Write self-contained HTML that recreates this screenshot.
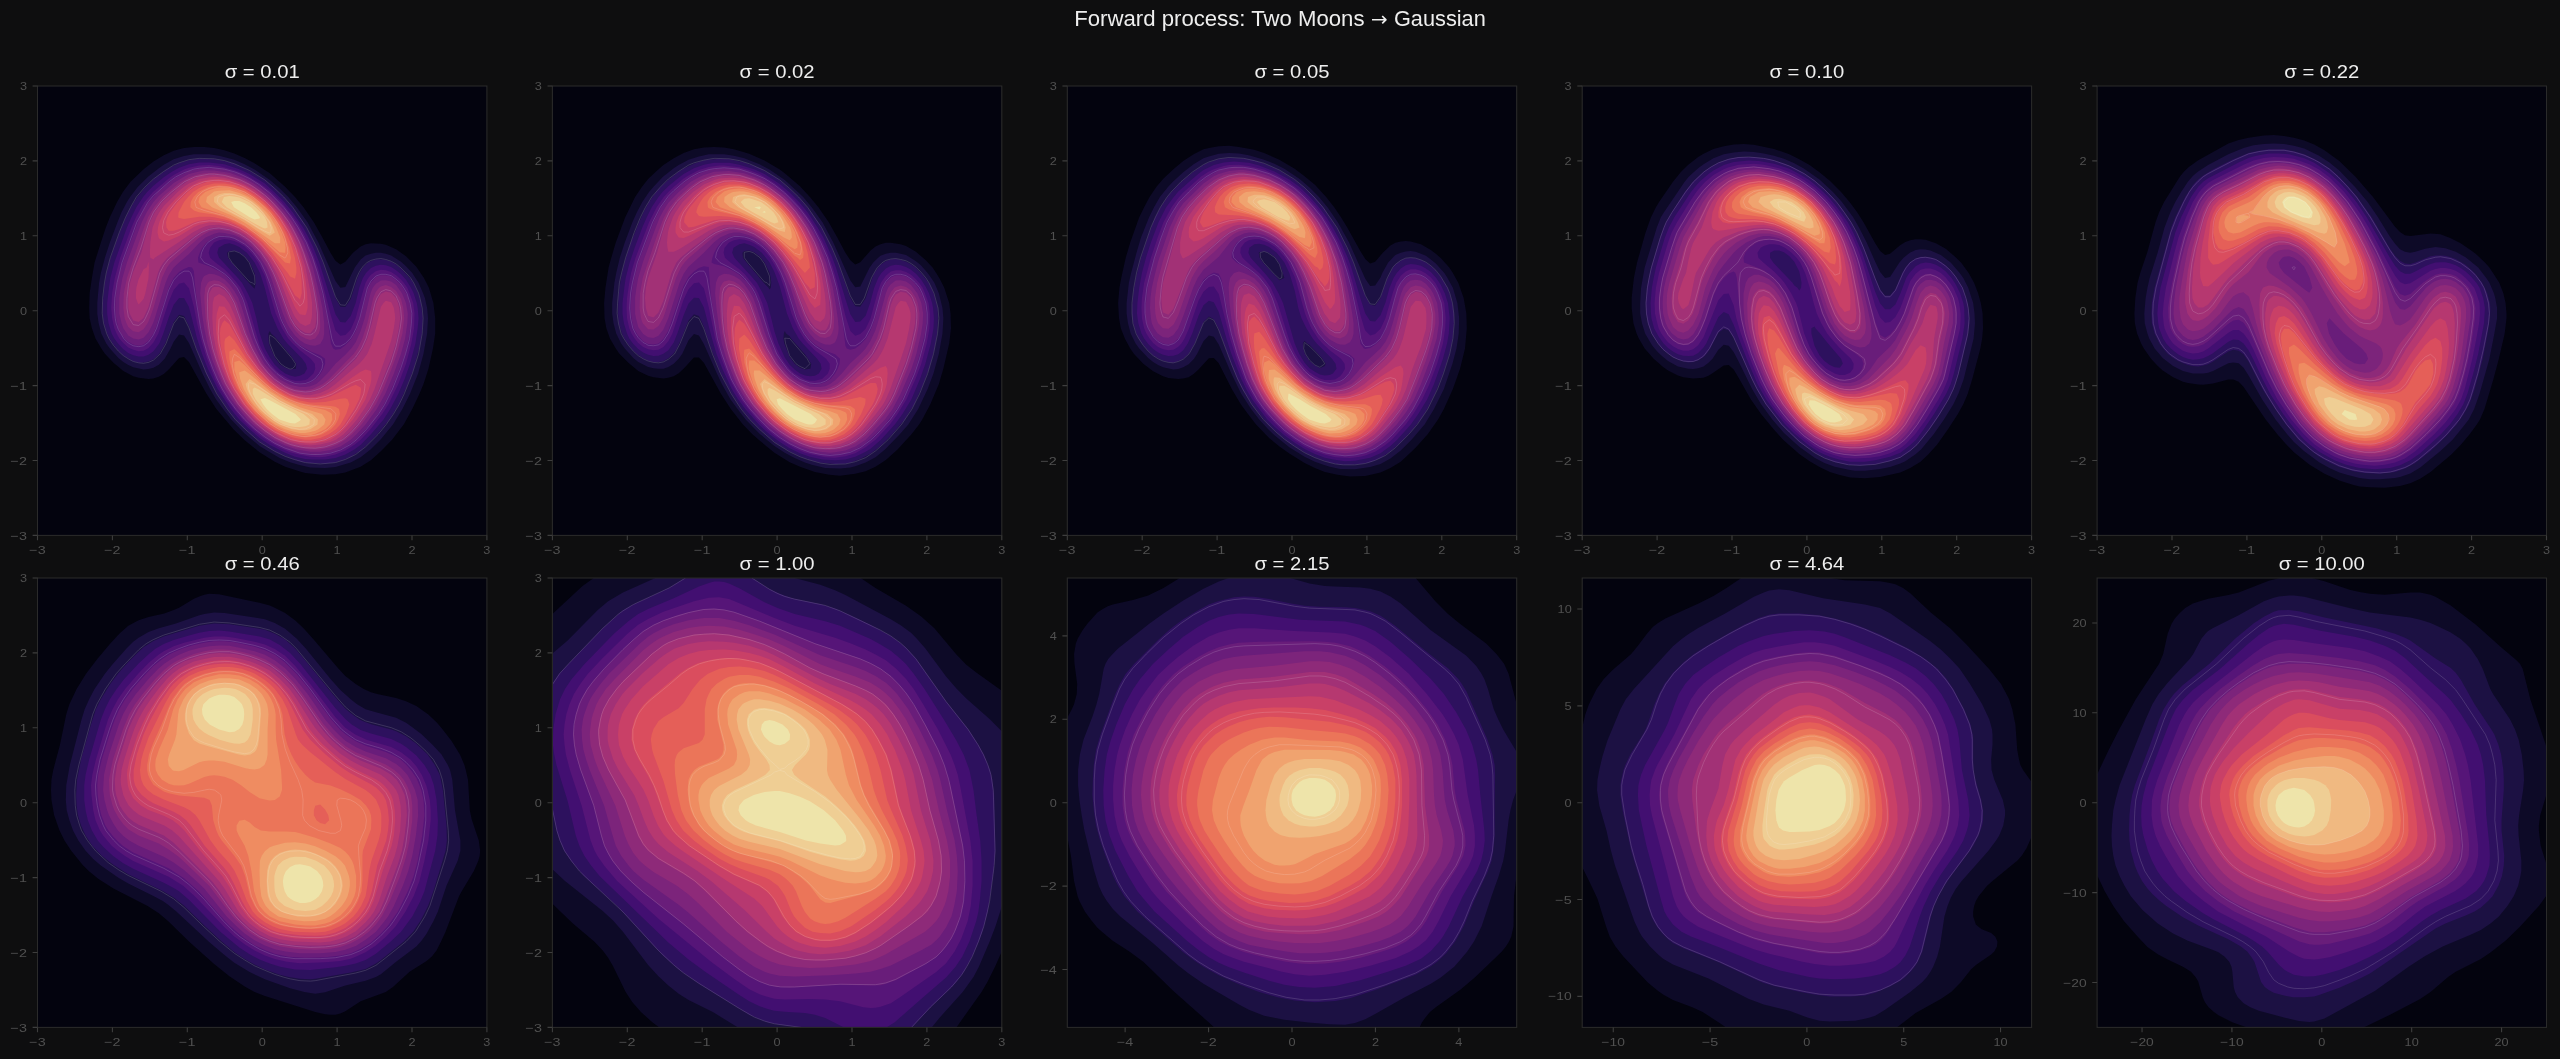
<!DOCTYPE html>
<html><head><meta charset="utf-8"><title>Forward process</title>
<style>
html,body{margin:0;padding:0;background:#0e0e0f;width:2560px;height:1059px;overflow:hidden}
svg{display:block;filter:blur(0.45px)}
text{font-family:"Liberation Sans",sans-serif}
.t{font-size:21.2px;fill:#eeeeee}
.st{font-size:18.4px;fill:#eeeeee}
.tk{font-size:11.8px;fill:#505050}
</style></head><body>
<svg width="2560" height="1059" viewBox="0 0 2560 1059">
<rect width="2560" height="1059" fill="#0e0e0f"/>
<defs><clipPath id="c"><rect width="1000" height="1000"/></clipPath></defs>
<text x="1074.27" y="26.00" class="t" textLength="290.23" lengthAdjust="spacingAndGlyphs">Forward process: Two Moons</text>
<path fill="#eeeeee" transform="translate(1370.86 26.00) scale(0.00977 -0.00977)" d="M1616 687V597L1223 204 1103 324 1336 557H117V727H1336L1103 960 1223 1080z"/>
<text x="1393.97" y="26.00" class="t" textLength="91.76" lengthAdjust="spacingAndGlyphs">Gaussian</text>
<g transform="translate(37.50 86.00) scale(0.449400)">
<g clip-path="url(#c)"><rect width="1000" height="1000" fill="#03030e"/>
<path fill="#0d0a27" d="M633 865l30-1 22-4 34-13 23-14 22-20 25-26 26-34 19-34 16-34 9-22 11-34 10-45 5-33 0-34-4-34-10-34-11-22-17-25-12-12-11-11-22-16-23-10-11-2-22-1-12 2-11 5-17 14-17 20-11 6-11-8-11-18-18-34-19-34-23-33-19-23-22-23-34-30-34-22-22-12-23-10-22-7-23-5-22-2-23 0-22 2-23 6-22 10-23 14-22 17-29 28-17 23-13 22-16 34-9 23-11 33-14 45-6 34-5 34-1 33 1 23 5 22 8 23 13 22 8 12 19 20 22 18 22 12 12 3 22 3 11-1 12-4 11-6 11-10 23-26 11-2 11 11 39 71 22 34 38 45 25 24 33 27 34 21 23 11 33 11 12 3 37 4z"/>
<path fill="#1c1143" d="M581 843l26 6 33 1 23-2 34-10 22-12 22-17 23-23 27-33 21-34 17-34 18-45 12-44 8-45 2-34-2-23-5-22-4-11-10-23-7-11-7-11-14-15-11-10-22-14-12-4-11-2-11 0-11 2-12 4-11 9-13 18-21 43-11 2-11-15-38-86-24-45-24-33-19-23-19-19-22-19-34-23-22-12-23-10-34-9-22-3-34 0-22 4-23 7-22 12-11 8-24 19-23 23-17 22-7 11-12 23-9 22-17 45-11 34-9 34-4 22-4 45 0 23 3 22 6 23 11 22 8 11 19 21 11 9 11 7 11 5 23 5 11-1 11-3 12-7 13-13 13-23 7-15 12-16 11 2 11 17 30 68 17 34 13 23 16 22 18 23 30 31 33 28 23 14 22 13 23 9 19 6z"/>
<path fill="#2d115e" d="M573 831l11 4 23 4 33 1 23-3 22-7 12-5 22-14 15-13 22-23 27-33 21-34 20-45 13-34 12-45 6-33 2-34-4-34-6-22-11-23-8-11-19-21-11-8-11-7-12-4-11-1-11 0-11 4-6 3-12 11-7 12-5 11-15 47-12 18-11-1-11-19-28-79-14-33-17-34-13-23-24-33-20-23-19-19-22-18-34-21-34-16-22-6-23-4-33-1-23 3-22 7-23 11-11 8-23 17-17 17-19 22-14 23-11 22-14 34-20 56-9 34-4 22-5 45 0 23 3 22 7 23 5 11 9 13 11 14 11 10 11 7 11 6 12 3 11 0 11-2 11-5 13-12 13-23 19-48 12-16 11 3 11 22 17 50 22 56 24 45 23 34 18 23 20 20 33 29 34 22 23 10 22 8zM483 451l-11-11-40-47-8-11-2-11 5-4 11-1 11 4 12 9 11 13 11 24 2 11 1 11-3 13zM562 631l-11-4-12-8-11-15-9-20-4-11-1-11 0-11 3-6 3 6 8 7 41 49 7 11-1 11-13 2z"/>
<path fill="#420f71" d="M611 831l29 0 23-3 22-8 20-11 15-11 22-23 28-33 15-23 18-34 14-33 12-34 12-45 5-34 2-22-2-23-2-11-7-22-6-12-11-18-11-12-11-9-11-7-12-4-11-1-11 2-11 5-11 11-7 11-8 22-8 34-11 29-12 14-11-1-11-17-36-115-13-33-11-23-12-22-23-34-19-23-21-21-22-20-34-21-23-11-33-11-34-4-22 0-23 4-22 8-16 9-18 12-23 19-14 14-9 11-15 23-11 22-10 23-28 78-9 34-3 22-4 34 0 23 3 22 7 23 6 11 9 12 11 12 11 8 11 5 12 3 11 0 11-4 11-8 13-17 9-22 12-36 11-28 12-15 11 0 11 20 18 70 11 34 13 33 22 45 29 45 19 23 23 22 22 19 23 16 34 17 22 9 23 5 15 1zM562 644l-11-4-12-9-11-11-11-16-11-20-4-11-8-24-7-32-9-34-10-22-13-23-9-11-42-45-4-11 3-11 13-8 11-2 11 3 11 5 17 13 17 22 12 23 11 34 14 56 14 33 13 23 9 11 33 34 8 11 3 11-6 11-10 5-11 2-11-3z"/>
<path fill="#561578" d="M581 820l26 5 22 1 11-1 23-5 22-9 21-13 13-11 22-23 26-34 14-22 22-45 17-45 12-45 6-34 1-33-3-23-8-22-5-12-8-11-6-7-11-10-11-7-12-4-11-1-11 3-11 8-6 7-6 11-7 23-15 56-11 25-12 12-11 2-11-12-11-36-18-70-10-34-12-33-10-23-11-22-13-23-17-22-18-23-26-25-23-17-33-20-23-9-34-9-22-2-22 1-23 5-11 4-23 12-11 8-35 30-19 22-7 12-12 22-10 23-25 67-12 45-6 34-2 33 2 23 5 22 5 12 6 11 9 10 11 10 11 5 12 3 11-1 11-6 11-12 11-20 23-71 11-26 12-14 11-3 11 13 3 11 8 30 7 37 8 34 14 45 18 45 12 22 14 23 16 22 19 23 16 16 22 19 23 16 22 12 23 10 19 5zM562 653l-23-13-11-10-11-14-11-17-12-24-4-13-23-79-9-22-6-12-14-18-11-12-11-11-20-15-12-11-3-11 3-11 9-12 11-5 12-2 11 1 11 3 11 5 12 7 14 14 9 11 7 11 15 30 24 83 14 33 14 23 10 11 16 15 24 19 9 11 1 11-4 11-13 12-5 2-12 2-11 0-11-3z"/>
<path fill="#691d7a" d="M561 809l23 7 34 4 22-2 23-5 22-10 23-16 22-23 19-22 16-23 18-34 19-45 16-44 8-34 5-34 0-22-1-12-5-22-5-11-11-18-11-11-7-5-4-3-12-3-11 0-11 4-11 13-6 11-21 79-7 18-9 16-14 15-11 8-11 2-5-3-5-11-8-56-12-56-8-34-10-34-13-33-11-23-12-22-23-34-28-31-22-21-34-22-23-11-33-10-23-3-22 0-11 1-23 5-22 11-12 7-35 29-21 24-7 10-12 22-9 23-29 78-7 23-5 22-4 34-1 22 2 23 5 22 6 12 8 11 8 7 11 6 12 3 11-3 11-8 11-16 5-12 29-90 11-22 12-13 11-7 11-4 7 1 4 8 2 26 4 34 8 56 7 34 6 22 12 34 14 34 11 22 14 23 16 22 20 23 21 20 23 18 22 14 23 11 10 4zM573 663l-22-9-20-14-14-15-13-18-12-23-9-22-20-68-9-22-11-23-9-11-18-18-12-8-22-11-24-8-1-11 4-11 6-11 9-12 17-11 11-3 12-1 11 2 11 3 23 13 11 9 10 11 16 22 11 23 9 22 25 79 8 18 9 16 13 16 11 10 23 13 22 9 11 8 0 11-4 11-6 11-10 12-13 8-9 3-14 1-11-1z"/>
<path fill="#7c247b" d="M577 809l30 5 22 0 23-4 22-8 23-15 13-12 20-22 25-34 19-34 19-45 16-44 9-34 5-34 1-22-4-23-9-22-13-18-11-8-12-3-11 1-11 7-7 9-5 12-13 56-9 28-11 25-10 14-13 14-22 20-18 22-16 16-9 7-13 5-11 2-12 0-22-5-23-12-14-13-20-22-13-22-11-23-9-24-17-55-8-22-9-16-11-15-11-11-12-7-11-4-11-1-11 5-3 4-4 11-2 23 4 45 5 33 7 34 10 34 13 33 10 23 20 34 17 22 19 23 16 15 23 18 22 14 23 11 26 9zM595 573l12 4 11 1 11-4 7-12 2-11 0-23-4-34-7-33-14-57-12-33-9-23-12-22-13-23-16-22-23-26-11-11-23-18-11-8-22-12-23-9-11-4-34-5-22 0-11 2-23 6-11 6-23 14-33 29-12 13-8 12-7 11-11 22-33 90-10 34-4 22-3 23 0 34 5 22 4 11 11 16 11 7 12 2 11-4 11-12 10-20 4-11 24-79 7-17 11-17 12-11 22-19 24-26 13-11 19-8 11-3 12 1 22 5 11 5 12 8 17 15 16 19 16 25 10 23 26 79 9 22 7 12 11 15 11 11 11 7z"/>
<path fill="#8e2a79" d="M605 809l24 0 23-5 16-6 17-11 15-12 21-22 17-23 15-22 17-34 18-45 12-33 12-45 4-34-2-23-5-20-8-13-3-5-11-9-12-4-11 3-4 3-7 9-6 14-13 56-11 34-11 22-8 12-55 56-14 11-23 11-16 3-12-1-11-2-11-4-15-7-19-13-20-21-15-22-13-23-14-33-22-68-12-22-5-8-11-12-12-7-11-2-11 3-3 3-6 11-2 23 3 45 5 34 7 33 11 34 13 34 12 22 22 34 18 22 21 22 23 18 22 15 23 11 22 8 32 5zM596 562l11 3 11-3 8-11 3-12 0-11-1-22-5-34-7-34-16-56-19-45-12-22-15-23-28-34-32-27-33-21-34-12-11-3-23-2-22 1-11 2-23 7-22 13-37 31-19 23-13 22-9 23-38 112-7 34-1 33 3 23 4 11 4 8 3 3 8 7 12 2 11-7 9-13 5-11 8-23 19-67 11-23 8-11 12-11 52-45 11-7 11-6 11-3 11-1 23 3 22 10 23 15 22 23 15 22 12 23 9 22 21 61 11 27 11 17 11 12 12 7z"/>
<path fill="#a23176" d="M568 798l28 6 22 1 22-4 23-7 13-7 21-18 23-27 17-23 19-34 19-49 12-30 11-36 6-31 3-22-2-23-3-11-4-10-11-13-12-3-11 6-5 9-6 14-9 42-10 34-10 22-15 23-47 45-22 17-11 6-11 4-11 3-11 0-23-3-22-9-12-7-11-8-15-15-18-22-20-34-15-33-22-63-11-21-11-13-12-7-11 0-4 2-7 12-2 22 1 34 4 34 7 33 6 23 12 33 11 23 12 22 15 23 19 22 16 17 23 19 22 14 23 12 17 6zM581 539l3 3 12 7 11 1 11-13 3-20-1-23-5-33-7-34-9-34-8-22-9-23-11-22-21-34-18-22-15-16-23-19-22-15-11-5-12-6-22-7-11-2-23-2-22 1-11 2-23 9-22 15-37 33-17 23-11 22-7 23-12 45-18 43-7 24-4 23 0 33 3 12 8 16 12 3 11-9 11-24 21-76 5-12 7-11 9-11 56-45 16-11 21-9 11-2 11 0 23 3 22 10 15 9 14 11 21 23 16 22 12 23 9 22 26 71 11 21 8 9z"/>
<path fill="#b63870" d="M584 798l23 2 22-2 23-6 12-5 17-12 11-11 19-22 16-23 13-22 10-23 37-107 6-28 3-22-1-11-2-12-5-11-1-2-12-3-5 5-6 9-14 59-6 22-10 23-8 11-10 11-53 45-15 11-19 9-8 2-14 3-11 0-23-4-22-10-23-14-22-22-16-20-20-34-16-33-16-42-11-25-11-15-12-6-11 7-3 13-1 34 2 34 6 33 9 34 14 34 11 22 14 23 17 22 21 23 12 11 22 16 22 13 23 10 22 6zM584 528l12 6 11-5 3-12 1-11 0-23-3-22-12-60-14-41-10-23-12-22-23-34-20-22-11-10-23-18-22-12-12-5-11-4-22-6-23-2-11 1-22 4-23 10-12 8-13 11-31 31-10 14-6 11-9 23-5 33-1 23 1 11 7 4 3-4 54-35 30-21 15-8 11-5 11-3 22-1 23 5 11 4 23 12 22 18 12 12 18 22 19 34 10 22 20 52 7 16 4 8 11 14zM223 483l2 3 11-12 4-13 7-34 1-23-1-13-4 13-7 4-11 22-5 19-1 12 0 11 4 11z"/>
<path fill="#c94067" d="M558 787l26 7 23 2 11-1 22-4 12-4 19-12 12-11 19-22 15-23 13-22 11-34 2-11 0-12-1-6-12-3-11 5-22 15-34 24-20 10-14 5-11 2-22 1-23-5-11-4-19-10-17-11-12-11-21-23-16-22-13-23-37-78-11-15-12-1-5 16-1 11-1 22 2 23 5 32 7 24 8 22 10 23 13 22 15 23 15 18 15 16 30 23 22 14 19 8zM582 506l2 2 12 2 2-4 3-12 0-11-1-22-4-34-8-34-7-22-13-34-19-34-17-22-9-11-29-26-22-16-11-6-23-8-11-4-23-3-22 1-22 5-23 12-26 22-21 23-9 12-10 21-3 12-1 11 3 13 11 7 11-2 23-10 33-20 12-5 22-5 11-1 23 3 22 8 11 5 23 14 17 15 11 12 18 22 15 22 11 23 29 66 9 13z"/>
<path fill="#da4d5e" d="M570 787l26 4 22-1 22-5 12-5 11-7 11-9 9-11 22-34 11-22 3-12 1-11-1-3-11-6-11 4-45 22-21 6-13 1-22-1-12-2-22-7-11-5-15-9-19-14-11-11-18-20-24-33-37-66-11-9-5 7-4 11-1 12 1 22 4 23 5 22 8 22 10 23 12 22 15 22 11 14 20 21 13 11 16 11 18 11 12 5 19 7zM581 472l3 3 4-14 0-23-2-22-2-12-8-33-13-34-19-34-16-22-21-23-24-18-26-15-19-7-11-3-23-3-25 1-19 7-11 5-15 11-22 22-17 23-6 11-3 11 1 12 5 7 11 0 12-3 34-16 11-3 22-3 11 1 23 3 22 8 23 12 21 16 12 11 21 23 17 22 14 23 27 50 8 6z"/>
<path fill="#e55f58" d="M595 787l13 0 21-4 19-8 16-11 10-11 13-23 7-22-4-11-5-2-11 1-34 7-22 1-11 0-23-4-22-8-11-5-21-13-13-10-25-24-27-33-27-41-11-11-9 7-2 7 0 15 4 23 7 28 11 28 6 11 22 34 17 20 11 11 17 14 17 12 23 11 11 4 11 3 22 4zM570 427l3 2 3-13 0-12-3-21-10-35-10-22-13-23-16-22-22-23-19-14-22-14-23-9-22-4-23 0-22 5-11 5-14 9-11 11-9 11-12 23-1 11 2 2 11 2 34-5 22 0 11 1 23 5 11 3 22 11 25 15 27 22 21 23 29 38 6 7 5 8 8 3z"/>
<path fill="#eb7559" d="M559 775l14 4 23 3 22-2 16-5 19-11 10-11 6-11 4-12-2-11-8-5-11-2-34-2-22-3-23-6-22-10-28-17-26-22-21-23-27-33-11-11-11 6 0 16 2 11 9 34 10 22 14 23 21 26 23 21 11 9 17 11 25 11zM551 393l11 2 2-13-4-22-12-34-13-23-16-22-13-14-23-19-22-14-23-8-11-3-23-2-22 3-11 5-13 7-11 11-6 11-1 12 8 7 11 4 34 5 23 6 22 9 23 12 22 15 24 20 44 45z"/>
<path fill="#ef8c61" d="M574 775l22 2 11 0 11-3 22-10 11-11 5-11-1-12-3-3-12-6-56-12-22-8-11-5-23-14-25-19-42-42-12-10-11 3 0 17 10 32 13 24 22 31 23 22 22 16 23 12 23 7zM549 371l2 0 1-11-1-12-8-22-12-23-14-19-13-14-13-12-15-11-27-14-22-6-11-1-12 0-11 2-11 4-9 4-12 11-3 11 7 12 51 17 33 15 38 24 52 44 10 1z"/>
<path fill="#f0a36f" d="M551 764l22 6 11 2 12 0 11-2 11-3 7-3 13-11 3-11-8-12-49-15-33-15-34-21-45-38-11-8-12 4 0 3 2 12 8 22 13 23 8 11 14 16 19 18 16 11 22 11zM526 348l2 2 11 0 1-2 0-11-9-22-13-23-9-11-11-11-15-13-14-10-20-9-22-6-23 1-11 2-16 12-2 11 13 12 39 16 22 11 23 14 54 37z"/>
<path fill="#f0b981" d="M566 764l18 2 12 0 11-2 16-11 1-11-13-12-38-14-34-17-22-15-45-32-9 11 3 11 5 11 7 12 16 22 12 11 22 17 11 7 27 10zM504 326l13 7 11-7-4-11-5-12-16-22-10-11-14-12-18-11-23-7-11-2-11 0-12 3-11 6 0 11 13 12 55 29 43 27z"/>
<path fill="#efce94" d="M548 753l14 4 11 2 11 0 12-2 9-4 1-11-14-12-53-26-45-28-11-5-4 3 0 11 6 12 17 22 11 11 14 12 21 11zM500 315l6 2 6-2-1-12-5-11-9-11-14-13-12-10-22-10-11-2-11-1-12 2-5 11 11 12 62 36 17 9z"/>
<path fill="#eee4aa" d="M538 742l24 8 11 1 11-6 2-3-12-12-57-31-11-5-10 3 6 11 8 11 12 11 16 12zM472 292l11 5 11-2 1-3-8-11-12-11-14-9-12-5-11 0-7 2 6 12 35 22z"/>
<g fill="none" stroke="#fff" stroke-opacity="0.15" stroke-width="2.2">
<path d="M571 831l25 7 33 3 34-3 22-7 23-11 22-17 28-28 18-22 16-23 13-22 11-23 18-45 14-44 8-45 2-34-2-23-5-22-3-11-11-23-7-11-10-11-11-11-11-9-11-6-12-4-11-2-11 1-11 3-9 5-11 11-7 12-5 11-15 45-10 16-11-1-11-18-27-76-14-33-23-45-31-45-20-23-20-19-22-19-34-21-34-15-22-7-23-4-33-1-23 3-22 7-12 5-22 14-23 17-19 18-19 22-13 23-11 22-14 34-20 56-9 34-4 22-4 34-1 34 3 22 7 23 5 11 10 15 11 13 11 10 11 7 11 6 12 3 11 1 11-2 11-5 15-14 13-23 17-44 12-16 11 3 11 22 16 46 23 56 23 45 23 34 18 23 21 21 33 29 34 21 23 11 20 7zM562 630l-11-5-10-7-13-17-11-28-1-11 1-8 11 7 39 46 7 11-1 5-6 6-5 1zM483 442l-5-4-6-2-39-43-7-11-1-11 2-2 11-2 11 4 12 9 10 13 12 30 1 15-1 4z"/>
<path d="M608 820l21 0 23-3 22-7 22-12 14-11 22-23 27-34 14-22 17-34 18-45 11-33 9-34 4-34 1-22-4-23-7-22-7-12-8-11-9-8-11-8-12-3-11 0-11 4-11 11-8 15-17 68-8 22-6 12-6 10-12 12-11 6-11 0-4-6-4-11-20-101-12-45-11-34-14-34-18-33-15-23-17-22-31-32-23-18-22-14-23-11-11-4-22-6-34-4-22 2-12 2-22 8-18 9-15 11-35 31-12 14-7 12-18 33-33 90-11 45-5 34-1 22 2 23 2 11 5 14 12 20 10 10 11 6 12 2 11-2 11-8 11-16 7-15 27-85 11-22 12-13 11-7 11 0 4 4 4 11 18 112 5 23 10 34 12 33 10 23 11 22 14 23 16 22 20 23 22 21 23 18 22 14 23 11 33 11 24 3zM584 663l-11-1-22-9-18-13-16-16-12-17-12-23-10-24-23-77-4-11-12-23-17-21-11-10-23-15-22-10-8-11 2-11 5-11 9-12 14-9 11-4 12 0 11 1 11 3 11 6 12 7 11 9 9 10 16 22 11 23 9 23 24 78 5 11 12 23 15 18 11 10 12 8 36 20 3 11-2 11-6 11-10 12-10 6-11 4-12 1z"/>
<path d="M564 798l20 5 12 2 22 1 22-3 23-8 16-8 18-15 17-19 25-34 19-34 29-70 11-35 9-41 3-22-2-23-3-11-5-11-2-5-11-11-12-3-11 5-9 14-4 11-13 56-7 23-10 22-13 19-50 49-18 14-11 7-11 4-11 3-11 1-23-3-11-4-11-5-23-16-14-13-18-22-19-34-15-33-24-68-11-20-11-13-12-7-11-1-10 7-4 12-1 22 1 34 4 34 7 33 7 23 12 33 10 23 13 22 15 23 19 22 17 18 23 19 22 15 23 11 13 5zM592 551l4 2 11 1 6-3 5-5 3-7 2-11 0-22-3-23-6-34-7-32-15-46-9-23-11-22-13-23-16-22-26-28-11-10-23-17-11-7-23-11-33-9-23-3-11 0-11 2-20 4-24 11-29 23-23 22-17 23-10 22-18 57-17 44-10 34-4 34 0 22 3 19 11 18 12 2 11-9 4-7 7-15 3-8 22-78 9-17 11-14 57-48 16-11 17-7 11-2 11-1 23 4 22 9 13 8 15 11 21 23 15 22 12 23 9 22 17 47 12 32 10 17 11 12 8 5z"/>
<path d="M565 787l19 4 12 1 22 0 22-5 24-12 13-11 10-11 23-34 11-22 5-12 2-11 1-11-10-10-11 3-11 5-41 24-16 6-22 5-11 0-23-2-22-7-11-6-13-7-21-16-27-29-24-33-39-75-11-12-10 8-2 3-2 31 2 22 12 49 11 30 11 22 23 35 18 21 15 15 12 10 22 15 23 11 14 6zM579 483l5 7 7-7 3-11 0-11-2-23-5-34-13-44-15-34-21-34-18-22-11-12-26-20-23-13-11-5-22-7-23-3-11 0-22 3-23 9-18 14-22 22-18 23-9 18-3 16 3 12 11 5 11-2 12-5 33-18 12-4 22-3 22 1 23 6 22 9 16 10 28 22 11 12 18 22 21 34 30 61 6 6z"/>
<path d="M566 775l18 4 12 1 22-3 11-3 17-10 11-11 6-11 1-12-1-2-9-9-2-1-45-6-23-5-22-8-23-12-19-13-13-11-24-23-34-36-11-7-4 10-1 11 4 22 14 34 21 33 21 23 24 21 22 14 27 10zM549 382l2 1 1-1 5-11-1-11-6-23-10-22-12-19-11-15-23-22-15-12-18-11-23-8-14-3-20-1-11 1-11 3-11 5-5 3-11 11-5 11 3 12 7 3 11 4 45 12 22 9 23 12 37 27 41 39 10 6z"/>
<path d="M583 764l13-1 11-5 8-5 1-11-14-12-40-17-23-12-56-38-11-3-3 3 1 11 4 11 14 23 21 22 14 12 19 11 20 7 21 4zM513 326l4 1 2-1 1-11-4-12-16-22-10-11-15-12-20-11-17-5-11-1-11 1-14 5-2 11 13 12 48 26 33 21 12 6 7 3z"/>
</g></g>
<rect x="0" y="0" width="1000" height="1000" fill="none" stroke="#2a2a2a" stroke-width="2.4"/>
</g>
<text x="262.20" y="77.50" text-anchor="middle" class="st" textLength="74.98" lengthAdjust="spacingAndGlyphs">σ = 0.01</text>
<text x="37.50" y="554.40" text-anchor="middle" class="tk" textLength="16.36" lengthAdjust="spacingAndGlyphs">−3</text>
<text x="27.00" y="539.50" text-anchor="end" class="tk" textLength="16.36" lengthAdjust="spacingAndGlyphs">−3</text>
<text x="112.40" y="554.40" text-anchor="middle" class="tk" textLength="16.36" lengthAdjust="spacingAndGlyphs">−2</text>
<text x="27.00" y="464.60" text-anchor="end" class="tk" textLength="16.36" lengthAdjust="spacingAndGlyphs">−2</text>
<text x="187.30" y="554.40" text-anchor="middle" class="tk" textLength="16.36" lengthAdjust="spacingAndGlyphs">−1</text>
<text x="27.00" y="389.70" text-anchor="end" class="tk" textLength="16.36" lengthAdjust="spacingAndGlyphs">−1</text>
<text x="262.20" y="554.40" text-anchor="middle" class="tk" textLength="7.06" lengthAdjust="spacingAndGlyphs">0</text>
<text x="27.00" y="314.80" text-anchor="end" class="tk" textLength="7.06" lengthAdjust="spacingAndGlyphs">0</text>
<text x="337.10" y="554.40" text-anchor="middle" class="tk" textLength="7.06" lengthAdjust="spacingAndGlyphs">1</text>
<text x="27.00" y="239.90" text-anchor="end" class="tk" textLength="7.06" lengthAdjust="spacingAndGlyphs">1</text>
<text x="412.00" y="554.40" text-anchor="middle" class="tk" textLength="7.06" lengthAdjust="spacingAndGlyphs">2</text>
<text x="27.00" y="165.00" text-anchor="end" class="tk" textLength="7.06" lengthAdjust="spacingAndGlyphs">2</text>
<text x="486.90" y="554.40" text-anchor="middle" class="tk" textLength="7.06" lengthAdjust="spacingAndGlyphs">3</text>
<text x="27.00" y="90.10" text-anchor="end" class="tk" textLength="7.06" lengthAdjust="spacingAndGlyphs">3</text>
<path d="M37.50 535.40v4.90M37.50 535.40h-4.90M112.40 535.40v4.90M37.50 460.50h-4.90M187.30 535.40v4.90M37.50 385.60h-4.90M262.20 535.40v4.90M37.50 310.70h-4.90M337.10 535.40v4.90M37.50 235.80h-4.90M412.00 535.40v4.90M37.50 160.90h-4.90M486.90 535.40v4.90M37.50 86.00h-4.90" stroke="#3e3e3e" stroke-width="1.1"/>
<g transform="translate(552.40 86.00) scale(0.449400)">
<g clip-path="url(#c)"><rect width="1000" height="1000" fill="#03030e"/>
<path fill="#0d0a27" d="M616 865l24 2 34-4 23-6 22-10 23-15 26-23 31-34 17-22 7-11 18-34 19-45 10-34 13-56 4-34-1-33-3-23-11-34-11-22-7-11-8-12-15-16-22-19-22-13-12-4-22-3-11 0-12 3-11 5-11 9-23 26-11 5-11-9-11-17-18-34-19-34-23-33-19-23-22-24-34-29-11-8-34-20-34-15-34-10-22-4-22-1-23 1-22 4-23 8-22 12-23 15-17 15-17 16-14 18-15 22-22 45-21 56-10 34-6 22-7 45-3 34 1 34 4 22 8 23 13 22 8 12 20 20 22 18 22 11 12 3 22 3 11-2 12-3 11-7 11-10 23-25 11 0 11 12 38 69 22 34 27 34 21 22 16 14 33 27 34 21 23 10 33 12 32 6z"/>
<path fill="#1c1143" d="M577 843l30 7 33 1 23-2 11-3 23-8 22-12 21-17 33-34 19-22 22-34 21-45 13-34 12-44 8-45 2-34-2-23-8-33-10-23-7-11-8-11-15-17-11-9-22-14-12-3-11-2-11 0-11 2-12 5-5 4-11 11-8 11-21 42-11 2-11-15-38-85-24-45-24-33-19-23-19-18-22-20-34-23-22-12-34-13-23-6-22-3-34 0-22 5-23 7-22 12-11 7-24 19-21 22-10 12-15 22-12 23-10 22-17 45-11 34-8 34-4 22-5 45 0 23 3 22 6 23 11 22 8 11 19 21 11 9 22 11 12 3 11 1 11 0 11-4 12-7 11-11 8-11 14-30 12-14 11 3 11 19 29 66 11 23 19 34 16 22 18 23 31 32 33 27 23 15 22 12 23 10 15 5z"/>
<path fill="#2d115e" d="M571 831l25 7 33 3 23-1 11-2 22-8 23-12 22-17 26-26 28-33 21-34 20-45 13-34 12-45 6-33 2-34-1-23-9-33-11-23-8-11-9-11-11-11-11-8-11-6-12-4-11-2-11 1-11 4-12 8-5 6-8 12-5 11-15 46-12 18-11-1-11-18-28-79-14-33-17-34-13-23-24-33-20-23-19-18-22-19-23-15-22-12-34-13-34-7-22-1-23 2-11 2-22 7-23 11-11 7-23 18-17 16-10 11-16 22-12 23-10 22-18 45-11 34-9 34-4 22-4 34-1 34 2 22 7 23 5 11 9 13 11 14 11 9 11 8 11 5 12 3 11 0 11-2 11-6 11-10 8-12 10-22 16-40 12-14 11 4 11 23 16 49 22 56 24 45 22 34 19 23 21 21 33 29 34 21 23 11 20 7zM483 453l-2-4-9-9-40-47-8-11-1-11 4-4 11-1 11 4 12 9 11 13 11 23 3 12 1 11-1 11-3 4zM562 631l-11-4-12-9-11-15-12-30-2-11 1-11 2-6 3 6 8 6 3 5 31 35 7 10 7 11-2 11-12 2z"/>
<path fill="#420f71" d="M601 831l28 2 23-2 22-6 23-11 11-7 23-20 31-34 17-23 20-33 19-45 12-34 12-45 6-34 1-22-2-23-2-11-7-22-7-14-11-17-11-12-11-9-11-6-12-4-11-1-11 2-11 6-10 10-7 11-9 22-9 34-10 28-12 13-11 1-11-17-11-34-21-70-8-22-20-45-13-22-22-34-19-23-21-21-22-19-34-22-23-11-33-10-23-4-33 0-23 4-22 8-23 13-11 8-23 19-13 13-9 11-15 23-11 22-10 23-17 45-11 33-9 34-3 22-4 34 0 23 3 22 7 23 5 11 9 12 11 11 11 8 11 5 12 3 11-1 11-4 11-8 12-17 8-20 14-41 11-26 12-13 11 1 11 21 18 69 10 34 13 33 21 45 14 23 16 22 32 36 22 20 23 17 22 14 23 11 22 8 28 6zM562 644l-11-4-12-9-11-11-11-16-14-31-9-27-7-29-9-34-10-22-13-23-9-11-41-45-5-11 3-11 13-8 11-2 11 3 11 5 17 13 17 21 11 22 5 13 7 19 16 60 13 33 13 23 9 11 32 34 8 11 2 11-6 11-9 5-11 1-11-2z"/>
<path fill="#561578" d="M577 820l30 6 22 1 23-3 22-7 23-13 22-17 32-34 17-23 20-33 20-45 13-34 12-45 6-34 1-33-3-23-8-22-5-12-8-11-7-8-11-10-11-6-12-4-11 0-11 3-11 9-11 16-8 23-15 56-11 23-12 12-11 4-11-11-2-6-9-28-18-73-10-34-12-33-10-23-12-22-13-23-16-22-22-26-22-21-23-18-33-20-23-9-22-6-34-4-11 0-23 3-22 7-23 12-11 7-22 19-12 11-11 12-15 22-17 33-30 79-10 34-4 22-5 34-1 22 1 23 5 22 5 12 7 11 8 10 11 9 11 5 12 2 11-1 11-6 11-13 9-17 25-76 11-23 12-13 11-2 11 13 3 11 8 32 14 69 14 45 13 33 11 23 19 34 17 22 19 23 17 17 22 19 23 15 22 13 23 10 15 4zM562 653l-23-13-11-10-11-14-11-18-12-25-11-34-16-56-9-22-6-12-14-18-11-13-11-10-20-15-12-11-3-11 2-11 10-12 11-5 12-2 11 1 11 3 11 5 12 7 11 10 11 13 11 18 12 23 11 32 15 53 14 33 14 23 9 11 15 15 25 19 8 11 0 11-4 11-13 12-16 4-11 0-11-3z"/>
<path fill="#691d7a" d="M607 820l22 0 23-3 22-8 19-11 26-23 21-22 18-23 15-22 16-34 19-45 10-33 11-45 3-23 0-22-3-23-8-22-7-12-9-11-7-7-11-7-12-3-11 0-11 5-11 12-6 11-7 23-11 45-10 27-10 18-13 14-11 8-11 3-8-3-3-6-6-50-11-56-10-45-11-34-13-33-23-45-14-23-18-22-29-30-23-18-22-14-23-11-11-4-22-7-34-3-22 2-12 2-22 8-14 7-20 14-22 20-11 11-17 23-17 33-34 90-11 45-4 23-2 33 2 23 5 22 10 17 11 12 11 6 12 1 11-2 11-10 11-19 28-83 6-16 11-20 12-12 11-8 11-4 11 2 4 58 10 67 7 34 9 34 12 33 10 23 18 33 23 34 20 22 22 22 23 17 22 15 23 11 33 11 23 3zM573 663l-22-9-12-7-19-18-16-22-12-23-9-22-20-68-9-22-12-23-8-11-18-18-12-8-22-11-22-5-6-3 2-11 4-11 6-11 9-12 17-11 12-3 12-1 11 1 11 3 23 13 11 9 11 12 15 22 12 23 9 22 26 79 10 22 7 12 11 14 11 10 23 14 22 8 11 10-1 11-4 11-6 11-10 12-12 7-11 4-12 1-11-1z"/>
<path fill="#7c247b" d="M573 809l23 5 22 2 11-1 23-4 22-9 23-15 12-12 31-33 17-23 18-34 24-56 11-33 10-43 4-25 1-22-4-23-9-22-14-18-11-8-12-3-11 1-11 8-6 8-5 12-15 56-8 26-11 24-11 17-12 13-22 20-19 23-15 15-11 8-11 5-11 2-12 0-11-1-11-4-23-12-15-13-19-22-13-22-10-23-10-26-17-53-8-22-9-16-11-15-11-11-12-7-11-4-11-1-11 5-3 4-4 11-2 23 3 33 6 45 6 34 10 34 13 33 10 23 20 34 17 22 20 23 16 15 23 18 22 15 23 11 22 8zM601 573l6 2 11 1 7-3 4-3 4-8 3-11 1-12-2-22-5-34-6-34-15-56-18-45-11-22-14-23-16-22-19-23-14-13-23-18-11-8-22-12-34-13-34-5-22 1-11 1-23 7-11 5-18 10-27 23-23 24-11 17-8 15-9 23-28 75-11 37-4 22-3 23 0 34 2 11 5 19 11 16 11 7 12 2 11-5 11-14 11-26 25-78 9-20 11-16 34-31 22-23 14-11 20-9 11-2 12 0 22 6 11 5 12 7 18 16 15 18 12 17 15 32 9 22 18 57 14 30 11 16 11 12 12 7 5 2z"/>
<path fill="#8e2a79" d="M594 809l24 1 22-2 23-8 11-5 23-17 13-14 29-34 16-22 12-23 23-56 8-22 12-45 6-34 1-22-4-23-4-11-11-17-11-8-12-3-11 3-3 2-8 10-6 13-14 56-11 34-12 22-8 12-55 56-13 11-16 8-8 3-14 2-12 0-11-2-11-4-16-7-18-13-20-21-15-22-12-23-14-33-23-68-12-22-5-8-11-11-12-7-11-3-11 3-3 3-6 11-2 23 3 45 4 34 8 33 10 34 14 34 11 22 14 23 17 22 20 23 25 22 20 14 22 13 34 14 21 4zM584 551l12 8 11 2 11-4 4-6 4-12 1-22-4-34-5-34-8-33-7-23-12-33-11-23-12-22-14-23-15-18-14-16-31-26-33-21-12-5-22-7-11-3-23-2-22 1-11 2-23 8-16 8-16 12-25 22-19 23-14 25-12 31-34 101-6 34-1 33 3 23 4 11 10 11 2 2 12 1 11-8 4-6 7-13 3-9 25-79 11-23 8-11 10-11 56-47 11-6 11-5 11-3 11-1 23 3 11 4 11 5 24 16 22 23 15 22 17 34 35 93 11 19 11 12z"/>
<path fill="#a23176" d="M565 798l19 5 12 2 22 1 22-4 23-8 11-7 11-8 16-15 29-34 15-22 8-13 9-21 25-63 11-38 9-45 1-22-1-12-4-11-5-12-11-11-12-2-11 6-5 8-6 15-10 41-10 34-10 22-15 23-11 11-36 34-21 16-10 6-12 5-11 2-11 1-23-3-11-4-11-5-12-6-11-9-15-15-18-22-20-34-14-33-23-63-11-21-11-13-12-7-11 0-3 2-8 12-2 22 0 23 3 33 5 34 9 34 8 22 9 23 12 22 14 23 16 22 16 17 17 17 17 13 22 15 23 11 14 6zM587 539l9 5 11 0 4-5 5-11 2-11-1-23-2-22-6-34-5-22-14-45-9-23-11-22-21-34-18-22-14-15-11-10-23-17-22-12-12-6-22-7-23-4-11 0-11 0-19 3-26 10-22 14-13 10-21 21-17 24-11 22-8 23-12 45-20 56-5 22-2 23 2 22 5 17 12 4 11-11 11-26 18-62 11-23 9-11 27-22 46-34 24-10 11-2 11 0 23 4 22 9 16 10 14 11 21 23 16 22 17 34 29 74 8 16 7 11 7 9 3 2z"/>
<path fill="#b63870" d="M580 798l16 3 22 0 22-4 23-10 17-12 12-11 28-34 16-22 6-11 10-23 23-66 12-36 7-33 3-22 0-11-3-12-7-14-12-2-5 5-6 9-18 70-9 22-6 12-7 11-10 11-52 45-16 11-17 8-10 3-23 2-23-3-22-9-23-15-21-20-17-22-20-34-15-33-17-43-11-24-11-15-12-6-11 7-3 13-2 23 1 33 4 31 9 37 8 22 9 23 11 22 14 23 17 22 21 23 12 11 23 17 22 13 23 10 18 5zM582 517l2 3 12 5 9-8 3-11 0-23-2-22-10-57-15-44-10-23-12-22-23-34-19-21-11-10-23-18-22-12-12-5-22-8-23-3-11 0-22 2-11 3-23 10-24 17-23 22-16 23-6 11-8 23-3 11-2 22 1 12 2 9 12 0 11-5 67-42 23-10 11-3 22 0 23 4 11 4 23 12 22 18 13 13 18 22 20 34 39 88 9 13z"/>
<path fill="#c94067" d="M556 787l28 8 23 2 11-1 22-5 12-4 18-12 13-11 19-22 16-23 14-22 9-23 3-11 2-23-1-11-3-6-12 4-22 14-46 33-21 11-12 4-11 3-22 0-23-4-11-4-20-10-16-11-13-11-20-23-16-22-13-23-37-79-11-15-12-1-5 17-2 11 0 22 1 23 6 34 7 22 7 22 10 23 13 22 15 23 27 30 17 15 17 13 22 13 17 8zM584 494l12-7 1-15 0-23-1-11-7-34-5-22-8-22-15-34-21-34-19-22-27-25-22-15-11-6-23-9-11-3-23-3-22 0-22 6-20 10-15 11-12 11-20 23-12 19-5 14-2 12 0 11 7 11 11 1 11-4 45-22 23-8 11-1 11-1 23 3 22 8 11 5 14 8 20 15 19 19 9 11 23 33 13 23 26 53 11 14z"/>
<path fill="#da4d5e" d="M568 787l16 4 12 1 22-1 22-5 12-6 11-7 10-9 10-11 16-23 14-22 5-11 4-12 2-11-3-11-2-2-11 0-11 5-45 24-12 4-22 4-22-1-12-2-22-7-11-5-16-9-18-14-11-11-18-20-23-33-27-49-11-18-11-9-6 8-4 11-1 23 3 22 5 23 6 22 9 23 11 22 22 34 19 22 14 14 12 9 22 16 23 11 17 7zM572 449l1 3 9-3 2-2 0-31-10-45-12-33-19-35-16-22-22-23-22-17-11-7-18-9-27-9-23-3-22 2-22 7-23 14-12 11-19 23-7 11-5 11-1 11 10 12 12-2 45-14 11-2 22 0 23 3 11 4 22 10 20 12 28 22 20 23 17 22 28 45 10 11z"/>
<path fill="#e55f58" d="M584 787l23 1 11-1 11-3 20-9 14-11 10-11 14-23 9-22 1-12-12-4-45 10-22 2-11-1-23-3-22-7-11-6-22-13-12-9-25-25-27-33-27-42-11-12-11 9-1 22 4 23 5 22 8 23 11 22 14 23 15 19 13 14 12 12 20 16 11 7 23 12 11 4 22 6zM551 404l11 12 11-12-1-11-4-22-6-20-6-14-5-11-12-23-17-22-16-17-23-19-22-13-23-9-22-4-23 0-22 5-11 5-11 7-12 11-8 11-6 12-3 11 6 8 11 2 34-2 22 2 23 4 11 4 22 10 27 17 27 22 21 23 27 33z"/>
<path fill="#eb7559" d="M558 775l15 5 23 3 22-2 18-6 17-11 10-11 6-11 4-12 0-11-10-7-11-1-34-1-34-6-11-3-22-9-28-18-26-22-21-23-27-33-11-12-11 3-1 9 1 19 7 25 3 12 11 22 13 23 22 27 23 21 28 19 24 11zM546 382l5 5 7-5 1-11-5-23-8-22-12-23-17-22-22-23-12-9-22-13-12-5-21-6-12-2-23 1-11 3-19 9-12 11-6 11 1 12 2 2 12 5 33 7 23 6 33 15 23 13 25 19 24 23 18 18 7 4z"/>
<path fill="#ef8c61" d="M570 775l14 3 23 0 12-3 10-4 12-7 10-11 5-11-1-12-3-4-12-5-33-6-23-6-22-8-23-11-22-16-14-11-24-23-18-20-12-9-11 0-1 7 0 11 3 11 7 23 12 22 15 23 21 22 27 23 19 11 29 11zM534 360l5 3 6-3 1-12-6-22-11-23-12-16-16-17-12-12-16-11-24-12-22-5-11-2-12 1-11 2-11 4-15 12-4 11 10 12 43 15 33 15 34 21 45 36 6 3z"/>
<path fill="#f0a36f" d="M550 764l23 7 11 2 12 0 11-1 11-4 9-4 11-11 3-11-7-12-16-6-34-10-33-14-34-20-56-47-12 0-1 7 2 12 8 22 13 23 9 11 14 17 19 17 16 11 21 11zM515 337l13 6 5-6-1-11-3-11-14-23-8-11-11-11-13-12-22-13-23-8-11-2-11-1-14 2-9 4-10 7-1 11 13 12 54 25 23 13 43 29z"/>
<path fill="#f0b981" d="M562 764l22 4 12-1 14-3 14-11 1-11-13-12-39-14-34-17-22-14-45-33-10 11 8 22 15 23 21 22 14 12 19 12 23 10zM492 315l14 7 11 3 2-10-4-12-9-15-17-18-14-12-21-11-16-4-11-2-11 1-14 5-2 11 13 12 48 26 31 19z"/>
<path fill="#efce94" d="M547 753l15 5 11 2 11 1 12-2 12-6 0-11-15-12-54-25-45-28-11-5-4 2 0 11 5 12 18 22 11 11 14 12 20 11zM487 303l7 3 9-3-4-11-7-11-12-11-16-12-15-5-11-3-11 1-8 7 9 12 18 11 41 22z"/>
<path fill="#eee4aa" d="M570 753l8 0 6-3 5-8-14-12-69-35-7 2 3 11 9 11 11 11 17 12 23 9 8 2zM467 281l5 1 3-1-3-3-5 3zM449 270l12 5 3-5-3-2-12 2z"/>
<g fill="none" stroke="#fff" stroke-opacity="0.15" stroke-width="2.2">
<path d="M568 831l28 8 22 3 34-1 22-5 23-9 22-15 28-25 30-34 23-34 17-34 18-45 13-44 9-45 3-34-2-23-9-33-11-23-7-11-11-13-11-11-11-8-11-6-12-3-11-2-11 1-11 3-8 5-11 11-7 12-6 11-16 45-9 14-11 0-11-19-27-74-14-33-23-45-31-45-20-23-20-19-22-19-34-21-34-15-22-7-23-4-33-1-23 4-22 6-12 5-22 14-23 17-18 18-19 22-14 23-11 22-14 34-19 56-9 34-5 22-4 45-1 23 3 22 6 23 6 11 10 15 11 13 11 10 11 7 11 5 12 3 11 1 11-2 11-6 14-12 12-23 19-46 12-14 11 4 11 23 19 56 18 44 24 45 22 34 19 23 22 22 33 29 34 21 23 11 17 6zM562 629l-11-5-9-6-14-18-9-27-2-12 11 1 39 45 6 11-11 11zM483 444l-5-6-6-2-37-43-8-11 0-12 11-2 9 3 15 11 10 14 11 27 1 15-1 6z"/>
<path d="M597 820l21 2 22-2 23-5 22-10 23-17 14-13 30-33 16-23 13-22 25-57 11-33 12-45 5-34 0-22-3-23-8-22-6-12-9-11-10-9-11-7-12-3-11 0-11 4-11 12-8 14-18 68-8 21-11 21-12 12-11 7-11 0-4-5-5-11-22-113-9-33-11-34-15-34-17-33-15-23-17-22-31-32-23-18-22-14-23-10-11-4-22-7-34-3-22 2-12 2-22 7-17 9-16 11-23 20-12 12-18 25-17 33-34 90-11 45-4 23-2 33 2 23 5 22 6 12 6 9 11 11 5 2 6 4 12 1 11-2 4-3 7-6 11-17 9-22 22-67 3-9 11-21 12-13 11-6 11 0 3 4 4 11 19 112 4 23 10 34 12 33 9 23 12 22 14 23 16 22 21 23 22 22 23 18 22 14 23 11 22 8 24 5zM551 653l-18-13-11-11-16-22-7-11-5-12-11-27-23-74-9-22-7-12-17-22-11-10-23-14-20-10-10-11 2-11 5-11 9-12 14-9 11-4 12 0 11 1 11 3 11 5 12 8 11 9 9 10 16 22 12 23 9 22 25 79 8 18 9 16 13 17 11 10 12 8 18 10 17 11 3 11-3 11-6 11-10 12-8 5-11 4-12 1-11-1-22-8z"/>
<path d="M561 798l23 7 23 2 22-1 11-2 19-6 15-8 19-15 21-22 28-34 11-18 8-16 26-65 11-34 11-47 2-22 0-11-2-16-7-18-4-7-11-10-12-2-11 4-10 15-4 11-13 56-8 23-11 22-6 12-9 11-47 45-16 13-11 7-11 4-11 3-11 1-23-3-11-3-11-6-23-15-13-13-18-22-20-34-14-33-24-68-12-21-11-12-12-7-11-2-11 8-4 12-1 22 1 34 4 34 7 33 7 23 12 33 10 23 13 22 15 23 19 22 18 19 23 19 22 14 23 12 10 4zM607 551l11-12 2-11 1-22-2-23-6-34-6-31-7-25-17-45-18-33-23-34-14-16-18-18-27-20-11-7-23-11-33-10-23-2-11 0-27 5-26 11-17 12-13 11-23 22-16 23-10 22-22 68-15 39-7 28-4 23 0 33 2 12 5 11 4 7 12 2 11-10 11-24 24-76 10-20 11-14 13-11 42-34 17-11 18-7 11-3 11 0 23 4 22 9 23 15 22 22 20 27 12 23 14 33 22 59 10 20 12 14 12 8 11 1z"/>
<path d="M562 787l11 3 23 4 22 0 22-6 12-5 13-8 13-11 10-11 31-45 11-23 3-11 1-11-2-11-2-4-11-1-11 4-45 28-23 11-11 3-11 2-22 0-23-5-11-4-23-11-16-12-17-16-16-18-23-33-40-78-11-13-1 1-11 7 0 4-3 22 2 34 7 34 7 22 8 23 12 22 14 23 10 13 17 20 16 16 12 9 22 16 11 6 23 10zM582 472l2 2 1-2 4-11 1-12-1-22-6-34-10-33-4-12-17-33-23-34-21-23-25-19-25-14-20-8-11-3-23-3-22 1-22 7-13 6-10 6-18 16-19 23-8 11-5 11-3 11 0 12 8 10 11 0 57-22 11-3 22-1 23 4 22 7 23 12 11 8 22 18 20 23 17 22 14 23 28 49 9 7z"/>
<path d="M562 775l22 5 12 1 22-2 11-4 19-11 10-11 6-11 2-12-3-7-3-4-8-3-45-5-23-5-22-7-23-12-19-13-14-12-22-22-35-38-11-8-2 2-5 11 1 11 4 22 13 34 15 23 17 22 25 24 13 10 18 11 25 11zM538 371l1 1 12 4 2-5 1-11-2-12-13-31-11-19-13-17-21-21-17-13-16-9-12-5-22-6-11-2-12 0-11 2-11 3-12 6-12 11-5 11 4 12 14 5 45 13 22 9 23 12 22 15 17 13 38 34z"/>
<path d="M569 764l15 2 12-1 11-3 12-9 1-11-15-12-43-18-23-11-25-16-31-22-11-5-5 5 1 11 4 10 11 18 14 17 20 19 22 15 30 11zM497 315l9 3 9-3-3-12-6-12-8-10-15-14-11-9-23-11-11-2-11-1-11 1-6 2-4 11 12 12 79 45z"/>
</g></g>
<rect x="0" y="0" width="1000" height="1000" fill="none" stroke="#2a2a2a" stroke-width="2.4"/>
</g>
<text x="777.10" y="77.50" text-anchor="middle" class="st" textLength="74.98" lengthAdjust="spacingAndGlyphs">σ = 0.02</text>
<text x="552.40" y="554.40" text-anchor="middle" class="tk" textLength="16.36" lengthAdjust="spacingAndGlyphs">−3</text>
<text x="541.90" y="539.50" text-anchor="end" class="tk" textLength="16.36" lengthAdjust="spacingAndGlyphs">−3</text>
<text x="627.30" y="554.40" text-anchor="middle" class="tk" textLength="16.36" lengthAdjust="spacingAndGlyphs">−2</text>
<text x="541.90" y="464.60" text-anchor="end" class="tk" textLength="16.36" lengthAdjust="spacingAndGlyphs">−2</text>
<text x="702.20" y="554.40" text-anchor="middle" class="tk" textLength="16.36" lengthAdjust="spacingAndGlyphs">−1</text>
<text x="541.90" y="389.70" text-anchor="end" class="tk" textLength="16.36" lengthAdjust="spacingAndGlyphs">−1</text>
<text x="777.10" y="554.40" text-anchor="middle" class="tk" textLength="7.06" lengthAdjust="spacingAndGlyphs">0</text>
<text x="541.90" y="314.80" text-anchor="end" class="tk" textLength="7.06" lengthAdjust="spacingAndGlyphs">0</text>
<text x="852.00" y="554.40" text-anchor="middle" class="tk" textLength="7.06" lengthAdjust="spacingAndGlyphs">1</text>
<text x="541.90" y="239.90" text-anchor="end" class="tk" textLength="7.06" lengthAdjust="spacingAndGlyphs">1</text>
<text x="926.90" y="554.40" text-anchor="middle" class="tk" textLength="7.06" lengthAdjust="spacingAndGlyphs">2</text>
<text x="541.90" y="165.00" text-anchor="end" class="tk" textLength="7.06" lengthAdjust="spacingAndGlyphs">2</text>
<text x="1001.80" y="554.40" text-anchor="middle" class="tk" textLength="7.06" lengthAdjust="spacingAndGlyphs">3</text>
<text x="541.90" y="90.10" text-anchor="end" class="tk" textLength="7.06" lengthAdjust="spacingAndGlyphs">3</text>
<path d="M552.40 535.40v4.90M552.40 535.40h-4.90M627.30 535.40v4.90M552.40 460.50h-4.90M702.20 535.40v4.90M552.40 385.60h-4.90M777.10 535.40v4.90M552.40 310.70h-4.90M852.00 535.40v4.90M552.40 235.80h-4.90M926.90 535.40v4.90M552.40 160.90h-4.90M1001.80 535.40v4.90M552.40 86.00h-4.90" stroke="#3e3e3e" stroke-width="1.1"/>
<g transform="translate(1067.30 86.00) scale(0.449400)">
<g clip-path="url(#c)"><rect width="1000" height="1000" fill="#03030e"/>
<path fill="#0d0a27" d="M601 865l28 4 34-1 34-8 22-10 23-14 33-31 27-30 23-33 13-23 20-45 16-45 11-45 4-45-1-33-6-34-12-34-12-22-8-12-19-21-11-10-11-8-22-13-23-6-11-1-11 1-12 3-11 6-17 16-17 20-11 4-11-10-11-18-29-52-14-23-15-22-18-23-25-27-23-19-22-17-34-20-34-15-22-7-34-6-22-3-23 1-22 4-12 3-22 11-23 15-22 18-23 22-15 18-15 22-12 23-11 22-20 56-10 34-10 45-4 22-3 34 2 34 4 22 9 23 12 22 8 12 21 22 22 17 22 11 12 4 22 2 11-1 12-3 11-7 11-10 23-25 11-1 11 12 29 57 20 34 16 22 18 23 29 30 23 19 22 16 34 21 23 11 22 9 28 6z"/>
<path fill="#1c1143" d="M570 843l14 4 23 5 33 1 34-5 23-7 22-12 23-18 24-24 29-34 21-34 22-45 19-56 9-34 5-33 1-34-4-34-10-34-12-22-7-11-19-21-11-9-11-8-11-5-12-4-11-2-11 1-11 3-12 5-6 6-10 11-13 23-4 10-12 18-11 1-11-16-36-81-25-45-23-33-19-23-21-21-22-19-34-23-22-11-23-9-34-10-22-4-22-1-23 2-22 6-12 4-22 13-23 18-23 21-11 12-18 22-13 23-11 22-18 45-10 34-12 45-5 22-5 45 0 23 3 22 6 23 11 22 8 11 20 21 11 9 11 7 11 5 23 5 11-1 11-4 12-7 12-12 7-11 14-28 12-13 11 3 11 17 28 65 22 45 22 34 18 23 20 22 14 13 33 27 34 21 23 11 19 7z"/>
<path fill="#2d115e" d="M627 843l25-2 22-4 23-9 22-15 23-20 27-29 17-22 15-23 17-34 18-45 14-44 7-34 3-34 0-22-4-23-6-22-4-12-15-24-11-14-11-10-11-8-11-6-12-3-11-1-11 1-11 5-12 9-5 6-12 23-16 45-12 17-11-2-11-19-27-75-14-33-23-45-30-45-20-23-21-20-22-18-34-21-34-15-22-7-23-4-33-2-23 3-22 7-12 6-22 15-27 22-22 23-9 11-15 23-12 22-9 23-23 67-11 45-4 22-4 34-1 23 3 22 7 23 5 11 10 14 11 13 11 10 11 7 11 5 12 3 11 1 11-3 11-5 12-11 13-23 20-48 12-12 11 6 11 21 28 78 14 34 11 22 21 34 8 11 28 34 25 23 22 18 34 21 23 11 33 12 23 4 20 1zM472 432l-37-39-7-11-2-11 1-1 11-3 11 4 12 9 10 13 5 11 7 23-11 5zM551 622l-12-10-11-17-3-11-1-11 4-6 6 6 5 3 19 20 10 11 7 11-2 5-11 5-11-6z"/>
<path fill="#420f71" d="M592 831l26 4 22-1 34-7 23-10 22-16 15-14 30-33 17-24 20-33 15-34 20-56 9-34 4-22 2-34-4-34-7-22-9-19-10-15-12-13-11-8-11-6-12-3-11-1-11 3-11 7-9 10-7 11-9 22-9 33-11 28-12 14-11-1-11-17-11-34-20-68-8-22-15-34-18-33-14-23-17-22-21-24-22-21-23-17-33-18-34-13-23-6-33-3-23 2-22 6-23 11-11 8-22 19-23 21-11 13-16 22-17 33-17 45-11 34-9 34-6 33-4 34-1 23 3 22 7 23 6 11 9 12 11 11 11 8 11 5 12 3 11-1 11-3 11-9 10-15 10-22 14-40 11-23 12-10 11 3 11 22 17 59 11 34 22 56 11 22 13 23 16 22 18 23 16 16 22 19 23 17 22 14 23 11 22 8 19 4zM562 642l-11-6-12-8-11-12-12-20-10-23-26-90-10-22-13-23-18-22-31-34-5-11 2-11 11-8 11-1 11 2 11 5 17 13 17 22 11 23 12 39 8 39 7 23 11 22 14 23 9 11 34 34 8 11 2 11-8 11-7 3-11 1-11-2z"/>
<path fill="#561578" d="M572 820l24 6 33 2 23-3 11-3 22-8 23-15 14-12 31-34 17-23 20-33 16-34 17-45 13-45 5-34 1-22-3-34-8-22-12-23-10-12-11-9-11-6-12-3-11 0-11 5-11 9-10 16-8 23-16 56-11 23-12 12-11 3-11-11-2-5-9-30-17-71-10-34-12-33-10-23-25-45-24-33-15-17-22-21-23-17-11-7-22-12-23-10-34-8-22-3-22 1-12 2-22 7-12 6-17 11-39 35-11 12-15 21-18 33-13 34-15 45-15 56-5 34-1 22 1 23 5 22 5 12 7 11 8 10 11 9 11 5 12 2 11-1 5-3 6-4 7-7 7-11 10-23 21-61 11-20 12-11 11-1 11 17 25 99 18 56 18 45 19 34 25 33 19 20 22 21 23 17 22 14 23 11 21 7zM573 654l-11-3-11-6-12-8-11-11-14-19-8-14-12-27-26-83-15-34-15-21-11-12-26-23-11-11-5-11 1-11 9-12 9-5 12-2 11 0 20 7 14 9 11 10 11 13 8 13 16 34 22 79 4 11 10 22 15 23 10 11 16 15 25 19 8 11 1 11-6 11-5 6-11 7-12 1-11 0z"/>
<path fill="#691d7a" d="M597 820l21 2 22-2 23-5 22-10 23-16 14-14 30-33 16-23 18-34 19-45 16-44 9-34 4-34 0-22-3-23-8-22-6-12-8-10-11-10-11-7-12-3-11 2-11 6-10 11-6 11-7 23-12 45-8 22-5 12-8 13-12 12-11 7-11 2-3-1-8-11 0-3-6-42-13-67-11-45-11-34-14-34-18-33-14-23-17-22-20-21-22-20-34-22-23-11-33-10-23-4-22-1-11 2-23 5-22 12-12 8-33 29-20 21-8 12-7 11-11 22-14 34-15 45-9 34-7 33-4 34-1 23 3 22 4 11 10 17 11 11 11 6 12 2 11-3 11-10 11-20 24-70 10-22 11-19 12-10 11-6 11 3 5 9 3 11 18 101 12 45 11 34 13 34 10 22 14 23 16 22 22 25 22 21 23 17 22 14 23 11 22 8 24 5zM551 652l-17-12-11-11-9-11-14-22-6-12-11-29-28-83-11-23-6-8-11-13-11-11-23-15-17-9-10-11 0-11 4-11 7-12 16-11 11-3 12-1 11 1 11 3 23 13 11 9 11 12 15 22 12 23 8 22 16 56 8 23 9 18 9 16 13 15 11 10 23 13 22 9 10 9-1 11-3 11-6 11-11 12-11 6-11 4-12 1-11-2-22-9z"/>
<path fill="#7c247b" d="M570 809l26 6 22 2 11-1 23-4 22-8 23-15 15-14 21-22 20-26 19-30 15-34 22-58 13-43 5-34-1-22-3-23-9-22-5-8-11-13-11-7-12-2-11 2-7 5-4 4-5 7-6 15-18 64-7 23-9 18-11 15-34 31-20 25-14 15-11 7-11 5-11 2-12 0-22-5-22-12-13-12-19-22-14-22-11-24-36-100-9-17-11-16-11-11-12-7-11-5-11-3-11 3-9 11-2 11-1 11 2 34 4 34 7 34 9 33 14 45 14 34 12 22 15 23 18 22 22 23 18 16 34 22 23 11 19 7zM600 573l7 2 11 1 11-6 5-8 3-11 0-23-3-22-8-45-13-57-16-44-17-34-13-23-25-33-25-26-34-26-34-17-11-4-22-6-23-4-11 0-22 2-23 7-11 5-23 16-33 32-12 12-14 20-16 34-26 76-9 36-5 22-3 23-1 22 2 23 2 11 5 11 8 12 12 8 12 1 11-6 11-15 11-27 22-63 10-22 8-11 5-7 12-10 22-19 25-32 12-11 19-9 11-2 12 0 22 6 11 5 12 7 18 16 15 18 12 17 15 32 8 22 17 57 9 22 7 12 11 14 11 10 12 7 4 2z"/>
<path fill="#8e2a79" d="M589 809l18 2 22 0 23-5 22-9 16-10 18-17 25-28 16-23 14-22 15-34 20-52 15-49 6-34 0-22-5-23-5-14-11-16-11-7-12-2-11 4-11 13-5 11-21 79-9 22-10 16-11 13-23 21-28 29-13 11-15 7-11 4-11 1-12 0-11-2-23-10-22-16-17-18-16-22-12-23-14-33-25-68-11-22-6-9-11-12-12-8-11-3-11 2-7 7-4 10-2 13 1 33 4 34 6 34 13 45 16 45 10 22 14 23 16 22 23 25 22 20 23 16 22 12 23 10 27 7zM607 562l11-5 5-6 3-12 1-11-1-22-5-34-6-34-8-34-16-44-10-23-12-22-23-34-18-21-13-13-21-16-11-8-34-17-33-11-23-3-11 0-22 3-12 3-22 11-20 16-35 33-17 23-7 12-10 22-24 74-13 49-5 34 0 22 1 12 2 11 4 11 11 11 12 1 11-9 2-3 9-18 17-49 13-34 6-11 9-14 11-12 23-20 34-33 11-8 11-5 11-3 11-1 23 2 11 4 11 6 12 6 13 10 21 23 16 22 11 23 10 22 22 68 10 22 9 14 11 11 12 6 11 3z"/>
<path fill="#a23176" d="M563 798l10 3 23 5 22 0 22-2 23-8 16-9 18-15 17-19 26-34 14-22 10-23 34-92 11-43 2-22-3-23-3-11-6-11-12-12-12-2-11 7-4 7-7 16-12 51-7 23-10 22-7 12-9 11-48 45-20 15-11 7-11 4-22 3-23-4-11-3-11-6-23-15-13-13-18-22-20-34-10-22-29-75-11-21-11-13-12-8-11-1-7 5-4 5-4 18-1 22 3 34 3 23 8 33 10 34 12 34 11 22 13 23 12 17 15 16 19 20 23 18 22 14 23 11 12 5zM584 539l12 7 11-1 5-6 5-11 1-11-1-23-10-67-12-45-19-45-19-34-25-33-26-26-12-9-22-14-23-11-33-10-23-3-11 0-22 4-23 9-20 15-24 22-20 23-16 22-10 23-34 123-4 34 2 22 2 10 12 5 11-13 31-80 6-12 8-10 11-12 52-45 15-11 12-6 11-4 11-2 11-1 23 4 22 9 17 11 14 11 21 23 15 22 18 34 28 79 11 21 11 12z"/>
<path fill="#b63870" d="M577 798l19 3 22 1 22-4 23-8 21-15 11-11 36-45 13-22 10-23 14-45 19-50 11-38 1-13 0-22-2-12-10-15-12-1-11 14-17 70-8 22-6 12-8 11-11 11-53 45-17 11-15 7-11 3-22 2-23-4-22-9-23-15-18-18-18-22-14-22-12-23-28-68-11-22-11-15-12-7-11 4-3 7-3 11-1 11 0 23 3 34 8 33 13 45 8 23 10 22 14 23 16 22 14 15 22 21 23 16 22 13 23 9 15 5zM580 517l4 6 12 5 10-11 1-3 1-20-1-19-9-59-12-45-15-34-18-34-25-32-22-22-23-17-22-13-34-12-23-4-11-1-22 2-23 7-21 14-23 22-20 23-14 19-8 14-7 23-4 22 0 23 5 11 2 2 12-6 33-22 39-30 18-10 11-5 11-2 22-1 23 4 11 4 23 12 22 18 14 14 18 22 20 34 10 22 17 45 10 23 8 11z"/>
<path fill="#c94067" d="M555 787l29 8 23 2 11 0 22-4 12-4 22-14 12-11 18-22 17-23 13-22 8-19 3-15 3-23-1-11-5-7-12 4-33 21-37 27-20 10-11 4-11 2-22 1-23-4-11-4-17-9-17-11-12-11-21-23-16-22-13-23-28-60-11-22-11-14-12-4-6 10-3 12-1 22 2 23 6 33 12 45 8 23 10 22 22 34 18 21 13 13 32 25 22 13 16 7zM583 494l1 2 4-2 7-11 1-11-1-23-2-22-4-23-5-22-12-34-17-33-15-23-23-28-23-20-22-15-23-11-22-7-11-2-23-2-11 1-22 5-21 12-13 11-30 34-16 22-9 23-1 11 1 11 10 9 11-2 11-5 45-28 12-4 22-5 11 0 23 3 22 7 11 5 23 14 20 17 11 12 18 22 14 22 13 23 25 54 10 13z"/>
<path fill="#da4d5e" d="M566 787l18 4 12 1 22 0 22-5 24-12 13-11 10-11 29-45 9-23 3-11-2-11-7-7-11 2-11 5-38 22-19 7-22 4-22 0-12-2-22-7-11-5-12-7-16-12-13-11-20-23-24-33-28-54-11-18-11-11-6 4-6 8-1 14 2 23 11 56 11 34 10 22 13 23 11 14 17 19 16 16 12 9 22 15 23 11 15 6zM567 438l6 8 7-8 3-11 0-11-3-23-6-22-12-34-19-34-16-22-21-23-14-11-20-13-23-11-11-4-22-6-23-1-11 1-11 3-20 9-14 11-19 22-15 23-5 11-3 11 7 12 1 0 12-3 33-12 12-3 22-2 11 1 23 4 22 7 23 12 24 18 24 23 26 33 27 40 5 5z"/>
<path fill="#e55f58" d="M583 787l24 1 22-3 23-9 15-12 10-11 7-11 12-23 4-11 2-11-5-10-12 1-28 9-17 3-22 2-22-1-12-2-22-8-11-5-19-12-15-11-23-23-27-33-29-46-11-14-11 4-1 11 1 22 9 45 11 34 11 22 7 12 18 22 10 11 13 12 22 17 11 7 23 11 11 4 21 6zM557 404l5 6 6-6 2-11-1-11-5-22-13-34-12-23-17-22-16-18-20-16-17-11-20-9-22-7-23-3-22 2-17 6-16 11-10 11-6 11-5 12 1 11 8 5 45 2 22 4 23 6 22 10 23 14 20 15 23 23 36 41 6 3z"/>
<path fill="#eb7559" d="M557 775l16 5 23 3 22-1 22-7 16-11 10-11 7-11 4-12 1-11-4-6-11-5-45 0-22-2-23-6-22-10-23-14-17-13-33-34-29-35-11-11-6 1-5 7 0 5 2 22 4 22 5 17 8 17 13 23 24 29 23 20 22 15 29 14zM550 382l2 0 5-11-1-11-6-23-10-22-12-20-11-15-22-22-15-11-19-11-23-9-11-3-23-2-21 3-12 5-9 6-10 11-4 11 3 12 9 5 11 3 33 8 23 8 34 16 37 27 41 38 11 7z"/>
<path fill="#ef8c61" d="M571 775l13 3 23 0 11-2 11-4 15-8 11-11 6-11 0-12-9-9-4-2-52-8-23-6-22-10-12-7-22-16-24-20-32-33-12-9-11 5-1 14 2 11 7 23 11 22 15 23 21 22 24 20 23 14 31 11zM521 348l7 6 11 5 5-11-1-11-4-11-11-23-16-22-18-18-21-16-23-11-12-4-22-4-12 0-11 2-16 6-10 11-2 11 11 12 51 18 22 11 34 21 38 28z"/>
<path fill="#f0a36f" d="M550 764l23 7 11 2 23-1 11-3 12-5 13-11 3-11-5-12-12-5-45-12-33-14-34-21-45-39-11-8-12 1-1 8 0 12 4 11 9 22 11 16 15 18 19 18 22 16 22 11zM523 337l5 2 1-2 1-11-3-11-6-12-15-22-11-11-13-12-10-6-11-6-23-9-22-3-18 2-5 2-11 9 1 11 14 12 52 24 23 13 45 29 6 1z"/>
<path fill="#f0b981" d="M564 764l20 3 12 0 15-3 17-11 1-12-12-11-44-15-22-11-23-13-56-42-11-1-2 4 0 11 3 11 10 19 11 16 21 21 14 12 21 12 25 10zM496 315l10 4 11-4-4-12-6-11-8-11-11-11-15-12-21-11-14-4-11-1-11 0-14 5-1 11 14 12 34 18 47 27z"/>
<path fill="#efce94" d="M548 753l25 6 11 1 12-1 13-6 1-11-15-12-33-14-23-12-45-31-11-6-11 0-1 7 4 11 6 12 13 17 18 16 15 12 21 11zM470 292l13 5 11 3 2-8-7-11-11-11-6-4-11-8-23-6-11 2-5 4 10 12 38 22z"/>
<path fill="#eee4aa" d="M538 742l24 8 11 1 11-4 4-5-13-12-36-19-22-14-23-12-2 0-1 12 7 11 10 11 13 11 17 12z"/>
<g fill="none" stroke="#fff" stroke-opacity="0.15" stroke-width="2.2">
<path d="M614 843l26 0 23-3 22-7 23-11 22-17 30-30 19-22 23-34 22-45 13-34 14-44 7-34 3-34-1-22-3-23-6-22-5-12-15-25-11-14-11-10-11-8-11-5-12-4-11-1-11 1-11 5-12 9-6 7-12 23-15 42-12 17-11-1-11-19-26-73-14-33-23-45-31-45-20-23-21-21-22-18-34-21-34-15-22-6-23-5-33-2-23 3-22 7-12 6-24 16-26 22-22 23-9 11-15 23-11 22-10 23-23 67-9 34-6 33-4 34 0 23 2 22 7 23 6 11 10 15 11 13 11 10 11 7 11 5 12 3 11 1 11-3 11-5 13-12 13-23 19-46 12-11 11 5 11 22 28 75 14 34 11 22 20 34 26 34 25 25 22 19 23 16 22 14 23 11 22 8 23 6 18 2zM551 621l-12-11-9-14-4-12 1-11 1-2 11 8 17 17 10 11 7 11-11 8-11-5zM472 429l-11-10-24-26-7-11-1-11 9-3 8 3 16 11 10 15 6 19-1 11-5 2z"/>
<path d="M593 820l25 3 22-2 23-5 22-10 23-16 16-15 29-33 16-23 18-34 20-45 15-44 9-34 4-34 0-22-3-23-8-22-6-12-9-12-11-10-11-6-12-3-11 1-11 6-11 13-6 11-7 23-12 45-8 22-6 12-6 11-12 11-11 6-11 1-6-7-4-11-7-45-14-68-9-33-11-34-14-34-18-33-14-23-18-22-20-22-22-20-34-22-23-11-33-10-23-4-22 0-11 1-23 5-11 5-17 10-17 13-22 21-21 22-8 12-7 11-12 22-13 34-15 45-9 34-8 33-4 34 0 23 3 22 4 11 11 19 11 11 11 6 12 2 12-4 10-8 11-20 26-73 8-19 11-18 12-11 11-5 11 5 6 14 5 25 7 43 10 45 13 45 20 56 11 22 13 23 16 22 23 26 22 21 23 17 22 14 23 11 22 8 20 4zM562 657l-11-5-12-8-11-10-13-16-9-14-12-22-11-29-27-81-11-23-7-9-11-14-11-10-12-9-23-14-11-11-2-11 4-11 8-12 13-10 11-3 12-1 11 1 11 3 23 13 11 9 10 11 16 22 11 23 9 22 15 56 8 23 5 11 13 23 14 16 11 10 12 8 33 17 5 5 2 11-3 11-6 11-11 12-9 5-11 3-12 2-11-2-11-3z"/>
<path d="M560 798l24 7 23 2 11 0 22-2 23-8 18-10 14-12 21-22 26-34 14-22 19-47 23-62 8-26 5-23 1-22 0-11-3-16-2-7-9-17-11-9-12-2-11 6-7 11-5 11-13 56-7 23-10 22-14 19-51 49-17 13-11 7-11 4-22 4-23-3-22-10-23-15-12-12-18-22-20-34-9-22-31-79-11-20-11-13-12-7-11-2-11 7-4 13-2 22 1 34 5 34 8 33 10 34 12 34 11 22 13 23 17 22 30 31 17 14 17 12 22 13 21 9zM581 539l3 3 12 7 11 0 9-10 2-5 2-17 0-11-3-23-7-45-11-45-17-45-11-22-13-23-25-33-27-27-12-9-22-14-23-11-33-10-23-3-11 0-22 4-23 9-23 16-23 22-21 23-15 22-10 23-32 109-4 25-3 34 1 11 3 12 3 8 12 3 11-13 11-26 18-51 12-23 8-11 11-11 51-45 15-11 20-9 11-2 11-1 23 4 22 9 16 10 14 11 21 23 15 22 12 23 14 33 21 61 11 20 8 9z"/>
<path d="M563 787l21 5 12 1 22 0 11-1 17-5 20-12 13-11 10-11 30-45 11-23 2-11 1-11-3-11-11-3-11 3-45 28-11 6-23 7-11 2-22 0-23-5-11-4-22-12-12-8-27-26-18-22-15-22-30-59-11-19-11-12-12 5-3 17 0 11 3 34 11 45 7 22 8 23 12 22 15 23 9 11 28 28 12 9 22 15 23 11 12 5zM570 449l3 6 11-2 2-15-1-22-1-12-8-33-13-34-18-34-17-22-22-24-12-10-22-15-23-10-22-8-11-2-23-1-22 3-23 10-14 12-19 22-23 34-4 11 0 12 4 7 11 0 34-15 23-7 22-3 11 0 23 4 22 8 11 5 20 12 14 11 24 23 27 33 21 34 7 12 8 10z"/>
<path d="M566 775l18 4 23 1 21-5 12-6 8-5 11-11 6-11 2-12-4-8-3-3-8-3-45-5-23-5-11-3-22-10-23-14-21-16-58-58-11-4-2 6-1 11 2 22 3 12 9 22 13 23 18 22 26 24 13 10 20 12 27 10zM532 360l7 5 10-5-1-12-3-11-9-22-8-14-14-20-20-19-19-15-21-11-16-6-22-4-12 0-11 1-11 4-11 5-9 11-2 11 8 12 48 16 33 14 34 21 45 37 4 2z"/>
<path d="M543 753l19 7 11 2 11 2 12-1 11-4 10-6 1-11-15-12-41-16-23-12-56-40-11-4-5 5 1 11 3 11 12 19 13 15 12 11 15 12 20 11zM486 303l8 4 12-2 0-2-5-11-7-11-12-11-21-14-23-9-16 0-6 5-3 6 12 12 61 33z"/>
</g></g>
<rect x="0" y="0" width="1000" height="1000" fill="none" stroke="#2a2a2a" stroke-width="2.4"/>
</g>
<text x="1292.00" y="77.50" text-anchor="middle" class="st" textLength="74.98" lengthAdjust="spacingAndGlyphs">σ = 0.05</text>
<text x="1067.30" y="554.40" text-anchor="middle" class="tk" textLength="16.36" lengthAdjust="spacingAndGlyphs">−3</text>
<text x="1056.80" y="539.50" text-anchor="end" class="tk" textLength="16.36" lengthAdjust="spacingAndGlyphs">−3</text>
<text x="1142.20" y="554.40" text-anchor="middle" class="tk" textLength="16.36" lengthAdjust="spacingAndGlyphs">−2</text>
<text x="1056.80" y="464.60" text-anchor="end" class="tk" textLength="16.36" lengthAdjust="spacingAndGlyphs">−2</text>
<text x="1217.10" y="554.40" text-anchor="middle" class="tk" textLength="16.36" lengthAdjust="spacingAndGlyphs">−1</text>
<text x="1056.80" y="389.70" text-anchor="end" class="tk" textLength="16.36" lengthAdjust="spacingAndGlyphs">−1</text>
<text x="1292.00" y="554.40" text-anchor="middle" class="tk" textLength="7.06" lengthAdjust="spacingAndGlyphs">0</text>
<text x="1056.80" y="314.80" text-anchor="end" class="tk" textLength="7.06" lengthAdjust="spacingAndGlyphs">0</text>
<text x="1366.90" y="554.40" text-anchor="middle" class="tk" textLength="7.06" lengthAdjust="spacingAndGlyphs">1</text>
<text x="1056.80" y="239.90" text-anchor="end" class="tk" textLength="7.06" lengthAdjust="spacingAndGlyphs">1</text>
<text x="1441.80" y="554.40" text-anchor="middle" class="tk" textLength="7.06" lengthAdjust="spacingAndGlyphs">2</text>
<text x="1056.80" y="165.00" text-anchor="end" class="tk" textLength="7.06" lengthAdjust="spacingAndGlyphs">2</text>
<text x="1516.70" y="554.40" text-anchor="middle" class="tk" textLength="7.06" lengthAdjust="spacingAndGlyphs">3</text>
<text x="1056.80" y="90.10" text-anchor="end" class="tk" textLength="7.06" lengthAdjust="spacingAndGlyphs">3</text>
<path d="M1067.30 535.40v4.90M1067.30 535.40h-4.90M1142.20 535.40v4.90M1067.30 460.50h-4.90M1217.10 535.40v4.90M1067.30 385.60h-4.90M1292.00 535.40v4.90M1067.30 310.70h-4.90M1366.90 535.40v4.90M1067.30 235.80h-4.90M1441.80 535.40v4.90M1067.30 160.90h-4.90M1516.70 535.40v4.90M1067.30 86.00h-4.90" stroke="#3e3e3e" stroke-width="1.1"/>
<g transform="translate(1582.20 86.00) scale(0.449400)">
<g clip-path="url(#c)"><rect width="1000" height="1000" fill="#03030e"/>
<path fill="#0d0a27" d="M571 865l25 6 33 2 34-3 45-10 22-10 23-14 17-16 20-22 24-34 22-34 12-22 10-23 10-33 18-68 4-22 2-23-1-33-4-23-6-22-9-23-12-22-17-23-12-12-22-19-22-12-23-8-11-1-11 0-12 2-11 4-11 7-23 19-11 3-11-9-11-17-26-47-14-22-17-23-19-22-25-25-23-19-22-16-23-13-22-11-34-12-45-9-22-2-23 1-22 4-23 6-22 11-12 7-22 17-16 16-18 22-31 45-7 12-11 22-12 34-19 67-7 34-5 45 0 22 4 34 7 23 5 11 13 22 20 23 21 18 11 8 22 11 12 4 22 3 23-2 11-4 8-5 26-18 11-1 11 10 11 18 27 48 23 33 28 34 21 23 36 32 23 16 22 13 23 11 20 6z"/>
<path fill="#1c1143" d="M593 854l14 2 22 0 34-4 22-4 23-8 11-5 22-15 13-11 28-34 23-33 21-34 11-23 4-11 8-22 22-90 3-34-1-22-3-23-11-34-11-22-8-11-20-23-22-17-23-10-11-2-11-1-11 2-13 6-14 11-9 11-21 32-11 2-11-13-11-23-19-43-17-33-13-23-25-34-20-22-30-28-34-24-22-12-23-10-22-7-23-5-22-3-22-1-23 2-22 4-23 9-22 13-12 9-21 19-9 11-46 68-7 11-9 23-27 89-8 45-2 34 0 23 4 22 7 23 13 22 4 6 12 14 11 10 11 9 22 12 23 5 11 1 11-2 12-4 11-8 9-9 13-20 12-11 11 2 11 14 11 21 30 61 20 34 25 34 26 30 34 31 34 24 22 12 23 8 31 7z"/>
<path fill="#2d115e" d="M588 843l30 2 34-3 33-7 23-8 22-14 16-15 19-23 24-33 27-45 11-23 11-34 19-78 5-34-1-22-3-23-7-22-4-12-16-26-11-13-11-11-11-8-11-6-12-4-11-1-11 0-11 4-14 9-9 11-7 12-15 35-12 15-11 0-11-14-11-26-16-44-14-34-23-45-23-33-19-23-18-18-22-19-23-16-22-12-23-10-33-10-34-4-34 0-22 4-23 8-18 10-15 11-24 22-18 23-29 45-13 22-5 12-8 22-20 67-5 23-4 22-3 34 1 23 4 22 8 23 15 23 11 13 11 9 11 8 11 5 12 4 11 2 11-1 11-3 12-8 7-7 8-12 18-35 12-9 11 4 11 17 40 91 11 22 20 34 17 22 18 23 18 18 22 21 34 24 22 12 23 9 26 6z"/>
<path fill="#420f71" d="M571 831l25 5 33 0 23-3 33-8 23-9 22-17 13-12 17-23 23-34 27-45 10-22 7-23 19-78 5-34-1-34-2-11-7-22-10-20-9-14-13-14-11-9-11-6-12-4-11-1-11 2-11 6-14 15-7 11-13 35-11 24-12 11-11 0-11-13-11-26-29-87-20-45-12-23-24-33-19-23-20-19-22-18-23-14-22-12-34-11-34-6-22-1-34 3-22 7-23 12-11 8-20 17-10 12-9 11-37 56-12 23-9 22-20 67-5 23-4 22-3 34 1 23 1 11 6 22 9 17 11 16 11 11 11 8 11 6 12 3 11 1 11-1 11-6 12-12 6-9 27-59 12-11 11 5 11 23 29 76 24 56 19 34 24 33 19 23 20 20 34 28 22 14 11 5 12 5 20 6zM483 455l-4-6-7-5-4-6-43-45-7-11 0-11 9-5 11 0 11 4 12 9 11 12 11 22 3 14 2 11-1 11-4 6zM551 621l-12-9-11-13-11-21-7-27 0-12 7-4 2 4 9 10 19 24 29 34 4 11-7 9-11-1-11-5z"/>
<path fill="#561578" d="M556 820l17 5 11 3 23 1 33-2 23-3 22-7 23-11 11-8 22-23 24-33 28-45 12-23 9-22 27-113 1-22 0-11-3-23-3-11-10-23-6-9-11-14-11-10-11-6-12-4-11 0-11 3-11 9-12 16-22 60-11 20-12 11-11 2-11-12-11-26-28-96-12-33-10-23-12-22-13-23-17-22-21-24-22-20-23-17-22-13-34-13-34-8-22-2-34 2-22 6-11 4-23 13-18 15-11 12-9 11-15 22-28 45-12 23-8 22-20 68-7 33-3 34 1 23 5 22 3 11 6 12 8 11 7 8 11 9 11 6 12 4 11 0 11-3 11-9 12-18 33-82 12-14 11-1 11 26 6 29 10 34 25 67 19 45 12 22 14 23 26 34 21 22 13 12 34 26 22 12 17 6zM573 643l-11-3-19-11-15-14-11-15-11-20-12-29-14-57-4-11-11-22-15-23-9-11-14-14-24-20-11-11-2-11 7-11 7-4 12-4 11 0 11 2 13 6 15 11 11 11 8 11 11 23 10 31 9 36 7 23 10 22 13 23 9 11 19 21 25 24 6 11-1 11-7 9-4 2-8 3-11 0z"/>
<path fill="#691d7a" d="M579 820l28 3 22-1 34-6 22-7 21-11 13-11 11-12 17-22 22-34 20-34 12-22 8-23 20-89 4-23 1-22-1-12-6-22-11-23-7-10-11-11-11-6-12-4-11 1-11 5-11 12-7 13-20 57-7 15-11 18-12 14-11 7-11-6-11-30-35-131-16-45-11-22-12-23-16-22-18-23-27-26-23-17-11-7-22-11-23-9-22-5-34-4-34 3-22 7-23 11-11 9-17 16-10 11-15 22-35 57-10 22-27 90-6 34-2 22 1 23 5 22 4 10 11 18 11 11 11 7 12 3 11-1 11-6 11-13 9-18 9-22 16-50 11-24 12-16 11-10 11-4 4 3 3 11 7 79 4 22 9 34 16 45 18 45 11 22 13 23 16 22 17 23 22 22 17 16 23 16 22 12 23 9 17 3zM573 652l-11-3-11-6-12-8-17-17-16-22-12-22-4-12-25-79-11-22-16-22-11-12-23-17-22-9-22-8-1-11 4-11 9-11 16-12 16-5 12-1 11 1 18 5 16 9 11 9 11 12 11 15 11 23 4 11 24 79 16 33 13 18 11 12 11 10 25 17 13 11 4 11-3 11-7 11-9 7-11 5-12 1-11-1z"/>
<path fill="#7c247b" d="M556 809l17 5 11 2 34 1 34-4 22-7 11-4 12-6 11-8 13-13 17-22 22-34 27-47 13-32 25-112 0-22-1-12-6-22-5-11-8-12-7-8-11-7-12-3-11 1-11 8-7 9-5 12-15 45-7 17-22 42-12 15-28 27-15 22-9 11-13 12-13 6-11 3-12 0-11-2-11-3-11-5-12-8-15-14-18-22-14-23-10-22-22-68-10-22-12-20-11-13-11-9-12-6-11-4-11 0-12 7-6 11-5 23 0 33 3 34 5 23 10 33 13 34 19 45 12 22 14 23 17 22 20 23 22 21 23 17 22 12 17 6zM594 573l13 6 11 3 11-1 10-8 4-11 1-11-2-23-7-34-16-67-8-34-12-33-9-23-12-22-13-23-17-22-21-23-12-11-21-16-22-13-11-5-12-5-22-6-34-6-33 2-19 4-15 5-12 6-16 11-17 17-14 17-47 79-10 22-23 79-5 22-2 17-1 17 1 23 6 22 5 11 9 12 13 10 12 3 11-2 11-9 11-19 7-17 16-52 10-27 12-24 12-16 22-27 12-11 16-12 25-11 14-3 12 0 11 2 11 3 20 9 15 12 12 11 9 11 12 20 6 14 8 22 18 56 13 31 11 18 11 14 11 10 10 6z"/>
<path fill="#8e2a79" d="M574 809l22 3 33-2 34-6 22-9 14-8 12-12 8-8 10-14 21-34 32-56 10-23 5-22 8-45 10-45 2-22-4-23-4-11-7-11-4-5-11-9-12-3-11 4-11 12-9 23-11 34-10 22-24 45-14 19-36 37-12 12-20 11-10 3-11 2-12 0-11-2-11-4-11-5-23-17-21-22-15-22-11-23-34-90-9-16-11-15-11-9-12-6-11-2-11 4-7 10-4 12-4 22 1 34 3 22 9 34 11 34 18 45 11 22 13 23 24 33 20 23 17 16 12 9 22 14 23 11 23 6zM596 562l11 3 11-1 3-2 8-11 2-12 0-11-4-34-20-90-13-44-10-23-11-22-14-23-17-22-25-27-11-9-23-16-22-11-34-11-34-5-22 0-11 2-12 2-19 7-14 8-12 8-18 18-16 22-44 79-8 23-23 78-5 23-1 22 2 23 3 11 9 19 11 10 12 3 11-5 11-13 12-25 15-57 9-22 9-20 11-18 12-16 11-11 17-14 28-14 22-6 23 0 22 5 11 4 12 7 20 16 13 14 14 19 11 23 27 78 15 34 12 16 11 11 12 7z"/>
<path fill="#a23176" d="M550 798l23 6 23 3 22-1 34-5 22-8 13-6 15-12 11-11 8-11 20-34 34-62 7-17 7-22 6-45 10-45 2-22-2-12-7-19-11-12-12-3-11 8-3 4-8 18-8 27-9 22-28 54-9 14-10 11-37 34-17 11-17 7-11 3-11 1-12 0-11-2-21-9-18-11-17-16-23-27-14-25-10-22-27-68-5-10-11-17-11-11-12-5-11 1-9 9-5 11-4 22 0 23 2 22 5 23 11 34 12 33 15 34 11 22 14 23 17 22 21 23 12 11 22 17 22 12 11 5zM582 539l14 9 11 1 11-10 2-11 1-11-4-34-16-79-13-44-9-23-11-22-14-23-17-22-22-23-13-11-19-13-22-12-34-11-34-4-22 1-11 2-14 3-20 9-19 14-12 11-16 22-22 45-21 36-11 31-6 23-17 54-3 25 1 22 2 12 6 11 5 8 12 4 1-1 10-6 10-16 8-23 11-45 9-22 18-34 7-11 9-11 13-12 27-14 23-8 22-5 11 0 23 3 11 3 21 10 16 11 13 12 10 11 16 22 12 23 9 22 16 48 11 26 11 18 9 9z"/>
<path fill="#b63870" d="M565 798l19 3 23 1 22-2 23-5 22-8 11-7 12-8 16-19 13-23 18-33 23-45 9-23 4-22 3-45 8-45 0-11-2-12-2-4-12-3-5 7-6 11-7 23-12 23-15 24-17 32-8 11-11 11-26 23-16 11-12 6-11 5-11 4-22 2-23-3-22-9-23-15-13-13-20-22-15-22-17-34-25-60-11-19-11-12-12-4-11 6-5 10-5 23 0 22 3 23 5 22 13 40 11 27 15 34 13 23 15 22 19 23 17 17 12 9 22 15 23 10 14 5zM589 528l7 3 7-3 4-3 2-8 1-11-3-34-12-68-13-44-13-34-20-34-21-27-22-21-12-9-22-14-23-10-33-8-34-2-22 4-23 7-11 7-11 8-12 11-14 20-11 23-12 34-19 34-4 11-7 30-5 26-6 13-11 32-1 11 2 11 6 11 4 3 11-9 5-16 9-45 3-11 26-45 7-11 11-12 17-11 34-13 34-8 22-1 12 1 22 6 23 11 21 15 23 23 16 22 12 23 29 77 7 13 7 11 8 9 5 2z"/>
<path fill="#c94067" d="M544 787l18 6 22 3 23 1 22-3 23-5 11-4 19-10 13-11 9-11 14-23 15-33 29-68 3-11 1-11 0-11-2-14-11-5-11 11-18 30-10 11-12 11-16 12-17 11-17 10-23 8-22 5-23-1-11-3-22-9-16-10-18-14-19-20-17-22-13-23-30-64-11-19-11-11-12-2-5 6-6 12-2 22 1 23 12 46 12 32 14 34 11 22 14 23 27 34 12 12 23 18 11 7 16 8zM577 494l7 9 12-4 1-16-1-25-13-76-10-34-15-33-22-34-20-23-22-18-22-14-23-10-11-4-22-4-23-2-11 1-22 4-12 3-11 6-8 5-13 11-10 11-7 11-9 23-3 22 2 12 3 4 11 3 12-1 56-10 22-2 11 0 23 4 22 9 12 6 14 9 14 11 12 12 19 22 15 22 6 12 15 33 6 17 11 24 4 4z"/>
<path fill="#da4d5e" d="M556 787l17 4 11 1 34-1 22-4 12-4 22-10 12-9 10-11 13-23 12-33 5-23 0-11-7-8-11 2-56 25-23 6-11 3-22 0-12-1-22-7-17-9-17-11-26-23-19-22-16-22-12-23-17-34-11-18-11-10-12 4-3 13-1 11 0 12 4 22 12 40 9 27 10 23 11 22 22 34 26 30 18 15 16 10 11 6 17 7zM568 438l5 8 3-8 2-11 0-23-4-33-11-34-17-34-15-22-20-23-17-14-22-14-23-10-22-6-11-2-23-1-22 3-23 7-11 7-10 8-10 11-7 11-5 12-2 11 0 11 10 11 13 3 56-3 22 1 23 5 11 3 23 11 22 15 25 22 29 33 22 34 3 6 6 5z"/>
<path fill="#e55f58" d="M578 787l29 0 22-4 27-8 19-11 11-11 8-11 8-23 3-11 0-11-5-12-3-1-12-1-56 12-22 2-23-2-11-3-22-10-30-19-25-23-29-33-14-23-15-25-11-15-11-5-4 12 1 22 3 15 11 40 9 24 9 22 19 34 17 22 11 12 25 21 21 12 13 5 27 7zM550 393l1 1 11 3 2-4 1-11-2-22-2-12-8-22-12-23-15-22-20-23-23-17-22-12-23-8-22-4-23 0-22 3-14 5-18 11-11 11-7 11-3 12 1 11 7 9 11 4 11 2 34 0 22 2 23 6 22 8 23 13 22 16 22 19 34 33z"/>
<path fill="#eb7559" d="M548 775l25 6 23 1 33-5 23-7 11-6 11-9 10-13 4-12 2-11-2-11-3-4-11-5-11-1-45 5-22-1-23-5-22-10-23-14-28-21-23-23-39-46-4 1-5 12 9 44 13 34 11 23 21 29 23 24 22 16 20 9zM550 371l3-11-2-22-9-23-6-12-8-12-17-21-17-16-22-15-23-10-14-4-19-3-23 0-11 2-11 3-18 9-12 11-7 11-1 12 4 7 4 4 7 3 12 2 44 6 23 6 11 5 23 10 20 13 58 43 11 2z"/>
<path fill="#ef8c61" d="M564 775l20 2 23-1 22-6 18-6 17-11 8-11 4-12-2-11-11-8-11-1-45 0-23-5-22-8-23-11-18-12-29-22-31-27-12-5-3 9 1 11 2 13 13 32 20 34 20 23 15 12 22 13 25 8zM526 348l2 2 11 0 2-13-1-11-10-23-13-20-11-13-12-12-22-14-16-8-18-5-22-4-12 1-22 3-11 4-16 12-5 11 3 12 7 4 20 7 36 8 22 8 34 18 54 33z"/>
<path fill="#f0a36f" d="M543 764l19 6 22 2 23-3 19-5 22-11 9-11 1-12-6-6-12-4-44-5-12-4-22-8-34-19-45-31-11-6-11 2 0 14 7 22 5 12 15 22 18 20 11 10 11 7 15 8zM502 326l15 7 11-3 1-4-1-11-11-23-8-11-15-16-22-16-11-6-21-7-24-2-23 2-20 11-4 11 10 12 48 17 22 10 53 29z"/>
<path fill="#f0b981" d="M560 764l13 2 22-2 23-8 7-3 10-11-6-8-4-4-29-8-23-8-22-11-57-33-11-5-9 9 2 11 4 12 13 22 10 11 12 12 13 9 11 6 21 7zM497 315l9 2 9-2-1-12-5-11-7-11-10-11-14-12-21-11-19-5-11-1-11 1-19 5-5 11 13 12 92 45z"/>
<path fill="#efce94" d="M542 753l20 5 11 0 11-1 13-4 8-11-12-12-87-45-12-3-5 3 0 12 4 11 8 11 9 11 13 12 19 11zM466 292l17 7 11 3 4-10-5-11-11-11-16-12-17-5-11-2-11 1-10 6 9 12 19 11 21 11z"/>
<path fill="#eee4aa" d="M535 742l16 6 11 1 11-3 6-4-7-12-17-11-20-11-18-8-11-1-2 9 6 11 9 11 16 12z"/>
<g fill="none" stroke="#fff" stroke-opacity="0.15" stroke-width="2.2">
<path d="M593 843l25 1 34-2 33-8 23-8 22-15 15-13 27-34 23-34 20-33 11-23 4-11 7-23 21-89 3-34-2-23-5-22-8-23-15-24-11-14-11-10-11-8-11-7-12-3-11-2-11 1-11 3-12 8-9 11-7 12-17 39-12 14-11 0-11-14-11-26-26-69-15-34-13-23-15-22-17-23-27-28-22-19-23-16-33-17-34-12-23-5-33-3-23 1-22 4-23 8-16 9-16 11-24 23-17 22-30 45-13 22-5 12-8 22-20 67-5 23-4 22-3 34 1 23 4 22 8 23 14 22 11 13 11 9 11 8 11 5 12 4 11 1 11 0 11-4 12-8 13-17 20-38 12-10 11 5 11 18 41 93 11 22 20 34 35 45 17 17 22 21 34 25 22 12 23 8 31 7z"/>
<path d="M584 820l23 2 33-2 23-5 22-7 19-10 14-11 11-12 17-22 21-34 26-45 11-22 3-12 21-89 4-23 0-22-1-12-5-22-6-13-11-17-11-11-6-4-5-3-12-4-11 1-11 6-10 11-6 11-20 57-9 19-11 19-12 14-11 8-11-4-11-30-30-116-10-34-8-22-15-34-13-23-15-22-18-23-26-25-23-17-11-7-22-11-23-9-22-5-34-4-22 2-12 1-22 7-11 5-23 15-22 23-19 25-40 68-12 34-20 67-4 22-3 23 0 22 3 23 5 17 11 19 11 12 11 7 12 3 11-1 11-7 11-14 7-14 9-22 18-56 11-23 12-16 31-29 13-22 9-11 16-12 9-4 11-2 12-1 11 1 11 2 11 5 12 7 11 9 11 12 11 15 7 12 9 23 25 79 10 22 6 11 17 23 16 15 12 8 18 11 14 11 2 11-3 11-8 11-12 9-11 4-12 2-11-1-11-4-18-10-13-11-19-22-8-11-10-20-11-29-16-53-15-33-14-20-11-12-11-9-12-7-11-5-11-3-11-2-6 1-5 2-8 10-3 22 1 45 4 34 8 34 14 45 23 56 11 22 13 23 24 33 20 23 16 16 11 10 23 16 11 7 23 10 11 4 22 4z"/>
<path d="M554 798l19 5 23 2 22 0 34-6 22-7 11-6 15-11 10-11 9-11 20-34 36-67 8-23 3-11 8-56 8-34 1-22-1-12-3-11-12-15-12-2-11 8-9 20-7 23-9 22-29 57-17 22-37 34-16 11-22 9-11 3-11 1-12-1-11-2-22-9-19-12-15-14-17-20-8-11-14-23-10-22-27-68-14-23-11-11-12-5-11 2-4 4-7 11-4 22-1 23 2 22 5 23 10 34 12 33 15 34 12 22 14 23 17 22 19 22 13 12 21 16 22 12 15 6zM587 539l9 5 11 0 5-5 5-11 1-22-7-45-14-68-15-45-10-22-12-23-24-33-22-23-20-15-11-8-11-6-23-10-22-6-34-5-22 1-11 2-23 7-12 6-15 12-12 11-16 22-24 49-22 40-5 13-11 44-12 34-5 23-1 22 1 11 4 12 6 12 12 4 11-7 6-9 5-12 18-67 10-23 12-22 16-22 13-12 10-6 22-11 14-5 20-5 22-2 12 1 22 6 23 11 22 17 17 17 16 22 12 23 8 22 15 43 11 27 11 18 14 13z"/>
<path d="M561 787l23 3 34-1 14-2 20-6 11-4 11-7 8-6 10-11 13-23 11-33 2-12-1-11-9-7-11 2-57 19-22 5-11 1-23-2-11-3-22-10-23-14-11-9-28-27-24-33-27-50-11-18-11-8-10 8-2 3-1 8 2 23 11 44 11 33 10 24 11 22 21 34 14 17 17 17 17 13 11 7 11 6 22 8zM559 416l3 5 11-4 1-13-1-22-5-22-7-23-10-23-22-33-20-23-15-12-22-15-23-10-11-3-22-4-23-1-22 3-23 8-17 12-11 11-7 11-4 12-1 11 3 11 4 4 11 5 11 1 45-2 22 2 23 5 22 9 23 12 27 20 23 23 29 37 8 8z"/>
<path d="M537 764l25 9 22 2 23-2 32-9 18-11 9-11 3-12-5-11-12-4-34-1-22-3-23-7-11-4-34-19-26-18-30-24-11-6-8 7 1 12 5 22 11 23 15 22 20 23 13 11 19 11zM514 337l14 6 7-6 0-11-8-23-10-16-14-17-13-12-18-12-23-10-22-5-11-1-23 2-11 3-19 12-5 11 6 12 18 7 34 9 22 9 34 17 42 25z"/>
<path d="M553 753l9 1 11 0 6-1 5-4 7-7-10-12-38-22-26-13-11-4-12 5 4 12 7 11 9 11 14 12 25 11zM482 292l3 0 0-11-10-11-22-12-15 0-3 0 3 12 17 11 27 11z"/>
</g></g>
<rect x="0" y="0" width="1000" height="1000" fill="none" stroke="#2a2a2a" stroke-width="2.4"/>
</g>
<text x="1806.90" y="77.50" text-anchor="middle" class="st" textLength="74.98" lengthAdjust="spacingAndGlyphs">σ = 0.10</text>
<text x="1582.20" y="554.40" text-anchor="middle" class="tk" textLength="16.36" lengthAdjust="spacingAndGlyphs">−3</text>
<text x="1571.70" y="539.50" text-anchor="end" class="tk" textLength="16.36" lengthAdjust="spacingAndGlyphs">−3</text>
<text x="1657.10" y="554.40" text-anchor="middle" class="tk" textLength="16.36" lengthAdjust="spacingAndGlyphs">−2</text>
<text x="1571.70" y="464.60" text-anchor="end" class="tk" textLength="16.36" lengthAdjust="spacingAndGlyphs">−2</text>
<text x="1732.00" y="554.40" text-anchor="middle" class="tk" textLength="16.36" lengthAdjust="spacingAndGlyphs">−1</text>
<text x="1571.70" y="389.70" text-anchor="end" class="tk" textLength="16.36" lengthAdjust="spacingAndGlyphs">−1</text>
<text x="1806.90" y="554.40" text-anchor="middle" class="tk" textLength="7.06" lengthAdjust="spacingAndGlyphs">0</text>
<text x="1571.70" y="314.80" text-anchor="end" class="tk" textLength="7.06" lengthAdjust="spacingAndGlyphs">0</text>
<text x="1881.80" y="554.40" text-anchor="middle" class="tk" textLength="7.06" lengthAdjust="spacingAndGlyphs">1</text>
<text x="1571.70" y="239.90" text-anchor="end" class="tk" textLength="7.06" lengthAdjust="spacingAndGlyphs">1</text>
<text x="1956.70" y="554.40" text-anchor="middle" class="tk" textLength="7.06" lengthAdjust="spacingAndGlyphs">2</text>
<text x="1571.70" y="165.00" text-anchor="end" class="tk" textLength="7.06" lengthAdjust="spacingAndGlyphs">2</text>
<text x="2031.60" y="554.40" text-anchor="middle" class="tk" textLength="7.06" lengthAdjust="spacingAndGlyphs">3</text>
<text x="1571.70" y="90.10" text-anchor="end" class="tk" textLength="7.06" lengthAdjust="spacingAndGlyphs">3</text>
<path d="M1582.20 535.40v4.90M1582.20 535.40h-4.90M1657.10 535.40v4.90M1582.20 460.50h-4.90M1732.00 535.40v4.90M1582.20 385.60h-4.90M1806.90 535.40v4.90M1582.20 310.70h-4.90M1881.80 535.40v4.90M1582.20 235.80h-4.90M1956.70 535.40v4.90M1582.20 160.90h-4.90M2031.60 535.40v4.90M1582.20 86.00h-4.90" stroke="#3e3e3e" stroke-width="1.1"/>
<g transform="translate(2097.10 86.00) scale(0.449400)">
<g clip-path="url(#c)"><rect width="1000" height="1000" fill="#03030e"/>
<path fill="#0d0a27" d="M571 888l13 3 23 2 33 1 34-4 23-6 11-5 11-5 23-15 45-38 22-22 20-24 16-22 7-11 10-23 20-67 12-45 13-56 4-34 0-11-2-23-5-22-9-23-14-22-8-12-10-11-20-19-12-9-22-15-22-11-23-9-22-2-45 6-12-2-11-7-11-12-49-66-39-45-36-35-33-24-23-13-22-9-23-6-22-4-23-2-22 1-34 5-22 5-23 8-22 12-45 25-21 15-11 11-9 11-35 56-11 23-8 22-18 66-16 47-6 22-5 34-2 34 1 22 5 23 9 22 6 11 16 23 15 16 11 10 23 15 22 10 11 3 23 3 11 1 22-3 34-9 11 0 12 5 11 12 49 72 26 33 20 23 17 17 34 27 34 21 33 15 12 4 20 6z"/>
<path fill="#1c1143" d="M556 865l28 7 23 3 22 0 34-3 11-2 23-8 22-13 45-37 27-25 19-23 17-22 12-23 12-34 22-78 11-56 6-34 0-23-4-22-3-11-10-23-7-11-18-23-17-14-11-9-22-12-23-8-22-3-23 4-22 7-11 2-12-2-11-6-11-12-11-15-27-44-23-34-28-33-35-37-22-18-23-15-33-16-23-6-22-4-23-1-22 1-23 3-22 6-34 14-45 24-23 15-11 9-11 13-15 23-13 22-11 23-13 34-15 55-18 57-5 22-4 23-3 34 1 22 6 23 4 11 12 22 18 21 23 18 22 11 22 6 23 0 11-2 11-4 34-17 11-2 12 2 11 10 11 17 30 53 30 45 26 33 15 17 23 21 33 24 23 13 22 10 17 5z"/>
<path fill="#2d115e" d="M560 854l13 4 23 3 33 2 34-4 22-8 23-12 34-27 33-31 25-28 16-23 12-22 12-34 18-67 11-56 5-34 1-23-1-11-6-22-11-23-17-22-20-18-22-13-11-4-12-3-11-1-11 0-11 2-34 14-11 3-12-1-11-6-11-11-11-16-41-70-32-45-19-22-21-23-22-19-23-15-11-6-22-10-23-7-22-4-34 0-22 3-23 5-34 14-45 23-22 13-11 9-12 13-17 26-22 45-9 23-37 134-6 34-1 23 1 22 6 23 11 22 8 11 10 12 12 9 11 7 22 9 11 2 12 1 11-2 11-3 11-6 34-22 11-4 12 2 11 8 11 16 31 61 28 45 24 34 28 34 24 21 22 17 23 13 22 10 21 6z"/>
<path fill="#420f71" d="M554 843l30 7 34 3 34-3 22-6 23-11 22-16 45-41 21-23 17-23 13-22 9-23 13-45 11-44 13-68 2-34-4-22-8-23-7-11-13-15-11-10-11-8-11-6-11-4-12-3-11 0-11 1-11 3-12 5-22 12-11 5-12 0-11-6-11-12-11-17-52-91-23-34-18-22-21-23-21-19-23-16-11-7-22-10-34-9-23-2-22 0-22 4-12 3-11 3-22 10-68 35-11 8-11 11-16 23-22 45-13 34-33 123-5 34-2 23 2 22 2 11 9 23 7 11 10 11 16 13 11 6 11 4 11 2 12-1 11-2 11-5 9-5 36-27 11-5 12 1 11 8 11 15 11 21 20 43 17 33 29 45 26 34 21 23 11 10 22 17 34 19 26 10z"/>
<path fill="#561578" d="M590 843l28 2 22-2 23-5 22-9 23-16 42-38 25-26 23-30 12-22 8-23 17-67 9-45 6-34 2-22-1-23-7-22-5-12-8-10-11-12-11-9-11-7-11-4-12-2-11 0-11 2-11 4-45 28-12 2-11-5-11-14-11-19-41-77-20-34-15-22-26-34-33-33-23-17-22-12-34-12-22-3-23-1-22 2-23 6-22 9-68 34-11 7-11 10-9 10-14 22-15 34-17 45-9 34-19 78-5 34-2 23 2 22 2 11 5 12 6 11 8 11 11 9 11 7 11 4 11 2 12-1 11-3 11-7 45-35 11-6 12 0 11 8 11 15 11 21 29 65 24 45 31 45 28 33 24 23 22 15 11 6 11 6 23 9 22 6 17 3z"/>
<path fill="#691d7a" d="M568 831l28 6 33 0 23-4 22-8 23-14 16-13 40-38 25-30 16-22 11-23 7-22 12-45 9-45 8-56 1-23-4-22-5-11-6-12-7-8-11-10-11-8-11-4-12-2-11 0-11 3-11 6-17 12-28 25-12 4-11-4-11-15-42-88-18-34-20-34-15-22-17-23-20-22-14-14-23-17-11-7-22-11-23-7-22-3-23-1-22 3-23 7-22 9-68 35-11 8-9 9-9 11-7 11-15 34-16 45-9 34-15 67-6 34-3 22 1 23 4 22 6 12 11 15 11 8 11 5 11 1 12-1 11-4 11-7 45-39 11-7 12-2 11 7 11 16 11 23 32 74 17 34 27 45 25 34 23 25 11 11 23 16 33 18 29 8z"/>
<path fill="#7c247b" d="M551 820l22 7 34 4 22-1 11-1 23-7 22-12 16-12 35-34 31-34 17-22 11-23 8-22 9-34 9-45 10-67 0-23-4-22-5-11-8-12-16-13-11-5-12-2-11 1-11 4-7 4-14 11-35 41-12 8-11-2-11-14-24-66-15-34-35-67-21-34-16-23-29-33-17-16-23-15-22-11-23-7-22-4-23 0-22 3-11 3-23 10-73 37-17 12-8 10-8 11-10 23-17 45-10 34-8 33-11 56-4 34-1 23 3 22 7 15 11 13 11 7 11 2 12-2 11-5 22-17 34-34 11-10 12-5 11 4 11 17 41 105 20 45 12 22 21 34 25 34 27 28 11 9 23 15 22 11 12 4zM584 619l-11-2-18-10-16-17-11-16-12-23-5-23 6-11 32 34 40 33 10 12 4 11-7 11-12 1zM461 452l-45-36-9-12-3-11 8-11 4-2 11-1 11 3 11 8 12 12 12 25 6 22-7 11-11-8z"/>
<path fill="#8e2a79" d="M573 820l34 5 22-1 23-5 21-10 16-11 25-23 39-41 21-26 7-11 10-23 10-34 8-33 5-34 7-56 0-23-2-11-4-11-6-11-11-11-11-5-12-2-11 1-11 5-14 12-9 11-22 32-11 15-12 9-11 5-11-3-6-13-5-16-9-40-9-34-17-45-16-34-25-45-22-33-18-23-19-21-23-18-22-14-23-9-22-6-23-2-22 3-22 6-79 38-21 12-13 12-7 10-7 12-9 22-14 45-8 26-6 30-8 45-5 34 0 22 3 23 5 13 11 12 11 4 12-2 11-4 11-8 11-10 16-16 18-25 11-13 12-7 11-2 2 2 9 7 2 4 7 22 8 34 10 34 26 67 21 45 27 45 16 23 18 20 27 25 29 18 23 9 22 6zM573 633l-11-5-14-10-12-11-18-23-14-22-27-56-14-23-8-11-11-11-17-15-43-30-7-12 1-11 5-11 11-11 10-5 12-2 11 0 17 7 15 11 9 11 8 11 24 45 20 34 15 23 16 20 12 13 21 17 12 6 25 11 8 6 4 5 3 12-1 11-4 11-9 11-4 3-11 5-11 1-12-2-11-3z"/>
<path fill="#a23176" d="M553 809l31 8 34 1 22-3 23-8 11-7 11-8 18-17 50-54 18-24 6-12 9-22 9-34 8-45 6-56 1-22-1-12-4-11-7-14-11-8-12-3-11 2-11 8-5 4-9 11-31 48-34 42-7 11-15 34-7 11-10 11-6 4-11 4-11 2-11 0-12-3-19-7-18-11-19-18-13-15-16-23-30-56-13-23-18-21-11-10-11-8-12-6-11-4-11-1-11 4-2 1-6 12-2 22 1 34 4 22 6 23 7 22 18 45 15 34 12 22 21 34 16 23 20 22 13 12 23 16 22 12 14 5zM591 539l5 2 11 3 11-2 5-3 6-6 3-5 3-11 1-11 0-23-5-34-5-22-7-23-14-33-17-34-19-34-14-22-16-23-20-22-13-13-23-17-11-6-23-10-22-5-23-2-11 1-22 5-11 4-45 23-34 16-11 6-12 9-10 11-12 23-7 22-17 57-10 51-6 50 0 22 5 23 7 11 5 4 12 2 11-4 11-7 17-18 28-41 11-12 34-27 24-32 10-11 11-8 11-6 11-3 12-1 11 1 15 6 17 11 11 11 16 22 26 45 15 23 24 33 11 13 11 10 11 8 7 3z"/>
<path fill="#b63870" d="M573 809l11 2 23 2 22-2 23-6 13-7 16-11 22-23 49-56 12-17 11-22 9-29 7-33 4-34 1-45-2-22-3-12-4-8-5-3-7-3-11 3-14 11-8 11-54 79-26 45-10 15-10 8-13 5-11 2-11 1-23-4-11-3-11-5-11-7-12-8-15-15-11-11-17-23-47-79-11-14-11-11-11-8-12-4-11-1-11 8-4 8-4 23 0 22 3 23 6 22 16 45 14 34 17 33 14 23 17 24 17 21 16 16 12 10 22 14 23 10 22 6zM585 517l11 3 11-1 12-13 4-23 1-22-3-23-5-22-8-23-15-33-17-34-20-34-15-22-18-23-17-18-12-9-22-15-23-9-22-6-11-1-23 1-22 5-17 7-39 22-34 15-12 8-12 11-8 12-5 11-8 22-14 57-8 44-3 45 1 23 4 11 9 10 11 0 11-7 11-13 23-32 11-13 48-46 26-22 16-10 11-4 11-2 12 0 19 4 14 7 12 8 11 10 16 20 35 56 16 24 23 26 11 11 12 7z"/>
<path fill="#c94067" d="M552 798l32 8 23 1 22-2 23-7 18-11 12-12 60-69 11-14 11-20 8-20 5-23 5-33 1-23-3-34-5-16-11-6-11 6-11 12-45 62-27 43-8 12-10 8-12 5-11 3-22 0-23-4-11-3-18-9-17-12-24-22-19-22-16-23-30-49-11-15-11-11-11-7-12-2-11 6-5 11-3 11-1 11 0 11 4 23 6 22 10 30 12 28 15 32 27 45 26 34 12 11 21 16 22 13 13 5zM580 494l4 3 12 0 4-3 7-6 5-16 1-11-1-23-4-22-7-23-9-22-17-34-32-56-26-34-11-11-23-18-22-13-23-8-22-3-12 0-22 4-22 9-34 19-45 21-11 8-12 13-6 13-8 22-9 45-5 34-1 34 1 11 6 18 11 1 11-9 47-44 28-22 31-23 18-8 11-3 11-2 12 1 11 2 22 10 23 16 11 12 14 17 31 49 11 15 23 25 11 9 7 3z"/>
<path fill="#da4d5e" d="M571 798l13 2 23 2 11-1 15-3 7-3 18-8 14-12 10-11 34-45 26-30 9-15 6-11 7-25 4-31 0-23-4-16-11-8-11 6-12 11-23 30-10 15-18 30-9 11-7 5-11 6-12 2-11 1-22-1-23-5-22-8-19-11-15-11-24-23-19-22-47-68-11-10-11-6-12 3-6 13-2 11-1 12 4 22 7 23 21 56 10 22 13 23 14 22 17 23 25 24 12 9 21 12 12 5 20 6zM571 472l13 4 12-5 4-10 2-12 0-22-5-23-3-11-9-22-12-25-23-43-14-22-16-23-10-11-11-11-16-13-22-13-23-7-22-4-23 2-22 8-45 25-34 16-14 8-12 12-8 14-6 19-5 45 0 34 6 11 5 5 12-2 11-6 65-42 25-14 11-4 11-2 11 0 23 3 22 10 13 7 14 12 21 22 42 61 12 13 11 10 9 6z"/>
<path fill="#e55f58" d="M551 787l22 6 11 2 23 1 11-1 22-7 12-6 9-7 11-11 8-11 28-49 22-25 12-16 6-23 0-11-1-11-5-10-12 3-11 10-11 14-15 28-8 10-11 8-11 3-23 2-22-1-22-4-23-6-11-5-13-7-21-14-22-20-22-22-46-58-11-9-11 0-6 11-1 11 3 22 15 49 12 30 11 22 22 36 16 21 11 11 12 11 17 11 23 12zM562 449l11 6 11-3 7-14 1-11-1-11-5-23-4-11-20-45-18-34-14-22-13-18-13-16-12-11-20-14-23-11-22-5-23-1-11 2-18 6-49 30-34 15-15 12-8 11-5 11-3 11-2 23 4 22 7 13 11 4 11-2 11-4 23-10 34-20 11-4 11-4 11-1 11 0 23 5 22 9 12 6 12 8 13 12 19 22 34 46 12 12 11 9z"/>
<path fill="#eb7559" d="M570 787l26 3 22-2 11-3 20-10 12-11 8-11 6-11 4-12 1-11-3-11-3-3-11-5-67-12-23-6-17-8-19-11-29-23-25-22-34-34-11-9-11 7 0 14 8 33 7 23 15 33 20 34 18 23 11 11 14 11 19 12 12 4 19 7zM556 427l6 4 11 0 3-4 3-11-1-12-5-22-11-28-25-51-21-33-22-25-11-10-22-14-21-8-13-2-23 0-11 2-24 12-32 22-45 21-13 13-5 11-3 11-1 12 2 11 6 11 3 4 11 4 11-1 23-8 34-18 11-3 11-3 22 1 23 5 19 8 15 7 22 16 23 22 33 42 12 11 5 3z"/>
<path fill="#ef8c61" d="M552 775l21 6 23 3 22-3 16-6 15-11 9-11 5-11 1-12-4-11-8-7-8-4-60-16-33-14-26-15-53-40-11-7-12 2-1 11 1 11 6 23 4 11 11 23 13 21 11 15 20 20 16 11 22 11zM539 393l12 8 11-8-2-11-9-31-21-48-13-22-11-16-12-13-22-19-23-11-22-6-11 0-12 1-11 3-11 5-15 11-19 17-11 6-34 15-10 7-7 11-3 11 2 12 7 10 11 3 15-2 30-15 12-5 11-3 11 0 22 2 34 11 34 17 22 15 13 12 32 33z"/>
<path fill="#f0a36f" d="M575 775l21 2 11-1 11-3 11-5 6-4 10-11 4-11-1-12-9-11-10-5-67-23-23-11-45-28-11-6-11-2-5 8 0 11 2 11 4 11 10 20 18 25 16 17 22 16 23 9 13 3zM511 348l6 4 11 6 6-10-4-22-14-34-14-22-9-12-10-10-16-12-18-9-11-3-11-2-11 0-12 2-11 4-12 8-11 11-17 23-5 8-6 3 6 3 23 4 33 9 34 12 35 17 38 22zM311 303l4 2 4-2 19-11-1-3-11-2-11 3-4 2 0 11z"/>
<path fill="#f0b981" d="M559 764l25 5 12 0 11-2 10-3 13-11 4-11-4-12-15-11-53-20-56-28-12-3-10 6 1 11 9 23 16 22 11 12 15 11 23 11zM493 326l13 3 5-3 3-11-2-12-4-11-13-22-10-12-13-12-11-7-12-6-11-3-11-2-11 1-12 3-8 4-12 11-5 11 0 12 11 11 23 11 80 34z"/>
<path fill="#efce94" d="M553 753l20 5 11 1 12-1 11-4 2-1 6-11-7-12-20-11-60-24-11-3-11 3-1 2 2 11 6 11 9 11 12 12 19 11zM459 303l24 7 11-2 3-5 0-11-4-11-7-11-10-12-15-12-23-9-11-1-11 1-12 6-4 4-5 11 3 12 12 11 22 11 27 11z"/>
<path fill="#eee4aa" d="M561 742l12 1 6-1-4-12-24-9-7 9 17 12zM456 292l16 3 6-3 2-11-6-11-10-12-15-9-11-3-11 0-5 1-6 5-4 6 4 12 14 11 26 11z"/>
<g fill="none" stroke="#fff" stroke-opacity="0.15" stroke-width="2.2">
<path d="M567 854l29 5 33 2 23-2 11-3 22-7 12-6 18-12 39-33 24-23 28-33 14-23 10-22 17-57 13-56 11-56 2-22-2-23-6-22-4-12-7-12-11-15-12-12-22-16-22-10-23-4-11 1-23 6-22 10-11 3-12 0-11-6-11-12-11-16-44-74-31-45-19-22-22-23-19-17-23-15-11-6-22-10-23-7-22-4-34 0-22 3-23 5-34 15-56 29-11 7-11 10-12 13-8 11-12 22-16 34-13 34-33 123-6 34-1 23 1 22 6 23 11 22 8 11 11 12 19 13 11 5 22 6 12 0 11-1 11-4 11-6 34-23 11-4 12 2 11 8 11 16 28 55 12 22 21 34 24 34 27 32 23 21 11 9 23 14 33 16 28 9z"/>
<path d="M580 831l27 4 22-1 23-4 11-3 14-7 20-13 35-32 32-33 18-23 14-22 9-23 10-34 8-33 8-45 6-45 1-23-4-22-5-11-7-12-13-13-14-9-8-3-12-2-11 0-11 3-11 7-12 8-33 33-12 6-11-4-11-16-40-88-36-68-30-45-29-33-12-12-22-16-22-13-23-9-22-5-23-2-22 1-22 5-23 9-79 40-16 13-9 11-7 11-15 34-16 45-9 34-15 67-6 34-2 22 0 23 5 22 6 12 6 7 11 10 11 5 11 2 11-2 12-5 11-7 45-41 11-8 12-2 11 6 11 16 46 108 17 34 20 34 32 45 20 22 11 10 23 17 22 13 11 5 23 8 18 3zM438 409l-4-5 4-2 3 2-3 5z"/>
<path d="M563 809l33 6 22 0 22-4 23-9 22-15 12-12 51-56 17-22 12-23 8-22 10-45 4-34 3-45-1-22-3-17-3-6-8-10-12-3-11 2-11 9-11 13-30 45-32 45-25 45-8 11-7 6-11 6-11 3-11 1-23-3-22-9-22-15-12-11-19-22-15-21-32-58-13-20-11-14-11-10-11-8-12-5-11-2-11 3-8 11-4 11-1 11 0 23 2 22 5 23 7 22 18 45 15 34 12 22 13 23 20 28 14 17 19 19 19 15 15 8 23 10 12 4zM593 528l14 1 11-6 4-6 4-11 3-23-1-22-4-23-5-22-8-23-15-33-18-34-19-34-15-22-18-23-20-20-12-9-22-15-23-10-22-5-11-1-23 0-17 4-16 6-45 23-34 16-17 11-11 11-7 12-9 22-19 68-7 33-4 34-2 34 1 22 4 11 3 7 12 6 11-2 11-7 11-12 23-34 11-14 34-32 34-35 14-11 19-10 11-3 12 0 11 2 22 9 12 9 11 10 12 16 44 71 23 30 11 13 11 10 11 8 9 3z"/>
<path d="M548 787l14 4 22 5 23 1 11-1 22-6 12-6 12-9 10-11 9-11 25-42 23-26 11-15 7-18 3-12 2-22-1-11-11-10-12 6-11 11-11 14-21 35-13 13-11 5-23 3-22-1-22-3-20-6-14-6-11-5-23-16-20-18-21-22-49-62-11-10-11-2-6 6-4 12-1 11 2 11 9 33 11 32 10 25 11 22 21 34 14 19 11 12 23 19 11 8 20 10zM558 449l4 4 11 6 11-1 7-9 3-11 0-11-3-23-7-22-22-48-17-31-17-27-23-29-12-11-21-15-23-11-22-6-23 0-11 2-21 7-46 28-38 17-13 12-8 11-5 11-3 11-1 12-1 22 2 11 3 12 8 9 11 1 22-7 23-12 34-19 22-9 11-1 11 0 23 4 22 9 12 7 23 18 20 22 35 49 12 13 7 5z"/>
<path d="M574 775l22 2 11-1 11-2 11-6 7-4 9-11 5-11-2-12-9-11-10-5-67-23-23-11-45-29-11-5-11-3-6 9 0 11 3 11 9 23 16 26 17 19 17 14 23 12 23 7zM511 348l17 11 6-11-4-22-14-34-14-22-8-12-11-10-16-12-18-9-11-3-11-2-11 0-12 2-11 4-12 8-12 11-17 23-4 7-9 4 9 4 23 4 33 8 34 13 35 16 38 22zM309 303l6 2 7-2 18-11-3-9-22 6-5 3-1 11z"/>
<path d="M434 281l27 10 11 1 5-11-5-11-10-12-13-6-11-4-11 0-12 10 4 12 15 11z"/>
</g></g>
<rect x="0" y="0" width="1000" height="1000" fill="none" stroke="#2a2a2a" stroke-width="2.4"/>
</g>
<text x="2321.80" y="77.50" text-anchor="middle" class="st" textLength="74.98" lengthAdjust="spacingAndGlyphs">σ = 0.22</text>
<text x="2097.10" y="554.40" text-anchor="middle" class="tk" textLength="16.36" lengthAdjust="spacingAndGlyphs">−3</text>
<text x="2086.60" y="539.50" text-anchor="end" class="tk" textLength="16.36" lengthAdjust="spacingAndGlyphs">−3</text>
<text x="2172.00" y="554.40" text-anchor="middle" class="tk" textLength="16.36" lengthAdjust="spacingAndGlyphs">−2</text>
<text x="2086.60" y="464.60" text-anchor="end" class="tk" textLength="16.36" lengthAdjust="spacingAndGlyphs">−2</text>
<text x="2246.90" y="554.40" text-anchor="middle" class="tk" textLength="16.36" lengthAdjust="spacingAndGlyphs">−1</text>
<text x="2086.60" y="389.70" text-anchor="end" class="tk" textLength="16.36" lengthAdjust="spacingAndGlyphs">−1</text>
<text x="2321.80" y="554.40" text-anchor="middle" class="tk" textLength="7.06" lengthAdjust="spacingAndGlyphs">0</text>
<text x="2086.60" y="314.80" text-anchor="end" class="tk" textLength="7.06" lengthAdjust="spacingAndGlyphs">0</text>
<text x="2396.70" y="554.40" text-anchor="middle" class="tk" textLength="7.06" lengthAdjust="spacingAndGlyphs">1</text>
<text x="2086.60" y="239.90" text-anchor="end" class="tk" textLength="7.06" lengthAdjust="spacingAndGlyphs">1</text>
<text x="2471.60" y="554.40" text-anchor="middle" class="tk" textLength="7.06" lengthAdjust="spacingAndGlyphs">2</text>
<text x="2086.60" y="165.00" text-anchor="end" class="tk" textLength="7.06" lengthAdjust="spacingAndGlyphs">2</text>
<text x="2546.50" y="554.40" text-anchor="middle" class="tk" textLength="7.06" lengthAdjust="spacingAndGlyphs">3</text>
<text x="2086.60" y="90.10" text-anchor="end" class="tk" textLength="7.06" lengthAdjust="spacingAndGlyphs">3</text>
<path d="M2097.10 535.40v4.90M2097.10 535.40h-4.90M2172.00 535.40v4.90M2097.10 460.50h-4.90M2246.90 535.40v4.90M2097.10 385.60h-4.90M2321.80 535.40v4.90M2097.10 310.70h-4.90M2396.70 535.40v4.90M2097.10 235.80h-4.90M2471.60 535.40v4.90M2097.10 160.90h-4.90M2546.50 535.40v4.90M2097.10 86.00h-4.90" stroke="#3e3e3e" stroke-width="1.1"/>
<g transform="translate(37.50 578.00) scale(0.449400)">
<g clip-path="url(#c)"><rect width="1000" height="1000" fill="#03030e"/>
<path fill="#0d0a27" d="M618 966l22 5 12 1 11 0 11-3 11-5 34-22 56-21 16-11 37-34 37-23 12-10 11-14 10-20 10-22 30-79 6-11 27-45 10-23 3-11 1-11-3-23-16-48-4-19-4-68-5-22-3-11-10-23-19-31-22-28-11-13-19-18-26-18-23-11-22-7-42-9-14-4-16-7-18-11-23-18-15-16-57-67-21-23-19-18-22-16-23-12-11-5-23-6-90-19-22-1-11 2-11 4-12 5-33 20-12 5-21 8-35 8-22 7-23 12-20 18-20 22-29 34-25 33-21 34-16 34-7 22-14 68-15 56-4 22-1 23 1 22 6 34 12 34 11 22 15 23 26 32 13 13 21 17 34 22 76 39 25 16 21 18 46 45 56 50 34 27 34 23 22 12 23 9 112 36z"/>
<path fill="#1c1143" d="M594 921l24 4 22-3 45-15 45-11 23-8 11-6 34-28 45-34 11-12 11-15 16-29 10-22 19-57 25-56 6-22 0-23-12-67-6-68-5-22-5-11-14-23-20-22-25-24-23-17-11-8-22-11-45-12-23-7-19-11-14-11-23-21-22-24-55-68-20-22-26-22-23-13-22-8-23-4-67-10-23-1-22 3-11 3-52 18-38 11-23 8-22 13-12 9-15 15-30 34-18 22-23 34-12 23-10 22-7 23-26 101-8 45-1 33 2 23 6 22 8 23 12 22 16 23 17 18 17 15 39 27 22 13 57 28 20 11 13 9 17 14 73 68 34 29 22 17 34 21 34 16 56 20 32 8z"/>
<path fill="#2d115e" d="M559 888l25 4 23 1 11-1 79-14 33-8 23-12 11-8 51-41 21-22 18-27 15-30 12-33 27-90 3-23-1-33-8-79-7-34-11-22-16-23-25-24-23-17-22-11-11-4-43-11-14-5-14-6-19-14-12-10-22-25-70-86-20-23-22-20-23-13-22-9-23-4-56-8-34-2-33 5-79 24-23 10-22 14-16 15-18 18-23 26-17 23-21 34-11 22-11 34-22 78-9 45-2 34 1 23 3 22 7 23 10 22 15 23 21 22 26 20 33 21 78 38 23 14 23 18 47 46 37 34 28 23 23 16 22 12 23 11 33 12 20 5z"/>
<path fill="#420f71" d="M540 865l33 6 34 1 56-6 22-3 23-5 22-8 23-14 33-27 23-22 9-12 16-22 18-34 9-22 6-23 18-67 5-34 1-34-3-45-6-33-8-23-13-22-18-21-23-19-11-7-22-11-45-12-23-8-20-12-14-12-22-24-79-100-22-23-23-18-22-12-23-7-67-11-23-2-22 1-22 4-23 6-34 10-22 9-18 10-15 12-23 21-32 35-17 22-15 23-11 22-9 23-26 89-8 34-3 23 0 33 3 23 5 22 9 23 13 22 12 14 23 21 22 16 22 12 68 31 22 12 12 7 22 19 70 71 20 17 22 18 23 15 22 12 23 9 23 7z"/>
<path fill="#561578" d="M555 854l29 3 56-2 34-3 23-5 11-4 22-10 23-15 23-20 21-23 22-33 18-34 13-34 11-45 9-45 5-45 0-22-2-23-5-22-3-11-10-23-12-19-13-15-21-16-22-12-55-16-13-6-12-6-22-15-22-23-56-74-34-41-22-22-23-15-22-10-23-6-45-9-22-3-23 0-22 3-45 11-23 8-22 11-11 7-23 19-23 24-29 34-16 23-12 22-10 23-7 22-20 67-8 34-3 23 1 22 4 34 5 22 10 23 7 11 19 23 15 12 14 10 19 12 79 35 32 20 26 23 66 69 22 21 23 17 22 14 23 11 22 8 27 6z"/>
<path fill="#691d7a" d="M559 843l37 2 44-1 34-4 23-5 22-10 23-14 22-20 15-16 23-33 22-45 13-34 9-34 10-56 5-45-2-34-5-22-4-11-7-16-12-17-11-13-12-11-10-6-23-11-45-14-22-10-22-15-12-10-22-25-48-66-28-34-25-25-23-17-22-10-23-8-45-10-22-2-23 0-22 3-23 5-22 7-23 9-11 6-14 9-20 16-27 29-19 22-17 23-13 22-10 23-8 22-21 67-8 34-2 23 1 22 3 23 5 22 9 23 7 11 11 14 11 11 11 10 22 14 79 35 34 22 34 30 48 55 21 22 32 27 22 15 23 11 22 8 31 7z"/>
<path fill="#7c247b" d="M552 831l32 4 45 0 34-3 22-5 23-8 22-14 23-18 19-23 8-11 13-23 20-45 12-33 9-34 8-45 5-45-1-34-6-22-9-20-8-14-14-15-11-9-23-13-45-15-22-10-23-14-11-10-15-15-19-22-39-57-27-33-23-24-23-18-22-12-23-8-34-8-22-4-23-1-22 2-22 4-23 6-22 9-17 9-16 11-13 11-22 23-28 33-16 23-12 21-10 24-22 67-6 23-5 22-2 34 3 22 6 23 4 11 10 19 10 15 12 12 13 10 21 12 56 24 22 13 23 17 22 19 23 22 50 62 22 22 18 16 22 15 23 12 22 8 24 5z"/>
<path fill="#8e2a79" d="M540 820l33 5 45 2 34-2 22-4 23-8 22-12 18-14 16-16 13-18 18-34 23-56 13-42 8-37 6-45 0-33-3-23-9-22-7-12-9-11-12-11-19-12-67-27-23-14-22-19-26-29-47-68-17-22-22-24-23-18-22-13-23-9-22-6-23-5-22-2-23 0-22 4-23 6-33 13-16 9-18 14-19 20-28 33-17 23-13 22-14 34-22 67-5 23-4 22 1 23 1 11 6 23 4 11 9 16 11 15 11 11 23 14 45 18 22 13 23 17 33 31 34 33 52 68 27 27 11 9 22 14 23 10 23 7z"/>
<path fill="#a23176" d="M529 809l33 7 34 2 33 0 34-3 22-7 23-11 22-18 15-15 16-22 10-23 30-79 10-33 6-34 5-45-1-22-4-23-10-22-8-12-12-11-23-14-45-18-22-12-23-16-20-18-14-15-15-19-37-56-17-23-20-23-26-22-19-11-23-10-22-7-23-5-34-2-22 2-22 5-34 12-23 13-11 9-17 17-19 22-17 23-15 22-12 23-10 22-25 79-5 33 1 23 2 11 8 23 8 13 11 14 11 9 12 7 56 24 22 16 85 85 16 21 32 47 20 22 16 15 22 15 23 11 12 4z"/>
<path fill="#b63870" d="M573 809l56 2 23-2 22-6 13-5 21-12 22-20 11-13 8-11 11-23 18-56 17-45 6-22 6-34 2-34-1-22-5-23-5-11-8-11-15-15-11-8-11-5-34-15-22-12-23-15-23-20-21-23-12-14-13-19-28-45-16-23-22-23-22-18-23-12-22-9-23-6-22-4-34 1-22 4-23 6-22 10-11 6-15 11-12 12-19 22-17 23-15 22-12 22-10 23-8 23-14 44-6 23-2 22 1 12 5 22 5 11 7 12 10 11 12 9 11 6 46 19 18 11 15 13 89 99 12 17 31 51 9 11 16 16 22 16 23 12 22 7 34 5z"/>
<path fill="#c94067" d="M546 798l27 4 45 2 22-2 23-4 22-9 12-7 22-18 10-11 8-11 11-23 20-67 20-56 5-23 3-34-1-22-4-23-4-11-7-11-9-11-7-6-11-7-45-22-23-13-22-18-27-24-18-19-12-15-10-16-22-40-15-23-19-22-23-20-11-8-23-11-22-8-23-5-22-2-12 1-22 3-22 5-23 9-11 6-12 7-13 12-11 11-17 22-29 45-11 23-10 22-18 56-5 23-1 11 2 23 3 11 9 18 17 16 17 10 34 13 20 10 14 11 11 11 36 46 49 56 16 24 23 43 17 23 11 11 16 13 18 10 16 6 18 5z"/>
<path fill="#da4d5e" d="M532 787l19 4 33 4 34 1 22-1 23-6 22-10 20-15 11-11 14-20 7-14 7-22 12-57 20-56 4-22 2-23-2-22-2-11-3-12-6-11-10-11-6-6-11-7-45-24-23-15-33-27-34-33-17-23-22-45-12-22-16-23-11-11-13-11-17-12-16-8-11-5-23-6-15-3-18-1-23 2-22 4-19 6-15 7-22 15-13 12-9 11-23 34-23 43-11 24-15 45-7 34 0 22 3 12 6 11 9 11 14 11 12 7 45 19 14 8 14 11 10 12 31 45 44 50 11 15 11 21 17 37 13 23 10 11 16 14 23 14 15 6z"/>
<path fill="#e55f58" d="M570 787l48 2 22-2 12-3 21-9 12-7 18-15 9-11 8-12 10-22 4-23 4-33 5-23 16-45 5-20 1-13 0-23-2-11-4-11-6-13-11-12-12-9-45-25-22-15-56-44-18-17-9-11-5-12-19-56-11-22-17-23-11-11-11-9-22-14-12-5-18-6-16-3-11-1-23 0-22 4-22 6-23 10-11 8-11 10-19 22-13 23-36 74-11 31-5 18-3 23 1 11 2 11 5 12 9 11 13 10 23 11 45 17 13 7 13 11 8 11 25 45 17 23 25 28 11 16 11 23 17 45 13 23 10 11 17 13 17 9 16 6 31 6z"/>
<path fill="#eb7559" d="M548 775l25 4 23 2 22 0 22-3 12-3 22-11 14-11 11-11 8-12 6-11 8-22 2-23 0-56 1-11 4-11 14-37 1-20-1-11-4-11-7-11-12-12-22-13-23-11-22-8-34-7-11-7-11-10-12-14-11-16-8-15-9-22-6-23-5-45-7-22-13-23-9-11-12-11-16-11-16-9-11-4-23-5-11-1-23 0-33 7-23 9-21 14-12 13-15 21-10 22-14 34-18 40-10 27-4 23 0 11 2 11 5 11 7 11 12 8 11 7 11 4 23 5 56 5 12 5 5 12 3 33 7 23 5 11 7 11 28 34 15 22 9 23 11 45 10 22 8 12 15 14 11 7 11 6 20 6zM629 545l-8-6-6-11 0-11 3-10 11-3 11 11 7 13 2 11-9 9-11-3z"/>
<path fill="#ef8c61" d="M539 764l34 7 23 2 22 0 22-4 12-4 22-14 11-11 12-15 8-17 3-11 1-12 0-22-5-23-4-11-7-11-8-9-11-8-22-10-34-13-34-10-11-3-22-1-34 0-20-2-14-8-11-10-11-6-12 2-6 11 0 11 5 11 13 23 8 22 7 34 6 45 7 22 5 11 12 14 11 9 22 11zM511 494l6 1 11-1 11-8 5-14 0-11-2-34-11-67-1-23 0-34-2-11-3-11-5-11-7-12-7-8-16-14-19-11-22-8-22-3-23 0-33 8-23 10-19 15-9 11-8 12-10 22-12 45-20 46-7 21-1 12 1 11 5 11 9 11 15 9 11 3 12 1 11-1 11-3 34-15 11-3 11-1 11 1 12 2 18 7 19 12 19 15 22 14 17 4z"/>
<path fill="#f0a36f" d="M593 764l25-1 22-5 12-6 11-8 14-14 8-12 5-10 3-11 2-12 0-11-2-11-4-11-5-12-9-11-12-10-22-12-23-10-22-6-23-3-22 1-25 7-9 3-11 9-7 10-4 11-1 23 1 33 3 23 4 11 6 11 9 10 19 13 26 7 31 4zM300 427l3 2 12 1 10-3 35-17 11-3 11-1 11 0 23 3 45 14 11 2 11 1 11-2 11-8 5-12 2-11 0-56 2-34-1-11-2-11-5-11-7-12-11-11-16-11-23-10-22-3-23 0-22 5-21 8-17 11-11 11-8 12-10 22-2 11-4 45-3 12-13 33-3 11 2 14 8 9z"/>
<path fill="#f0b981" d="M579 753l17 1 22-2 11-3 11-5 12-8 11-11 10-17 4-11 2-12-1-11-4-14-4-8-7-10-11-11-12-8-22-10-22-7-23-2-11 1-11 3-12 4-11 7-9 10-5 11-3 12-1 22 1 23 2 11 4 11 11 14 11 8 12 5 28 7zM448 393l13 2 13-2 9-6 4-5 4-11 3-23 3-45 0-11-2-11-5-11-7-12-13-11-21-10-11-3-22-1-23 2-11 3-20 9-14 11-9 12-6 11-3 11-2 11 0 12 2 11 7 20 11 15 12 7 22 7 66 18z"/>
<path fill="#efce94" d="M550 730l23 9 23 2 11-1 11-2 15-8 12-11 8-11 5-11 2-12-1-11-3-11-7-11-11-12-18-11-24-8-23-1-11 2-16 7-11 11-5 12-3 11 0 22 1 12 3 11 6 11 13 11zM405 360l22 6 11 2 11 1 12-3 7-6 6-12 2-11 3-22 0-23-2-11-5-11-10-12-13-7-9-4-13-2-11-1-23 3-11 4-14 7-8 7-5 5-7 12-3 10 0 11 2 12 6 11 7 9 11 9 11 6 23 10z"/>
<path fill="#eee4aa" d="M571 719l13 4 12 0 11-2 11-6 8-7 7-11 3-12-1-11-4-11-9-11-15-10-11-3-12-2-11 1-11 5-9 9-2 4-3 7-2 11 1 11 3 12 6 11 6 5 9 6zM404 337l23 6 11-1 11-6 7-10 3-11 1-12-1-11-4-11-6-7-11-9-11-4-11-1-12 0-11 3-11 5-13 13-3 11 1 11 5 12 11 11 21 11z"/>
<g fill="none" stroke="#fff" stroke-opacity="0.15" stroke-width="2.2">
<path d="M547 888l15 4 22 4 23 1 11-1 90-17 22-6 23-11 22-17 45-36 21-22 21-34 11-23 33-101 6-22 3-23-1-22-9-90-4-23-7-22-13-23-16-18-16-15-18-15-22-14-22-9-57-15-22-12-11-9-12-10-22-25-87-105-14-14-23-16-22-11-23-6-67-10-34-2-33 5-79 24-23 10-16 9-17 14-30 31-20 22-24 34-19 34-9 22-31 113-7 33-2 23 1 34 3 22 7 23 4 11 13 22 18 23 28 26 23 16 22 13 73 35 28 17 23 19 43 42 37 34 32 26 23 15 22 13 23 10 22 9 19 6z"/>
<path d="M541 843l32 4 56 0 34-2 34-7 22-9 23-14 20-17 22-23 8-11 14-22 18-34 14-34 9-34 12-56 5-45 0-33-6-34-8-23-14-22-16-17-11-9-22-13-23-9-34-10-22-9-17-12-14-11-25-28-45-62-27-34-29-29-23-16-22-11-23-7-34-7-22-4-23-1-22 1-22 4-23 6-22 8-23 10-20 13-13 11-22 22-30 34-16 23-13 22-10 23-8 22-21 67-7 34-3 23 1 22 3 23 5 22 8 22 6 12 17 21 13 13 15 11 16 9 68 30 34 19 22 17 16 15 18 18 43 49 23 23 13 11 22 15 22 13 23 10 24 7z"/>
<path d="M576 820l31 2 33-1 23-3 22-6 23-11 20-14 14-13 17-21 7-11 11-23 21-56 12-34 9-33 6-45 2-34-2-23-6-22-6-11-7-12-8-9-11-9-23-13-56-23-23-14-22-18-15-15-18-22-38-56-25-34-28-27-22-16-23-11-22-8-23-6-22-4-23 0-22 2-22 5-23 7-22 10-12 7-22 18-21 23-27 34-15 22-12 23-9 22-18 56-7 23-4 22-1 23 0 11 2 11 7 23 5 11 10 15 11 12 9 7 14 8 45 18 11 6 11 7 23 19 67 66 18 22 23 33 18 23 10 11 21 19 22 15 23 10 22 7 37 5z"/>
<path d="M568 798l28 2 33 0 19-2 15-4 18-7 19-12 13-11 17-20 8-14 9-22 14-56 17-45 6-23 4-22 2-23-1-22-5-23-9-17-15-16-17-12-35-17-23-13-22-17-35-31-20-23-9-11-30-56-15-23-19-22-12-11-16-12-20-11-15-6-23-7-22-3-11 0-23 1-22 5-23 7-11 5-17 9-14 12-11 11-25 34-20 33-11 23-18 45-13 45-3 22 1 11 2 12 4 11 6 11 7 8 11 9 11 7 45 19 11 6 12 7 12 12 43 56 34 38 15 18 13 22 23 45 17 23 11 11 15 11 22 12 19 6 29 5z"/>
<path d="M561 775l23 3 23 1 22-2 12-2 22-8 11-7 9-7 11-11 9-12 6-11 5-11 4-23 1-22-4-45-1-22 4-12 12-28 2-17-2-11-5-11-6-8-11-9-11-6-12-3-11-1-7 4-1 12 9 33 2 12-3 11-11 6-11 0-26-6-21-11-11-12-4-11 1-34-3-22-8-23-18-39-11-30-7-32-2-33-4-23-9-22-7-12-10-11-18-15-11-7-26-12-19-4-22-1-23 2-22 6-23 9-16 11-12 11-16 23-11 22-16 45-19 41-5 15-4 23 0 11 3 11 5 11 11 12 13 8 11 4 11 3 23 3 22-2 23-5 11-2 12 2 10 7 4 4 2 11-7 34-1 11 2 12 3 11 5 11 8 11 29 38 10 18 7 23 10 45 10 22 8 12 12 11 11 7 22 10 22 5z"/>
<path d="M544 742l18 6 11 2 23 2 11 0 22-5 12-5 11-9 12-14 6-11 4-11 2-12-1-11-2-11-6-11-9-12-13-11-20-11-18-7-23-4-22 1-11 2-12 5-11 8-5 6-6 11-3 12-2 22 2 23 2 11 4 11 8 11 16 12zM419 382l19 5 23 4 11-2 9-7 6-11 3-11 5-57-1-11-2-11-4-11-8-12-8-7-11-7-12-5-11-3-22-2-17 2-17 4-16 7-16 11-9 12-6 11-3 11-1 11 0 12 2 11 4 11 11 17 12 8 11 5 48 15z"/>
</g></g>
<rect x="0" y="0" width="1000" height="1000" fill="none" stroke="#2a2a2a" stroke-width="2.4"/>
</g>
<text x="262.20" y="569.50" text-anchor="middle" class="st" textLength="74.98" lengthAdjust="spacingAndGlyphs">σ = 0.46</text>
<text x="37.50" y="1046.40" text-anchor="middle" class="tk" textLength="16.36" lengthAdjust="spacingAndGlyphs">−3</text>
<text x="27.00" y="1031.50" text-anchor="end" class="tk" textLength="16.36" lengthAdjust="spacingAndGlyphs">−3</text>
<text x="112.40" y="1046.40" text-anchor="middle" class="tk" textLength="16.36" lengthAdjust="spacingAndGlyphs">−2</text>
<text x="27.00" y="956.60" text-anchor="end" class="tk" textLength="16.36" lengthAdjust="spacingAndGlyphs">−2</text>
<text x="187.30" y="1046.40" text-anchor="middle" class="tk" textLength="16.36" lengthAdjust="spacingAndGlyphs">−1</text>
<text x="27.00" y="881.70" text-anchor="end" class="tk" textLength="16.36" lengthAdjust="spacingAndGlyphs">−1</text>
<text x="262.20" y="1046.40" text-anchor="middle" class="tk" textLength="7.06" lengthAdjust="spacingAndGlyphs">0</text>
<text x="27.00" y="806.80" text-anchor="end" class="tk" textLength="7.06" lengthAdjust="spacingAndGlyphs">0</text>
<text x="337.10" y="1046.40" text-anchor="middle" class="tk" textLength="7.06" lengthAdjust="spacingAndGlyphs">1</text>
<text x="27.00" y="731.90" text-anchor="end" class="tk" textLength="7.06" lengthAdjust="spacingAndGlyphs">1</text>
<text x="412.00" y="1046.40" text-anchor="middle" class="tk" textLength="7.06" lengthAdjust="spacingAndGlyphs">2</text>
<text x="27.00" y="657.00" text-anchor="end" class="tk" textLength="7.06" lengthAdjust="spacingAndGlyphs">2</text>
<text x="486.90" y="1046.40" text-anchor="middle" class="tk" textLength="7.06" lengthAdjust="spacingAndGlyphs">3</text>
<text x="27.00" y="582.10" text-anchor="end" class="tk" textLength="7.06" lengthAdjust="spacingAndGlyphs">3</text>
<path d="M37.50 1027.40v4.90M37.50 1027.40h-4.90M112.40 1027.40v4.90M37.50 952.50h-4.90M187.30 1027.40v4.90M37.50 877.60h-4.90M262.20 1027.40v4.90M37.50 802.70h-4.90M337.10 1027.40v4.90M37.50 727.80h-4.90M412.00 1027.40v4.90M37.50 652.90h-4.90M486.90 1027.40v4.90M37.50 578.00h-4.90" stroke="#3e3e3e" stroke-width="1.1"/>
<g transform="translate(552.40 578.00) scale(0.449400)">
<g clip-path="url(#c)"><rect width="1000" height="1000" fill="#03030e"/>
<path fill="#0d0a27" d="M223 989l15 11 661 0 56-79 13-22 17-34 15-34 0-580-56-40-23-18-22-23-49-58-30-27-33-23-68-40-33-22-594 0-25 18-67 62 0 645 45 43 48 41 19 20 12 16 11 19 28 57 15 23 19 22 26 23z"/>
<path fill="#1c1143" d="M395 989l18 11 431 0 18-22 51-57 24-33 12-23 24-56 13-34 14-44 0-390-26-26-53-47-22-22-23-27-46-62-19-22-13-13-23-17-22-13-101-54-23-11-33-12-57-15-310 0-72 32-33 20-23 19-67 68-34 29 0 480 28 26 84 67 23 21 22 25 56 74 23 25 22 21 23 18 22 14 54 27 38 23z"/>
<path fill="#2d115e" d="M480 989l26 5 44 6 250 0 42-45 47-45 10-11 17-23 18-33 15-34 8-22 12-45 13-90 4-45-3-124-4-34-5-22-14-34-12-22-22-34-50-63-67-95-22-24-12-10-22-16-45-25-45-21-34-15-33-10-62-13-28-10-27-13-34-22-150 0-36 22-79 37-23 13-11 9-34 31-76 79-21 22-15 22 0 283 9 44 7 22 10 23 15 22 29 34 74 67 22 23 59 65 22 23 34 30 45 32 112 69 23 10 19 7z"/>
<path fill="#420f71" d="M627 989l22 11 94 0 18-11 14-12 50-44 51-44 21-24 15-22 16-34 15-45 5-22 3-23 4-45 0-45-3-45-8-56-7-56-9-45-13-34-17-33-27-45-43-68-24-34-17-21-12-12-22-18-23-14-22-12-68-30-33-10-68-16-38-13-29-13-56-31-23-11-11-3-11-1-11 0-12 3-22 8-56 26-57 24-22 11-22 16-32 28-65 67-29 34-15 22-11 23-10 33-5 34-1 34 3 22 5 23 25 81 18 76 8 23 11 22 15 22 19 23 153 148 45 38 37 27 76 52 22 14 23 11 22 7 11 3 23 2 45 3 22 4 23 7 20 10z"/>
<path fill="#561578" d="M692 955l16 2 11-1 11-2 23-8 22-14 79-55 22-20 19-26 15-29 14-38 7-34 4-45 0-56-5-45-23-123-5-23-7-22-9-23-28-56-33-56-21-34-17-22-22-23-23-19-23-13-22-11-34-14-34-12-90-27-45-17-90-38-11-4-22-4-23 1-33 8-68 23-34 16-22 13-24 20-55 54-33 35-17 23-14 22-10 23-7 22-4 23-2 22 2 23 3 22 9 34 26 79 20 78 9 23 6 11 15 22 29 34 92 84 117 96 51 38 34 23 23 11 11 4 22 6 23 2 56-1 34 1 33 4 52 13z"/>
<path fill="#691d7a" d="M498 910l30 2 112-7 68 2 22-1 12-3 22-8 67-36 23-15 13-13 9-11 12-17 11-23 6-16 9-34 4-45 0-45-4-44-28-135-10-34-12-34-28-56-25-45-22-34-14-17-22-23-22-16-23-13-23-10-101-34-123-50-57-20-22-5-22-2-23 1-22 4-34 9-34 12-22 10-23 14-33 29-45 45-30 33-15 20-9 13-11 23-7 22-4 23-2 22 2 23 4 22 10 34 29 79 17 67 7 23 9 18 9 15 18 23 22 22 29 26 90 71 86 72 38 29 22 15 23 12 22 8 15 3z"/>
<path fill="#7c247b" d="M472 876l11 4 23 5 33 2 79-3 56-4 34-4 22-6 23-8 67-33 23-13 11-10 8-8 14-21 12-24 6-23 6-33 2-45-2-34-5-34-17-67-15-68-6-22-13-34-27-56-25-45-25-34-14-15-11-10-23-15-22-11-23-9-78-26-102-46-56-21-34-10-33-6-34 0-34 5-33 9-23 9-22 11-12 8-18 15-24 23-45 44-19 23-16 22-7 12-5 11-8 22-3 12-3 22 1 23 3 22 6 22 8 23 32 79 19 67 7 23 12 22 16 21 11 13 22 19 79 56 22 18 72 64 41 33 33 23 23 11z"/>
<path fill="#8e2a79" d="M536 865l37 3 45-2 56-6 34-8 11-4 23-11 87-50 14-12 11-12 7-10 11-23 4-12 5-21 4-34 0-34-3-22-4-23-18-67-15-68-11-33-14-34-16-34-17-33-15-23-17-22-13-13-12-10-22-14-34-14-51-17-27-10-79-40-34-15-34-12-33-10-34-7-34-2-22 2-23 3-33 9-23 10-11 6-15 10-19 15-63 64-20 22-15 23-6 11-8 22-3 12-3 22-1 11 2 23 9 33 9 23 37 79 21 67 8 19 11 20 14 17 12 11 19 14 52 31 26 19 23 21 62 62 27 22 23 18 23 14 22 11 23 8 30 5z"/>
<path fill="#a23176" d="M527 843l35 7 22 1 23 0 45-4 22-5 23-7 22-10 11-6 64-44 29-22 12-11 8-12 11-19 8-26 5-33-1-34-6-34-19-67-15-68-10-33-14-34-15-33-13-23-14-23-18-22-12-10-16-13-17-9-23-10-70-26-31-14-55-30-24-12-22-9-34-12-45-10-33-3-23 1-22 2-37 9-20 8-11 6-27 20-63 60-15 18-17 23-12 22-4 11-3 12-4 22 0 11 2 23 8 29 12 27 37 67 30 81 11 19 11 13 23 19 56 33 23 15 25 23 67 67 25 23 29 22 16 11 17 10 33 13z"/>
<path fill="#b63870" d="M555 831l18 4 23 2 33-2 34-6 34-12 14-8 19-12 56-44 23-22 11-12 14-22 8-23 5-22 1-23-3-22-4-23-21-67-16-79-7-22-9-23-16-33-19-35-16-22-11-11-13-11-16-11-22-12-57-22-34-16-90-48-22-10-34-11-34-7-22-2-34-1-22 2-23 4-31 10-20 12-15 11-35 31-36 36-10 11-15 23-11 22-6 23-1 11 0 23 2 11 10 32 11 22 36 58 9 21 13 35 10 23 11 17 11 13 22 18 65 42 30 22 74 64 50 49 17 15 12 8 18 10 15 7 16 4z"/>
<path fill="#c94067" d="M578 820l29 3 33-4 34-10 23-11 22-15 23-17 39-36 20-22 14-23 5-11 3-11 4-23 1-11-2-22-6-23-22-67-13-68-6-22-17-45-17-34-15-22-20-23-14-11-17-11-16-9-79-37-67-37-34-17-22-8-23-6-34-6-22-2-34 1-22 3-23 6-22 9-23 14-56 49-26 29-15 22-6 11-7 23-2 22 2 23 9 26 10 19 24 36 12 20 10 22 12 34 10 23 12 19 11 12 16 14 15 11 93 63 67 43 18 17 33 45 11 12 13 11 15 9 12 5 27 8z"/>
<path fill="#da4d5e" d="M560 798l24 8 12 1 22 1 11-2 23-5 22-10 34-22 22-17 26-22 21-22 16-23 6-11 4-11 5-23 0-11-1-22-6-23-29-78-17-79-11-34-17-33-14-23-16-19-17-15-15-11-19-11-152-80-22-9-23-7-22-5-23-2-22 0-22 3-23 5-16 5-22 11-16 11-68 57-11 11-9 11-12 23-6 22-1 23 6 22 10 22 21 36 11 21 29 78 14 23 10 11 26 23 68 46 33 19 55 24 17 12 11 11 7 11 18 34 16 21 13 13 19 11z"/>
<path fill="#e55f58" d="M579 787l17 3 22 1 22-5 25-11 54-37 23-18 11-10 11-13 9-12 11-22 4-11 3-23-1-11-4-22-7-23-25-56-9-23-15-67-11-34-10-22-13-23-18-22-15-14-23-17-23-14-100-54-23-11-22-9-34-8-22-2-23 1-21 4-12 5-14 6-15 12-5 5-14 17-20 31-11 12-34 20-11 9-11 17-4 12-2 12 3 22 3 11 22 58 19 66 10 22 15 23 24 22 22 17 34 23 22 12 23 10 56 20 11 5 11 8 8 6 9 12 7 11 14 34 6 11 9 11 15 14 17 9z"/>
<path fill="#eb7559" d="M583 764l13 4 11 2 11-1 18-5 16-8 67-42 23-17 11-12 11-18 6-15 3-12 1-22-1-11-6-23-10-22-24-45-10-23-8-22-13-56-12-34-11-22-7-12-19-22-26-23-35-22-64-35-34-15-33-11-23-4-22 0-23 4-11 5-17 11-11 11-6 11-5 12-4 22 0 56-5 12-8 7-34 12-11 9-4 5-4 11-1 12 1 22 6 45 8 34 10 22 17 23 23 21 23 17 22 14 22 11 23 8 56 16 23 10 11 8 8 7 10 11 7 12 13 33 7 13 11 14 10 7z"/>
<path fill="#ef8c61" d="M602 719l5 3 11 1 67-18 23-8 11-6 11-8 12-12 5-8 6-11 3-12 2-22-1-11-6-23-11-22-33-56-12-23-8-22-17-68-8-22-13-23-19-22-27-23-30-18-45-25-34-15-22-7-23-4-22 0-11 2-12 4-13 7-11 11-7 12-4 11-2 11 0 23 14 56 0 11-3 11-7 8-5 3-40 16-10 7-8 11-5 11-2 23 2 22 5 23 5 11 13 22 10 12 12 11 23 17 22 14 23 9 78 21 18 6 16 9 21 14 13 11 11 11 23 30 6 4z"/>
<path fill="#f0a36f" d="M635 674l17 4 22 2 23-3 11-4 11-7 13-14 6-12 3-11 1-11-4-22-9-23-13-22-39-57-17-33-7-23-12-56-9-22-15-23-24-22-32-23-43-22-35-13-22-5-23 0-11 2-11 5-15 11-7 11-4 11-1 11 2 23 19 56 1 11-1 11-6 12-11 8-45 21-11 10-5 6-5 11-2 11 0 11 4 23 5 11 6 11 8 12 12 12 22 17 22 13 23 8 56 13 23 6 23 9 67 33 22 8 17 4z"/>
<path fill="#f0b981" d="M651 652l23 3 11-1 12-2 11-6 5-6 7-11 3-11-1-11-2-11-4-12-12-22-19-26-52-64-15-23-5-11-2-11 1-34 0-11-3-11-3-11-6-12-9-11-10-11-13-11-16-12-19-11-27-12-23-7-22-3-12 0-11 3-11 5-4 3-9 11-3 11-1 12 4 22 23 56 3 11-1 12-6 11-13 11-49 25-11 9-7 11-3 11 0 12 2 11 4 11 7 11 9 12 12 11 17 11 15 7 22 7 68 16 90 34 55 15z"/>
<path fill="#efce94" d="M605 618l35 8 23 3 11-1 11-4 8-6 5-11-1-11-3-12-9-16-12-17-21-24-23-22-22-19-56-37-13-11-5-11 7-11 24-23 7-11 2-8 0-14-4-12-6-11-11-11-14-11-18-12-14-6-16-5-18-3-11 1-12 3-12 10-4 12 0 11 2 11 4 11 10 20 12 17 15 19 7 12 1 11-10 11-19 11-49 23-17 11-8 11-4 12 1 11 4 11 8 11 11 12 15 9 11 5 22 7 57 14 67 23 32 9z"/>
<path fill="#eee4aa" d="M564 584l32 7 33 4 11-1 12-7 2-3-1-11-6-11-18-23-25-22-31-20-22-10-23-8-22-5-12 0-22 2-24 7-22 11-10 12-2 11 5 11 11 11 8 5 15 7 53 14 58 19zM498 371l8 1 11-3 11-9 1-12-5-11-12-11-18-8-11-2-11 3-6 7-2 11 5 11 3 5 11 11 11 6 4 1z"/>
<g fill="none" stroke="#fff" stroke-opacity="0.15" stroke-width="2.2">
<path d="M799 1000l42-45 47-45 22-26 12-19 12-22 14-34 12-34 8-33 5-23 10-79 2-33-4-135-5-34-7-22-10-23-12-22-22-34-49-62-67-95-21-23-13-12-22-16-23-13-90-43-33-12-68-14-22-6-17-7-17-9-39-25M0 514l10 48 7 22 10 23 15 22 18 23 23 22 74 69 79 86 34 32 22 18 34 23 90 56 33 19 23 9 22 6 59 8M296 0l-36 22-80 37-23 14-11 8-34 31-76 79-20 22-16 24"/>
<path d="M508 910l31 0 101-6 79 1 23-4 22-8 67-35 23-15 11-11 10-12 13-19 7-14 13-34 7-34 3-45-1-45-4-33-31-147-10-33-14-34-29-56-25-45-17-25-17-20-17-17-23-17-22-12-23-10-101-34-123-50-57-20-22-5-22-2-23 1-34 7-33 10-23 8-22 10-23 14-19 16-26 24-42 43-25 29-12 16-13 23-5 11-7 22-5 23-1 22 2 23 4 22 10 34 29 79 17 67 7 23 8 16 10 17 18 23 22 22 28 25 90 71 87 73 37 28 22 15 23 12 22 8 25 4z"/>
<path d="M532 843l30 6 22 1 23 0 45-4 22-5 23-7 22-10 11-6 62-43 29-22 11-11 11-14 11-21 9-33 3-22-1-34-6-34-19-67-15-68-10-33-14-34-14-30-14-26-15-23-16-20-12-11-18-14-15-8-23-10-72-27-29-13-56-31-23-11-22-10-34-11-45-10-33-3-23 1-22 2-34 8-23 9-11 6-25 19-65 62-14 16-17 23-12 22-4 11-3 12-4 22 0 11 2 23 7 26 13 30 37 67 30 79 10 18 11 14 23 19 56 33 25 17 26 23 66 67 26 23 29 22 16 11 21 11 31 12z"/>
<path d="M563 798l21 6 12 2 22 0 11-1 23-6 22-10 34-22 46-37 21-22 9-11 13-23 4-11 5-23 1-11-2-22-9-34-18-45-8-22-17-79-11-34-17-33-14-23-14-17-19-17-34-22-138-73-23-10-22-9-23-5-22-4-23-1-22 2-23 4-21 6-23 11-16 11-30 26-38 31-12 11-9 11-8 11-5 12-7 22 0 23 5 22 11 22 20 34 11 23 9 22 11 34 9 22 14 23 10 11 26 23 66 44 33 19 57 25 18 13 15 18 21 38 13 19 16 15 19 11z"/>
<path d="M600 708l7 5 11 2 11-1 56-11 23-8 11-6 17-15 9-11 6-11 4-12 1-11 1-11-2-11-6-23-11-22-34-56-11-23-8-22-14-57-7-22-11-22-7-12-19-22-27-23-17-11-32-19-45-22-34-11-23-4-11 0-22 3-12 3-11 7-11 10-7 11-4 11-2 11 0 11 3 23 12 45 1 11-3 11-11 13-11 5-23 8-14 8-11 11-5 11-3 12 0 22 3 23 8 22 11 19 12 15 22 19 21 15 22 11 13 5 22 6 48 11 31 12 19 11 17 11 13 11 30 31 4 3z"/>
<path d="M617 618l23 5 23 2 11-1 11-4 8-13 1-11-3-12-6-11-11-16-14-18-20-20-22-20-34-24-62-37-5-7-11-3-12 4-7 6-83 39-9 6-10 11-4 12 1 11 4 11 7 11 12 12 11 6 22 10 68 17 67 22 44 12zM496 416l10 10 11-3 7-7 15-9 12-9 14-16 4-11 0-11-4-12-6-11-11-11-20-15-13-8-21-7-22-4-11 1-12 4-7 6-4 7-2 5 0 11 2 11 10 23 13 19 22 26 13 11z"/>
</g></g>
<rect x="0" y="0" width="1000" height="1000" fill="none" stroke="#2a2a2a" stroke-width="2.4"/>
</g>
<text x="777.10" y="569.50" text-anchor="middle" class="st" textLength="74.98" lengthAdjust="spacingAndGlyphs">σ = 1.00</text>
<text x="552.40" y="1046.40" text-anchor="middle" class="tk" textLength="16.36" lengthAdjust="spacingAndGlyphs">−3</text>
<text x="541.90" y="1031.50" text-anchor="end" class="tk" textLength="16.36" lengthAdjust="spacingAndGlyphs">−3</text>
<text x="627.30" y="1046.40" text-anchor="middle" class="tk" textLength="16.36" lengthAdjust="spacingAndGlyphs">−2</text>
<text x="541.90" y="956.60" text-anchor="end" class="tk" textLength="16.36" lengthAdjust="spacingAndGlyphs">−2</text>
<text x="702.20" y="1046.40" text-anchor="middle" class="tk" textLength="16.36" lengthAdjust="spacingAndGlyphs">−1</text>
<text x="541.90" y="881.70" text-anchor="end" class="tk" textLength="16.36" lengthAdjust="spacingAndGlyphs">−1</text>
<text x="777.10" y="1046.40" text-anchor="middle" class="tk" textLength="7.06" lengthAdjust="spacingAndGlyphs">0</text>
<text x="541.90" y="806.80" text-anchor="end" class="tk" textLength="7.06" lengthAdjust="spacingAndGlyphs">0</text>
<text x="852.00" y="1046.40" text-anchor="middle" class="tk" textLength="7.06" lengthAdjust="spacingAndGlyphs">1</text>
<text x="541.90" y="731.90" text-anchor="end" class="tk" textLength="7.06" lengthAdjust="spacingAndGlyphs">1</text>
<text x="926.90" y="1046.40" text-anchor="middle" class="tk" textLength="7.06" lengthAdjust="spacingAndGlyphs">2</text>
<text x="541.90" y="657.00" text-anchor="end" class="tk" textLength="7.06" lengthAdjust="spacingAndGlyphs">2</text>
<text x="1001.80" y="1046.40" text-anchor="middle" class="tk" textLength="7.06" lengthAdjust="spacingAndGlyphs">3</text>
<text x="541.90" y="582.10" text-anchor="end" class="tk" textLength="7.06" lengthAdjust="spacingAndGlyphs">3</text>
<path d="M552.40 1027.40v4.90M552.40 1027.40h-4.90M627.30 1027.40v4.90M552.40 952.50h-4.90M702.20 1027.40v4.90M552.40 877.60h-4.90M777.10 1027.40v4.90M552.40 802.70h-4.90M852.00 1027.40v4.90M552.40 727.80h-4.90M926.90 1027.40v4.90M552.40 652.90h-4.90M1001.80 1027.40v4.90M552.40 578.00h-4.90" stroke="#3e3e3e" stroke-width="1.1"/>
<g transform="translate(1067.30 578.00) scale(0.449400)">
<g clip-path="url(#c)"><rect width="1000" height="1000" fill="#03030e"/>
<path fill="#0d0a27" d="M315 989l12 11 457 0 5-11 8-11 10-12 13-11 56-40 32-27 59-57 9-11 7-11 5-11 5-23 1-67 6-49 0-378-18-68-10-22-17-22-23-23-59-45-27-22-26-26-45-53-525 0-36 22-34 17-34 10-45 10-11 4-11 6-12 8-22 24-11 15-11 19-4 11-4 23 1 22 6 45-1 22-6 23-5 11-10 19 0 265 8 42 7 56 8 34 4 11 12 23 16 22 12 14 12 11 22 18 37 24 31 23 22 21 45 44 79 70z"/>
<path fill="#1c1143" d="M537 989l47 4 34 1 22-4 23-8 22-12 66-37 58-30 22-14 30-24 15-17 14-17 15-22 17-34 22-67 16-45 10-34 4-22 8-68 4-22 6-23 8-21 0-86-30-50-11-22-10-23-13-45-8-22-7-13-11-16-22-23-79-57-67-59-23-16-22-11-23-6-22-3-56-2-23-1-34-6-43-12-137 0-22 8-34 16-45 26-44 29-31 22-70 56-12 12-10 11-6 11-4 11-10 56-6 23-9 27-20 52-8 33-4 34 0 34 3 33 5 34 6 34 22 90 10 33 9 19 9 15 13 17 17 17 73 60 56 49 23 18 33 23 79 46 22 12 34 13 45 9 54 6z"/>
<path fill="#2d115e" d="M468 933l38 7 45 4 45-3 33-6 56-18 90-34 34-19 14-10 20-19 20-26 19-34 23-56 31-67 8-23 4-22 3-34 0-79 1-56-1-22-5-23-11-33-47-108-10-16-8-11-22-23-50-39-68-56-22-16-11-7-23-10-11-3-23-4-22-2-56-1-34-2-33-6-46-9-33-5-23-1-22 2-34 8-22 8-23 12-34 21-27 20-29 26-53 53-19 22-13 23-10 22-33 90-10 34-5 34-2 33-1 34 3 34 5 34 9 33 12 34 17 45 11 22 14 23 29 34 24 22 78 69 23 17 22 15 34 19 45 20 45 17 41 12z"/>
<path fill="#420f71" d="M516 910l35 2 45-4 56-13 56-17 45-15 34-16 22-17 19-21 8-11 13-23 31-67 32-56 9-23 5-22 3-23-1-22-9-79-5-56-4-23-9-33-14-34-22-39-27-40-29-33-46-45-44-38-34-24-22-10-11-4-34-7-101-4-101-13-34-1-22 2-23 6-22 8-23 13-34 23-33 28-34 32-29 34-16 23-18 33-19 45-12 34-9 33-5 34-3 45 1 34 4 33 9 34 13 34 28 55 21 35 18 22 20 23 74 67 24 19 23 16 22 12 23 10 33 12 56 18 34 9 33 5z"/>
<path fill="#561578" d="M478 876l28 6 33 3 34-2 45-7 56-13 56-17 33-15 18-11 17-14 15-19 13-23 27-56 41-68 9-22 4-22 0-23-2-22-14-68-11-79-9-33-10-23-12-22-14-23-35-45-40-45-41-36-34-25-22-13-23-9-22-6-34-3-78-3-90-6-34 0-22 3-23 6-22 9-34 20-34 25-22 19-23 22-22 28-18 26-18 33-15 34-12 34-6 22-6 34-3 34 0 33 3 34 7 32 9 24 17 34 31 51 19 28 19 22 57 56 39 34 23 16 22 12 23 9 22 8 85 22z"/>
<path fill="#691d7a" d="M487 854l30 4 22 1 34-1 34-4 45-9 45-13 33-11 24-12 21-16 12-13 11-16 36-67 36-57 11-22 5-22 0-12-2-22-18-68-4-22-5-56-5-23-11-33-17-34-24-34-28-34-30-31-34-29-34-24-22-12-23-10-33-8-23-2-34-1-112 1-45 2-22 4-23 6-22 9-23 12-34 22-22 18-23 24-23 31-21 36-21 42-13 39-8 40-4 45 0 34 5 33 7 23 11 25 23 38 25 38 26 34 31 33 45 45 19 17 24 17 22 11 32 12 45 12 49 10z"/>
<path fill="#7c247b" d="M487 831l30 4 34 0 22-1 34-4 45-10 40-11 27-10 23-12 15-12 10-11 8-11 32-56 36-53 9-15 5-11 5-22 0-12-3-22-14-45-5-23-2-22-3-45-5-34-11-33-18-34-25-34-23-26-23-22-33-27-34-23-23-12-22-9-34-8-22-2-34 0-135 10-22 3-23 4-22 8-23 10-22 13-23 15-22 22-18 22-22 33-18 34-15 34-10 33-7 34-3 34 1 34 6 33 8 23 11 22 22 36 31 43 28 34 41 45 24 23 22 19 22 14 23 10 22 8 34 7 49 8z"/>
<path fill="#8e2a79" d="M471 809l35 3 33 1 23-1 34-4 33-7 45-13 23-8 22-10 11-8 12-10 17-22 28-45 33-49 10-18 3-11 2-11 1-12-4-22-10-34-4-22-2-23-2-56-3-23-8-33-10-23-7-11-15-22-19-23-22-21-33-28-34-23-32-18-24-9-23-6-22-2-23 0-78 10-90 8-23 5-22 7-34 16-22 16-13 11-19 23-16 22-19 34-16 34-8 22-9 34-5 34-1 22 3 34 5 22 9 23 12 22 23 34 33 45 37 45 29 31 22 21 20 15 25 13 22 8 34 8 33 5z"/>
<path fill="#a23176" d="M441 787l31 3 45 3 34-1 22-2 34-7 25-8 34-11 26-11 16-9 11-9 11-11 12-14 45-70 12-22 4-11 2-11 0-23-9-67-3-90-7-34-8-22-6-12-15-22-15-18-16-16-18-15-34-23-34-20-22-12-22-8-23-5-34 0-78 11-79 6-34 7-22 8-11 5-21 12-15 12-21 22-11 15-19 30-12 23-10 22-12 34-7 33-2 23 0 22 3 23 6 22 10 23 13 22 14 23 33 45 35 45 20 22 23 23 18 14 22 13 22 9 37 9z"/>
<path fill="#b63870" d="M417 764l32 6 34 4 34 0 34-1 22-4 23-5 33-12 34-13 17-9 17-10 11-10 13-13 16-23 14-22 13-23 9-22 3-11 3-23-2-135-2-22-4-23-7-19-7-14-14-23-13-14-11-11-22-17-23-15-34-18-22-11-22-9-23-6-11-1-23 0-67 8-90 7-22 4-23 8-17 8-17 10-14 12-19 21-18 24-13 23-11 22-9 22-6 23-5 22-3 23 0 22 3 23 3 11 9 23 11 22 21 34 33 45 26 33 26 30 17 15 17 13 22 13 24 8z"/>
<path fill="#c94067" d="M445 753l27 3 34 1 22 0 23-3 22-4 23-7 22-9 34-15 21-11 12-9 12-10 13-15 16-22 12-23 14-33 5-23 2-22 2-57 0-45-2-22-4-23-7-22-5-11-13-20-11-13-22-19-23-14-22-11-56-22-34-8-23-1-22 1-113 6-33 6-23 7-19 9-14 9-16 14-18 18-12 15-13 23-11 22-8 23-6 22-5 23-1 22 1 23 5 22 3 11 10 23 13 22 31 45 33 45 19 23 20 18 22 16 20 11 25 7 18 4z"/>
<path fill="#da4d5e" d="M420 730l18 5 23 3 45 2 33-2 34-7 23-8 22-10 22-11 23-13 22-19 12-12 11-16 7-13 11-22 8-23 5-22 3-23 3-33 0-57-4-33-7-23-5-11-10-16-11-13-23-19-22-12-23-10-33-10-34-8-34-4-33-2-45 0-34 2-23 3-22 4-22 7-23 11-17 11-17 14-11 13-11 15-9 14-10 22-7 23-8 34-3 22 1 23 2 11 6 22 10 23 18 30 34 48 26 34 19 20 22 18 22 13 16 5z"/>
<path fill="#e55f58" d="M451 719l43 4 34-1 23-4 32-10 46-23 23-14 23-19 10-13 12-17 8-15 9-23 10-33 3-23 3-34 0-45-6-33-9-23-7-12-11-14-12-10-11-8-11-7-23-9-22-6-34-7-101-10-34-1-22 2-23 4-22 6-22 9-14 7-17 11-14 13-12 12-11 17-7 14-8 23-9 34-3 22 0 23 2 11 6 22 8 19 15 26 31 45 21 29 23 24 18 15 15 9 23 8 24 5z"/>
<path fill="#eb7559" d="M437 697l35 5 34 2 22-2 27-5 29-12 45-26 25-19 20-21 11-18 9-17 12-33 6-34 3-45-3-34-5-22-11-23-11-13-11-10-22-13-12-5-22-6-22-3-57-5-56-6-34-1-22 3-14 3-20 7-22 10-12 6-17 11-12 11-10 11-7 11-10 23-11 45-3 22 0 12 3 22 3 11 10 23 14 22 29 43 23 28 20 19 13 10 12 5 21 8z"/>
<path fill="#ef8c61" d="M447 674l25 5 22 1 23-1 25-5 25-11 62-38 23-18 11-13 13-21 9-22 4-12 7-33 2-34-1-23-2-11-8-22-6-12-7-9-11-10-11-8-12-5-11-4-22-4-68-3-56-6-22 0-28 5-28 11-19 11-15 11-12 11-9 12-6 11-7 18-13 49-2 23 4 22 10 23 13 22 23 34 18 22 12 12 14 10 11 5 20 7z"/>
<path fill="#f0a36f" d="M440 629l21 9 11 2 11 0 11-1 12-2 11-5 34-18 67-23 11-7 14-11 10-11 12-23 9-28 4-28 0-22-4-23-4-11-6-11-10-12-17-11-19-6-11-2-23-2-78-1-23 0-22 5-13 6-14 11-7 12-6 11-17 48-12 31-7 22 0 11 1 12 3 11 4 11 11 20 10 14 11 11 15 11z"/>
<path fill="#f0b981" d="M478 573l16 4 23 1 22-1 23-3 34-8 11-4 17-11 11-12 7-11 5-11 6-23 1-22-2-21-5-13-7-11-14-11-19-8-23-4-22-1-34 0-22 3-12 4-11 5-11 9-11 14-9 23-9 33-2 23 1 11 2 11 5 12 12 13 11 7 6 2z"/>
<path fill="#efce94" d="M519 551l20 2 12 0 22-4 11-4 12-6 13-11 8-11 6-11 3-12 1-11-1-11-2-11-6-12-10-11-12-7-12-4-22-4-23 0-21 4-12 5-12 8-8 9-6 12-7 22-1 11 1 12 3 11 5 11 11 11 14 8 13 4z"/>
<path fill="#eee4aa" d="M528 528l11 2 12 1 11-2 11-4 12-8 8-11 4-12 1-11-2-12-7-10-5-5-11-7-11-3-11-1-12 0-14 4-8 5-7 7-8 11-3 11 0 11 3 12 7 11 8 6 11 5z"/>
<g fill="none" stroke="#fff" stroke-opacity="0.15" stroke-width="2.2">
<path d="M487 933l41 6 34 0 34-3 44-9 68-22 67-26 34-19 22-17 11-12 17-22 13-22 11-23 18-45 27-56 13-34 5-22 3-34-2-135-2-22-4-23-11-33-42-94-17-30-17-20-15-14-97-80-34-26-23-12-11-5-11-3-23-5-22-1-79-3-33-4-79-15-34-2-22 2-23 4-33 12-34 18-28 19-40 32-37 36-31 33-17 23-12 22-15 38-23 63-10 34-6 34-2 33 0 45 3 34 7 34 10 34 17 44 15 34 13 23 16 22 32 34 97 85 22 16 23 14 33 18 45 18 56 19 38 10z"/>
<path d="M457 843l37 7 34 3 23 0 33-2 34-5 45-10 45-13 34-14 22-14 11-11 12-14 10-17 30-56 38-57 10-22 3-11 2-11 0-23-5-22-15-57-4-22-5-56-4-23-11-33-18-34-15-23-28-34-22-24-34-31-34-26-22-14-23-11-33-11-23-4-33-2-158 5-22 2-23 5-22 7-23 11-33 20-23 17-22 21-20 24-25 39-21 40-14 34-9 33-6 34-3 45 2 34 4 22 7 23 16 34 24 37 22 32 25 32 42 45 34 33 28 23 29 17 22 9 34 10 41 9z"/>
<path d="M417 775l32 7 34 3 34 1 34-1 22-3 34-8 33-10 34-13 19-9 15-10 11-10 11-12 18-25 28-45 12-22 4-11 2-11 1-23-6-67-1-79-5-34-8-22-4-11-14-23-15-20-14-14-20-16-34-23-34-20-22-12-22-8-23-5-11-1-23 0-78 11-79 6-34 7-22 8-17 8-17 12-12 11-22 24-14 21-19 32-11 24-8 22-7 23-4 22-3 23 1 22 3 23 2 11 8 23 12 22 21 34 24 33 35 45 29 34 21 20 23 17 22 11 24 8z"/>
<path d="M469 730l37 2 33-2 34-8 34-14 43-23 24-18 11-11 12-14 14-24 14-34 5-22 4-23 4-33 1-34-1-23-3-22-5-19-5-15-13-22-10-11-12-12-16-10-11-6-23-10-22-6-34-8-33-5-45-3-34-2-34 1-22 2-23 5-28 9-17 7-22 13-11 9-15 16-9 11-13 22-9 23-10 33-4 23-1 22 2 23 3 11 8 23 12 22 21 34 33 45 18 22 20 20 22 16 23 10 22 6 31 4z"/>
<path d="M442 652l19 5 22 3 23-1 22-5 11-5 34-21 56-27 11-9 12-11 11-15 13-27 8-33 3-34-2-23-6-22-5-11-8-12-12-11-14-8-7-3-26-6-113-5-22 0-23 5-16 6-16 11-11 11-8 12-6 11-32 78-3 12-1 11 1 11 3 12 10 22 23 38 11 14 12 11 11 8 15 8z"/>
<path d="M511 528l17 7 11 2 12 0 11-2 11-3 11-6 12-10 6-10 4-12 0-11-1-11-6-11-10-12-5-2-11-5-11-3-23-1-11 3-11 5-6 3-11 12-5 11-3 11-1 11 2 12 6 11 12 11z"/>
</g></g>
<rect x="0" y="0" width="1000" height="1000" fill="none" stroke="#2a2a2a" stroke-width="2.4"/>
</g>
<text x="1292.00" y="569.50" text-anchor="middle" class="st" textLength="74.98" lengthAdjust="spacingAndGlyphs">σ = 2.15</text>
<text x="1125.13" y="1046.40" text-anchor="middle" class="tk" textLength="16.36" lengthAdjust="spacingAndGlyphs">−4</text>
<text x="1056.80" y="973.67" text-anchor="end" class="tk" textLength="16.36" lengthAdjust="spacingAndGlyphs">−4</text>
<text x="1208.56" y="1046.40" text-anchor="middle" class="tk" textLength="16.36" lengthAdjust="spacingAndGlyphs">−2</text>
<text x="1056.80" y="890.24" text-anchor="end" class="tk" textLength="16.36" lengthAdjust="spacingAndGlyphs">−2</text>
<text x="1292.00" y="1046.40" text-anchor="middle" class="tk" textLength="7.06" lengthAdjust="spacingAndGlyphs">0</text>
<text x="1056.80" y="806.80" text-anchor="end" class="tk" textLength="7.06" lengthAdjust="spacingAndGlyphs">0</text>
<text x="1375.44" y="1046.40" text-anchor="middle" class="tk" textLength="7.06" lengthAdjust="spacingAndGlyphs">2</text>
<text x="1056.80" y="723.36" text-anchor="end" class="tk" textLength="7.06" lengthAdjust="spacingAndGlyphs">2</text>
<text x="1458.87" y="1046.40" text-anchor="middle" class="tk" textLength="7.06" lengthAdjust="spacingAndGlyphs">4</text>
<text x="1056.80" y="639.93" text-anchor="end" class="tk" textLength="7.06" lengthAdjust="spacingAndGlyphs">4</text>
<path d="M1125.13 1027.40v4.90M1067.30 969.57h-4.90M1208.56 1027.40v4.90M1067.30 886.14h-4.90M1292.00 1027.40v4.90M1067.30 802.70h-4.90M1375.44 1027.40v4.90M1067.30 719.26h-4.90M1458.87 1027.40v4.90M1067.30 635.83h-4.90" stroke="#3e3e3e" stroke-width="1.1"/>
<g transform="translate(1582.20 578.00) scale(0.449400)">
<g clip-path="url(#c)"><rect width="1000" height="1000" fill="#03030e"/>
<path fill="#0d0a27" d="M304 989l16 11 380 0 42-32 56-31 23-16 22-22 22-28 11-10 34-23 7-7 6-11 1-11-5-11-9-8-22-9-12-10-6-18 0-11 2-12 4-11 6-11 19-23 12-11 42-34 13-11 10-11 11-17 11-25 0-122-19-27-6-11-3-12-4-22-4-56-7-34-7-22-6-12-12-22-27-34-51-55-34-34-45-37-45-42-16-12-17-8-12-3-22-4-79-2-31-5-199 0-33 22-29 18-32 16-75 34-18 11-10 8-13 15-20 27-15 18-42 36-19 20-16 22-17 34-8 22-7 31 0 309 22 45 12 26 19 61 8 23 13 22 18 23 54 57 23 19 11 8 22 12 43 16 23 11 36 23z"/>
<path fill="#1c1143" d="M501 978l27 7 23 2 56-2 22-4 11-3 12-4 22-13 56-40 27-22 10-11 8-12 6-11 9-22 6-23 10-67 7-23 7-18 11-20 12-16 61-69 17-23 7-11 9-22 4-23 0-11-5-23-19-45-6-22-1-23 3-33 0-23-1-11-6-22-16-34-27-45-23-34-20-22-22-21-23-18-89-62-23-12-34-8-93-14-75-18-23-2-22 3-12 4-22 10-64 37-60 32-22 14-14 10-20 17-87 95-18 23-12 22-29 70-11 35-7 30-4 22-1 23 5 34 16 56 10 45 9 33 43 124 11 23 6 11 18 22 18 18 11 9 22 13 79 31 90 46 33 12 57 14 40 15z"/>
<path fill="#2d115e" d="M486 921l31 6 34 4 45 0 33-2 23-6 33-14 23-13 11-8 11-11 10-12 7-11 10-23 19-78 7-23 10-22 13-23 14-21 43-57 7-11 12-23 8-22 2-12 0-22-4-23-13-45-4-22-1-23 0-44-1-12-5-22-14-34-24-45-15-22-20-23-27-22-34-21-67-33-56-23-45-13-34-7-45-4-45 0-22 3-23 7-33 15-45 25-45 26-23 15-22 18-23 23-19 25-12 22-10 23-15 44-5 12-6 11-28 45-11 23-4 11-5 22-2 12 0 22 5 34 19 90 37 123 8 23 5 11 10 16 11 13 11 11 11 8 23 12 76 30 81 38 22 9 23 7 59 13z"/>
<path fill="#420f71" d="M505 888l23 3 34 2 45-2 33-4 23-5 14-6 19-11 12-10 11-15 10-20 22-67 9-23 15-32 23-38 37-53 13-23 8-22 3-11 3-23-3-34-14-67-6-67-4-23-7-22-16-34-13-23-17-22-18-18-22-17-23-13-34-16-101-40-22-8-23-5-33-3-34 2-45 6-23 5-33 12-23 10-45 26-33 22-23 17-18 20-14 22-9 23-15 41-7 15-44 79-9 22-3 11-3 12-1 22 2 34 7 34 10 45 33 123 7 23 6 11 13 18 19 16 21 11 61 23 90 37 45 15 67 15z"/>
<path fill="#561578" d="M490 854l27 5 34 4 22 0 34-3 22-3 23-5 19-9 14-11 10-12 6-11 31-67 30-57 20-33 30-45 12-23 5-11 7-22 3-23-2-34-23-146-7-22-10-23-12-22-16-23-16-17-20-16-25-16-23-11-33-14-90-33-23-5-22-3-23 0-45 7-45 9-22 7-22 10-34 19-34 22-22 18-12 12-16 23-37 78-38 68-5 11-8 22-2 12-2 22 1 23 4 22 33 124 14 56 8 22 7 12 9 11 13 11 19 12 102 42 22 8 34 10 74 18z"/>
<path fill="#691d7a" d="M510 831l18 4 23 1 22 0 23-2 22-5 22-7 12-6 11-8 11-12 11-16 117-196 7-15 6-18 2-12 2-22-1-23-3-22-15-90-7-34-8-22-10-21-11-18-13-17-21-20-18-14-27-15-22-11-56-21-45-16-34-7-22-1-23 2-45 7-34 8-22 8-22 11-23 13-22 15-23 18-21 23-13 18-64 116-11 23-7 22-3 12-2 22 2 23 4 22 25 82 21 75 8 23 5 9 11 16 11 11 23 14 56 27 34 15 22 7 23 6 94 18z"/>
<path fill="#7c247b" d="M516 809l23 3 23 0 22-3 23-6 22-9 11-7 23-21 22-27 23-32 22-36 50-87 7-13 7-20 5-23 1-22-1-23-3-22-12-68-7-33-8-23-11-22-16-23-9-11-14-13-22-17-23-13-27-13-40-16-45-15-34-7-22-2-23 2-34 5-33 8-23 8-22 11-23 13-22 16-23 19-13 14-20 27-23 37-33 59-11 23-8 22-4 23 0 11 2 23 5 22 43 135 14 34 7 11 9 11 21 18 25 16 31 17 34 14 34 9 100 16z"/>
<path fill="#8e2a79" d="M506 787l22 2 23 0 22-3 23-6 22-11 11-7 12-9 22-21 22-27 22-31 20-34 31-56 10-22 7-21 3-13 2-22-1-23-4-31-11-59-5-22-8-23-9-20-12-16-11-13-20-18-15-11-21-13-45-21-34-13-33-11-23-5-22-1-23 1-34 6-22 6-23 8-18 9-19 11-30 23-22 20-23 24-11 15-23 34-22 40-12 24-8 22-3 14-1 20 1 12 5 22 26 90 11 33 9 23 12 22 17 23 22 19 20 15 25 14 22 10 34 9 90 12z"/>
<path fill="#a23176" d="M473 764l44 4 22 1 23-2 11-3 23-9 11-6 11-7 22-19 23-23 20-26 15-22 20-34 16-34 14-33 6-23 2-22-1-23-2-20-11-62-5-19-7-20-7-14-15-21-11-11-23-15-45-23-53-31-25-10-12-4-22-4-11-1-23 1-22 4-23 7-17 7-19 11-15 12-66 56-18 18-11 14-22 35-12 25-7 20-4 11-3 23 1 22 9 68 9 45 7 22 9 23 13 22 8 11 15 17 22 19 23 16 22 11 13 5 21 5 57 6z"/>
<path fill="#b63870" d="M417 742l21 2 68 5 33 1 23-4 11-3 23-11 22-17 19-18 19-23 18-23 21-33 12-22 9-23 7-22 3-23 1-11-3-34-16-79-8-22-6-11-9-11-11-10-11-8-50-27-62-45-12-6-22-7-11-2-23 1-22 6-16 8-18 12-67 58-21 20-9 11-12 22-6 23-9 53-18 48-7 22-1 12-1 22 2 23 2 11 7 22 5 11 13 23 21 25 21 20 13 9 22 13 22 9 13 3z"/>
<path fill="#c94067" d="M468 730l49 2 26-2 19-4 11-5 23-14 12-10 21-23 27-34 18-25 11-19 10-23 5-22 2-12-1-33-10-57-10-33-4-12-5-11-8-11-9-11-15-13-22-16-56-36-11-7-23-11-22-5-12 0-11 1-11 4-23 11-67 52-20 20-9 11-12 22-3 12-13 56-10 33-15 34-3 12-4 22 1 23 2 11 8 22 11 20 10 14 23 25 27 20 18 10 11 4 23 5 41 3z"/>
<path fill="#da4d5e" d="M415 708l12 3 22 2 68 2 22-3 12-3 22-10 11-8 19-17 20-22 27-34 13-19 8-15 8-22 3-11 1-23-2-34-12-56-12-34-16-22-11-11-14-11-20-15-34-21-11-6-23-10-22-4-12 1-11 2-11 3-23 12-33 23-23 17-19 20-9 11-11 23-7 22-10 45-23 68-5 22 0 23 6 22 11 22 18 23 25 22 24 15 22 8z"/>
<path fill="#e55f58" d="M443 697l40 1 34-1 22-5 23-9 13-9 21-19 41-48 15-22 6-12 7-22 2-12 1-22-3-34-10-45-8-22-6-12-8-11-15-16-11-9-23-16-33-19-23-9-11-2-11-1-12 1-11 2-22 9-23 13-22 16-23 18-11 13-11 17-8 17-6 22-11 45-21 68-2 22 3 23 10 22 12 18 23 21 22 15 23 9 27 5z"/>
<path fill="#eb7559" d="M413 674l25 6 23 2 22-1 34-3 22-6 12-5 22-15 34-33 20-23 7-12 12-22 4-11 4-23-1-34-3-22-4-23-8-22-5-11-15-23-22-20-23-16-22-11-12-5-22-5-11-1-23 4-22 9-34 21-23 17-16 18-12 23-8 22-13 57-16 56-2 22 1 12 3 11 4 11 7 11 9 11 21 19 11 7 20 8z"/>
<path fill="#ef8c61" d="M433 663l28 2 33-3 34-7 23-10 22-16 34-33 17-23 11-22 6-23 0-34-4-33-6-23-5-11-13-23-17-18-23-16-22-12-12-5-22-5-11 0-12 2-22 7-23 11-22 15-23 19-11 15-11 24-6 20-10 45-14 56-1 22 1 12 4 11 6 11 8 11 12 11 22 14 12 5 17 4z"/>
<path fill="#f0a36f" d="M413 640l14 5 11 2 23 0 33-4 34-9 23-11 22-15 23-21 11-13 8-12 10-23 4-22 0-34-6-34-9-22-6-11-9-12-15-14-22-14-23-10-22-5-11 0-23 5-22 11-28 16-17 15-15 19-10 22-6 23-17 79-3 22 1 11 5 18 10 16 12 12 20 10z"/>
<path fill="#f0b981" d="M408 618l19 8 22 2 34-3 34-9 22-8 23-13 22-19 13-14 7-11 6-12 6-22 2-23-2-22-5-23-4-11-6-11-7-11-10-11-11-9-22-13-23-7-11-1-11 1-12 2-22 9-23 12-22 16-11 13-12 19-4 14-7 30-12 71 0 11 2 11 4 12 7 11 14 11z"/>
<path fill="#efce94" d="M417 596l10 5 11 3 11 0 23-2 45-9 22-8 12-6 11-6 11-9 11-12 12-19 5-16 2-11 1-23-3-22-5-16-10-18-13-14-11-9-23-10-11-2-11 0-11 1-23 7-29 16-16 11-11 11-11 22-4 12-7 45-4 34 0 11 1 11 2 7 3 4 10 12z"/>
<path fill="#eee4aa" d="M447 562l14 3 11 0 34-1 22-3 23-9 11-7 11-12 9-16 3-11 2-12-1-22-2-11-5-12-6-11-11-11-11-7-12-4-11-1-11 1-27 11-29 17-12 8-6 9-6 11-5 22-2 23 2 22 4 12 2 4 9 7z"/>
<g fill="none" stroke="#fff" stroke-opacity="0.15" stroke-width="2.2">
<path d="M499 921l29 5 34 2 45 0 22-2 34-9 22-10 23-13 20-18 9-11 8-11 10-23 19-78 8-23 10-22 19-34 50-67 19-34 4-11 5-23 1-22-4-23-10-33-6-34-2-23 0-44-1-12-5-22-14-34-24-45-16-22-20-23-13-11-22-16-34-19-56-27-34-15-33-12-34-10-34-7-45-3-45 0-22 3-23 7-33 15-34 18-45 26-34 22-22 18-22 22-17 23-12 22-9 23-11 34-10 22-33 56-11 23-5 11-5 22-2 12 0 22 7 45 14 68 9 33 17 53 13 48 8 23 12 22 12 15 11 11 11 8 23 12 81 33 87 40 34 12 72 15z"/>
<path d="M528 831l23 2 22 0 23-3 22-4 22-8 15-9 12-11 10-11 20-30 103-173 9-22 3-11 4-23 1-22-4-34-13-79-9-45-8-22-11-23-15-22-10-11-17-17-22-17-23-13-22-10-45-18-56-19-34-7-22-1-34 3-34 6-34 8-22 8-22 11-34 20-23 17-19 17-14 18-12 16-67 124-10 22-6 23-1 11 0 22 3 23 6 22 47 158 11 22 8 11 9 10 19 13 21 11 50 24 34 13 45 12 101 18z"/>
<path d="M505 764l23 2 23-1 22-5 11-4 23-11 11-8 21-18 13-12 18-22 16-22 21-34 18-33 14-34 7-23 4-22 1-23-4-33-16-79-3-11-9-19-11-16-11-11-12-9-22-12-34-17-45-29-21-11-24-9-11-3-22-3-12 0-22 3-23 6-16 6-20 11-16 12-82 71-12 13-12 17-10 17-11 23-10 27-3 11-2 12-1 22 4 79 3 22 5 23 7 22 10 23 13 22 18 23 23 20 18 13 16 10 22 9 34 8 78 7z"/>
<path d="M435 708l48 3 45-2 23-5 22-10 11-9 23-22 29-34 16-21 14-24 5-11 6-22 2-12 0-22-2-23-6-33-5-23-8-22-12-23-9-11-12-11-18-15-23-15-33-19-23-9-11-3-11-1-12 0-11 2-22 9-23 14-34 24-15 13-11 11-15 22-9 23-17 67-16 45-7 23-2 22 3 23 9 22 14 23 22 21 22 17 22 11 12 3 19 4z"/>
<path d="M411 652l16 5 11 2 34 0 34-4 22-6 11-5 23-13 22-18 27-29 15-22 8-23 3-11 1-22-3-34-8-34-10-22-10-14-21-20-24-15-23-10-22-5-11 0-23 5-22 9-34 21-20 17-9 12-6 11-10 24-24 100-3 22 0 11 2 12 4 11 10 16 11 12 8 5 21 12z"/>
<path d="M422 584l5 4 11 4 11 1 23-2 34-6 33-9 23-13 11-9 12-15 10-22 2-11 1-23-2-22-4-12-8-14-11-14-11-9-13-8-10-3-11-2-11 0-23 5-22 11-21 12-14 11-9 11-5 12-7 22-3 23-3 33 1 23 3 11 8 11z"/>
</g></g>
<rect x="0" y="0" width="1000" height="1000" fill="none" stroke="#2a2a2a" stroke-width="2.4"/>
</g>
<text x="1806.90" y="569.50" text-anchor="middle" class="st" textLength="74.98" lengthAdjust="spacingAndGlyphs">σ = 4.64</text>
<text x="1613.26" y="1046.40" text-anchor="middle" class="tk" textLength="23.42" lengthAdjust="spacingAndGlyphs">−10</text>
<text x="1571.70" y="1000.44" text-anchor="end" class="tk" textLength="23.42" lengthAdjust="spacingAndGlyphs">−10</text>
<text x="1710.08" y="1046.40" text-anchor="middle" class="tk" textLength="16.36" lengthAdjust="spacingAndGlyphs">−5</text>
<text x="1571.70" y="903.62" text-anchor="end" class="tk" textLength="16.36" lengthAdjust="spacingAndGlyphs">−5</text>
<text x="1806.90" y="1046.40" text-anchor="middle" class="tk" textLength="7.06" lengthAdjust="spacingAndGlyphs">0</text>
<text x="1571.70" y="806.80" text-anchor="end" class="tk" textLength="7.06" lengthAdjust="spacingAndGlyphs">0</text>
<text x="1903.72" y="1046.40" text-anchor="middle" class="tk" textLength="7.06" lengthAdjust="spacingAndGlyphs">5</text>
<text x="1571.70" y="709.98" text-anchor="end" class="tk" textLength="7.06" lengthAdjust="spacingAndGlyphs">5</text>
<text x="2000.54" y="1046.40" text-anchor="middle" class="tk" textLength="14.12" lengthAdjust="spacingAndGlyphs">10</text>
<text x="1571.70" y="613.16" text-anchor="end" class="tk" textLength="14.12" lengthAdjust="spacingAndGlyphs">10</text>
<path d="M1613.26 1027.40v4.90M1582.20 996.34h-4.90M1710.08 1027.40v4.90M1582.20 899.52h-4.90M1806.90 1027.40v4.90M1582.20 802.70h-4.90M1903.72 1027.40v4.90M1582.20 705.88h-4.90M2000.54 1027.40v4.90M1582.20 609.06h-4.90" stroke="#3e3e3e" stroke-width="1.1"/>
<g transform="translate(2097.10 578.00) scale(0.449400)">
<g clip-path="url(#c)"><rect width="1000" height="1000" fill="#03030e"/>
<path fill="#0d0a27" d="M302 989l32 11 259 0 59-28 67-35 23-16 39-33 17-12 56-28 22-15 34-27 32-31 41-45 16-22 1-3 0-68-13-41-4-34 0-11 3-23 14-46 0-106-36-106-17-68-6-11-11-11-31-26-56-50-56-43-34-19-11-5-23-5-22 0-57 5-33-2-23-4-22-5-56-19-28-7-72 0-24 6-67 26-23 6-45 8-22 7-12 4-17 10-13 12-10 11-7 11-9 23-10 45-9 22-52 79-37 67-23 45-26 55 1 226 16 34 19 33 24 34 30 34 22 23 23 16 22 12 34 16 18 11 10 12 6 10 10 35 5 11 8 11 12 11 10 7 32 16z"/>
<path fill="#1c1143" d="M416 978l33 8 23 2 11-1 23-7 112-61 75-54 37-24 39-21 62-26 23-11 22-15 18-15 19-23 14-22 10-23 5-22 2-11 0-23-6-56-1-22 2-23 9-56 2-23-1-22-4-34-7-33-8-23-11-22-38-57-6-11-17-45-11-22-16-23-11-11-11-10-22-15-23-11-22-10-23-7-22-5-90-11-46-10-100-25-23-3-11 0-23 2-11 3-22 8-56 31-57 28-11 7-6 6-9 11-18 34-8 11-20 22-29 31-20 25-14 23-15 34-58 146-9 33-5 23-3 34-1 22 1 23 3 22 5 22 9 23 11 22 14 23 26 31 34 30 34 22 33 16 56 21 12 5 14 10 10 11 5 11 2 11 3 34 3 11 6 12 13 13 15 9 19 8 56 15z"/>
<path fill="#2d115e" d="M436 933l25 0 22-2 11-3 45-16 45-20 23-12 33-22 113-78 22-11 45-18 20-9 14-9 16-14 10-11 13-23 8-22 4-23 1-22-6-56 0-23 5-67 0-23-1-22-5-34-6-22-9-23-8-13-36-54-31-55-11-15-11-11-34-21-56-40-12-6-22-9-42-12-115-24-57-14-22-3-23 1-11 3-22 11-23 15-41 34-57 56-59 47-20 20-9 12-14 22-10 23-20 56-34 90-6 22-4 23-2 22-1 34 1 22 3 23 9 33 6 15 10 19 12 17 12 13 16 15 14 11 37 25 34 18 67 31 28 16 14 11 9 12 7 11 15 45 8 11 9 7 11 6 23 6 20 4z"/>
<path fill="#420f71" d="M424 876l14 7 23 4 22-1 23-4 33-10 34-13 34-16 33-18 34-23 49-38 19-13 22-12 56-26 23-16 11-12 7-11 5-11 7-23 1-22-1-22-7-68-3-79-4-33-5-23-7-22-16-34-22-35-22-30-14-14-43-38-45-42-22-16-23-11-33-12-34-8-79-14-56-13-22-2-12 2-11 3-11 5-22 15-23 19-63 56-61 47-21 21-9 11-8 11-11 23-52 134-9 34-4 23-1 22 1 23 4 22 10 34 9 22 12 23 12 17 14 16 11 12 26 22 39 27 22 13 75 39 18 11 16 11 12 11 25 29 12 11 8 5z"/>
<path fill="#561578" d="M449 843l12 4 22 2 11-1 23-4 34-10 45-15 22-9 22-12 23-15 45-36 22-16 66-34 13-9 11-9 14-16 6-11 4-12 4-22 0-22-17-147-6-33-6-23-11-33-17-34-14-23-19-22-61-59-23-20-22-16-23-11-33-12-34-7-79-11-45-7-22-1-12 1-11 3-11 5-11 6-23 16-114 90-21 20-11 14-7 11-12 23-49 123-7 23-5 22-1 34 3 23 6 22 10 23 12 22 13 22 15 23 19 22 12 12 26 22 32 23 107 56 51 33 22 12z"/>
<path fill="#691d7a" d="M450 809l22 6 11 1 11 0 23-2 67-16 23-7 22-11 23-14 45-35 18-12 60-33 23-16 11-12 11-18 4-11 3-11 1-22-2-23-20-124-7-33-9-34-12-34-12-22-16-23-20-22-34-34-33-28-23-15-22-10-34-9-45-7-67-8-45-3-23 2-11 3-22 9-23 13-33 23-41 30-25 23-21 22-8 11-13 23-49 112-8 23-6 22-3 23 0 11 2 22 3 12 9 22 12 23 34 56 18 22 22 23 29 23 35 22 32 15 113 52z"/>
<path fill="#7c247b" d="M472 787l11 1 23 0 22-2 34-5 34-8 21-9 12-6 68-47 65-37 13-9 12-10 11-15 6-11 5-22 0-23-3-22-21-113-10-45-10-33-9-23-12-22-17-23-20-22-22-22-22-19-23-14-22-10-34-9-78-12-45-4-34 0-23 3-11 2-22 8-23 12-33 21-23 17-18 16-22 22-15 23-12 21-33 68-14 34-9 23-6 22-2 23 0 11 3 22 9 23 31 56 14 22 17 23 12 14 21 20 15 11 20 13 45 22 90 34 34 10z"/>
<path fill="#8e2a79" d="M494 764l23 0 34-3 33-6 23-8 22-12 59-38 61-34 16-11 11-12 8-11 4-11 3-11 1-11-1-23-25-124-11-45-10-33-9-23-13-22-17-23-21-22-12-11-21-17-23-13-22-8-23-4-101-16-34-2-22 1-34 7-22 8-23 11-22 13-23 16-16 15-10 11-9 11-15 23-40 77-11 24-12 34-6 22-3 23 1 11 1 11 7 23 11 22 26 45 23 34 20 22 13 11 34 23 22 11 27 11 83 26 23 5 22 3z"/>
<path fill="#a23176" d="M493 742l24 1 34-3 22-3 23-7 33-16 48-29 53-29 23-17 9-10 7-11 4-11 2-11-1-23-30-135-11-45-7-22-10-23-13-22-18-22-11-12-13-11-21-15-15-8-18-6-23-4-45-6-45-10-22-3-23-1-22 2-34 8-21 9-22 11-34 23-12 11-12 13-14 21-42 75-18 37-7 23-6 22-2 23 1 11 2 11 8 23 29 56 23 33 15 17 11 10 11 9 23 14 13 7 28 11 82 25 23 6 21 3z"/>
<path fill="#b63870" d="M482 719l35 3 22-1 23-3 34-9 33-15 76-42 18-12 14-11 9-11 6-11 3-11 0-23-4-22-25-113-15-56-15-34-11-17-13-16-12-12-20-15-13-7-20-7-23-4-45-5-67-17-11-1-23 1-11 2-23 7-26 13-35 22-14 11-14 16-12 15-45 69-13 24-9 22-6 23-3 22 0 12 2 11 5 22 10 23 11 22 13 23 13 18 11 12 11 10 23 16 34 16 79 29 22 7 21 4z"/>
<path fill="#c94067" d="M470 697l13 3 23 3 22 0 23-3 33-7 23-8 22-10 34-18 28-17 16-11 12-10 9-12 4-11 2-12 1-11-3-22-16-79-16-68-8-22-7-15-10-19-12-15-11-11-12-9-17-10-16-5-23-4-45-3-22-6-45-13-23-2-11 1-22 8-22 13-13 11-44 42-34 35-22 27-11 17-8 14-8 23-2 11-1 22 1 12 5 22 13 34 19 34 18 22 19 15 22 13 90 39 32 12z"/>
<path fill="#da4d5e" d="M460 674l23 7 11 2 23 2 34-3 22-5 23-7 22-8 22-10 34-21 17-13 10-11 7-11 3-12 2-11-2-34-11-67-8-34-7-22-11-29-9-16-8-11-17-18-11-8-11-6-22-7-57-5-22-4-45-11-11-1-12 0-11 3-11 5-11 7-38 33-56 45-22 23-8 11-11 20-5 14-3 22 1 11 4 23 7 22 10 23 8 14 12 16 11 12 11 9 23 14 67 33 33 14z"/>
<path fill="#e55f58" d="M481 663l25 4 33-1 34-6 34-11 33-16 23-15 12-11 9-11 5-12 3-11 1-11-1-34-9-56-5-23-7-22-8-20-8-14-15-19-16-14-17-10-23-6-22-4-90-8-23 2-11 4-22 12-68 46-22 20-10 11-8 11-6 11-4 12-3 11-1 11 3 23 6 22 9 23 13 22 9 11 11 12 15 11 22 13 67 32 32 11z"/>
<path fill="#eb7559" d="M463 640l31 9 23 1 34-2 31-8 25-8 27-14 18-13 8-9 7-12 5-11 2-11 2-23-5-45-8-39-11-28-12-20-11-14-11-9-11-8-11-5-23-8-34-5-33-2-23 0-22 3-12 2-11 4-22 10-45 26-20 15-12 11-9 11-7 11-5 12-3 11-1 11 2 23 6 22 4 11 11 22 9 12 14 14 22 17 34 17 47 19z"/>
<path fill="#ef8c61" d="M481 629l25 4 22 0 27-4 29-7 23-9 11-5 11-8 11-11 11-16 4-11 2-11 1-23-3-34-9-33-9-23-8-12-8-10-14-13-23-14-20-7-13-3-34-3-23 0-22 3-34 8-34 13-22 12-11 8-20 18-8 11-6 12-3 11-2 11 0 11 3 23 7 22 6 12 12 16 17 17 27 17 45 19 32 9z"/>
<path fill="#f0a36f" d="M455 607l28 6 23 2 22-1 23-4 22-5 24-9 18-12 11-11 6-11 4-11 2-12 0-22-6-34-3-11-11-23-11-14-11-11-11-8-23-12-23-6-11-2-22 0-34 4-34 6-34 12-22 13-9 7-11 11-7 12-4 11-3 11 0 11 0 12 5 22 11 23 8 11 10 10 17 12 28 14 28 9z"/>
<path fill="#f0b981" d="M428 584l21 6 23 4 22 0 12-1 35-9 29-11 20-11 10-11 5-12 2-11 0-14-4-20-7-19-9-14-10-12-12-11-19-11-18-5-22-2-45 2-34 6-23 8-11 6-9 7-10 12-3 6-6 16-2 11 0 12 5 22 5 11 7 12 10 11 14 11 24 11z"/>
<path fill="#efce94" d="M441 573l20 2 11-1 11-2 18-10 10-11 5-12 4-22 1-23-2-11-3-11-8-11-14-8-11-4-22-4-23 0-11 2-11 3-12 6-6 5-10 11-6 11-3 11 0 12 1 11 3 11 6 11 9 12 14 11 15 7 14 4z"/>
<path fill="#eee4aa" d="M426 551l12 3 11 1 12-2 11-7 6-7 5-11 2-11-2-16-2-7-7-11-13-11-12-3-11-2-11 2-11 4-12 10-5 11-2 12 1 11 4 11 8 11 6 6 10 6z"/>
<g fill="none" stroke="#fff" stroke-opacity="0.15" stroke-width="2.2">
<path d="M424 910l14 3 23 1 22-2 23-5 33-12 23-9 34-16 22-13 45-28 67-49 23-15 22-12 56-24 23-15 16-17 13-23 7-22 3-23-1-22-7-68 3-90-3-33-5-23-6-22-10-23-51-78-15-21-23-23-33-26-45-40-21-14-13-7-23-8-44-13-102-20-45-11-22-4-23 2-11 3-11 5-22 14-35 28-59 56-70 56-22 23-15 22-10 23-24 67-27 67-7 23-5 22-2 23-1 22 0 23 3 22 4 23 7 22 9 23 7 11 11 16 11 13 16 16 14 11 37 26 34 20 68 33 20 11 16 11 13 11 9 12 8 11 12 24 11 16 11 8 20 8z"/>
<path d="M450 787l22 5 11 1 34 0 56-10 23-6 22-9 22-13 50-36 17-11 57-31 19-14 15-16 10-18 3-11 2-22-3-34-18-101-10-45-9-34-13-34-12-22-16-23-20-22-27-26-22-19-23-14-22-10-34-9-67-10-45-5-45-2-23 3-22 6-34 16-33 22-23 17-23 20-21 22-16 23-12 22-32 67-14 34-9 23-6 22-2 23 0 11 1 11 6 23 10 22 12 23 35 56 18 22 19 19 19 15 15 10 34 19 45 20 79 30z"/>
<path d="M453 708l19 5 22 4 34 1 34-4 34-9 22-10 22-11 77-44 14-11 10-11 6-11 4-11 1-12-2-22-30-135-9-34-8-22-6-15-12-19-18-22-15-14-12-8-22-11-22-6-57-6-56-15-22-4-23 1-11 2-23 8-16 8-19 11-30 22-13 13-11 13-45 64-14 23-12 22-7 23-4 22-1 23 2 11 6 22 9 23 18 34 15 22 10 12 11 11 15 11 19 11 34 15 82 30z"/>
<path d="M477 652l29 5 22 0 34-5 34-9 32-14 19-11 16-14 7-8 6-12 4-11 2-11 0-34-6-45-5-22-7-23-12-28-12-17-11-12-11-9-22-11-12-4-22-4-34-4-45-2-22 2-12 2-11 4-22 11-34 20-22 15-19 15-11 11-9 11-6 11-5 12-3 11-1 11 2 23 11 33 11 23 8 11 9 11 13 11 22 15 56 27 23 9 16 6z"/>
<path d="M428 584l21 6 23 4 22 0 12-1 35-9 29-11 20-11 10-11 5-12 2-11 0-14-4-20-7-19-9-14-10-12-12-11-19-11-18-5-22-2-45 2-34 6-23 8-11 6-9 7-10 12-3 6-6 16-2 11 0 12 5 22 5 11 7 12 10 11 14 11 24 11z"/>
</g></g>
<rect x="0" y="0" width="1000" height="1000" fill="none" stroke="#2a2a2a" stroke-width="2.4"/>
</g>
<text x="2321.80" y="569.50" text-anchor="middle" class="st" textLength="85.98" lengthAdjust="spacingAndGlyphs">σ = 10.00</text>
<text x="2142.04" y="1046.40" text-anchor="middle" class="tk" textLength="23.42" lengthAdjust="spacingAndGlyphs">−20</text>
<text x="2086.60" y="986.56" text-anchor="end" class="tk" textLength="23.42" lengthAdjust="spacingAndGlyphs">−20</text>
<text x="2231.92" y="1046.40" text-anchor="middle" class="tk" textLength="23.42" lengthAdjust="spacingAndGlyphs">−10</text>
<text x="2086.60" y="896.68" text-anchor="end" class="tk" textLength="23.42" lengthAdjust="spacingAndGlyphs">−10</text>
<text x="2321.80" y="1046.40" text-anchor="middle" class="tk" textLength="7.06" lengthAdjust="spacingAndGlyphs">0</text>
<text x="2086.60" y="806.80" text-anchor="end" class="tk" textLength="7.06" lengthAdjust="spacingAndGlyphs">0</text>
<text x="2411.68" y="1046.40" text-anchor="middle" class="tk" textLength="14.12" lengthAdjust="spacingAndGlyphs">10</text>
<text x="2086.60" y="716.92" text-anchor="end" class="tk" textLength="14.12" lengthAdjust="spacingAndGlyphs">10</text>
<text x="2501.56" y="1046.40" text-anchor="middle" class="tk" textLength="14.12" lengthAdjust="spacingAndGlyphs">20</text>
<text x="2086.60" y="627.04" text-anchor="end" class="tk" textLength="14.12" lengthAdjust="spacingAndGlyphs">20</text>
<path d="M2142.04 1027.40v4.90M2097.10 982.46h-4.90M2231.92 1027.40v4.90M2097.10 892.58h-4.90M2321.80 1027.40v4.90M2097.10 802.70h-4.90M2411.68 1027.40v4.90M2097.10 712.82h-4.90M2501.56 1027.40v4.90M2097.10 622.94h-4.90" stroke="#3e3e3e" stroke-width="1.1"/>
</svg>
</body></html>
